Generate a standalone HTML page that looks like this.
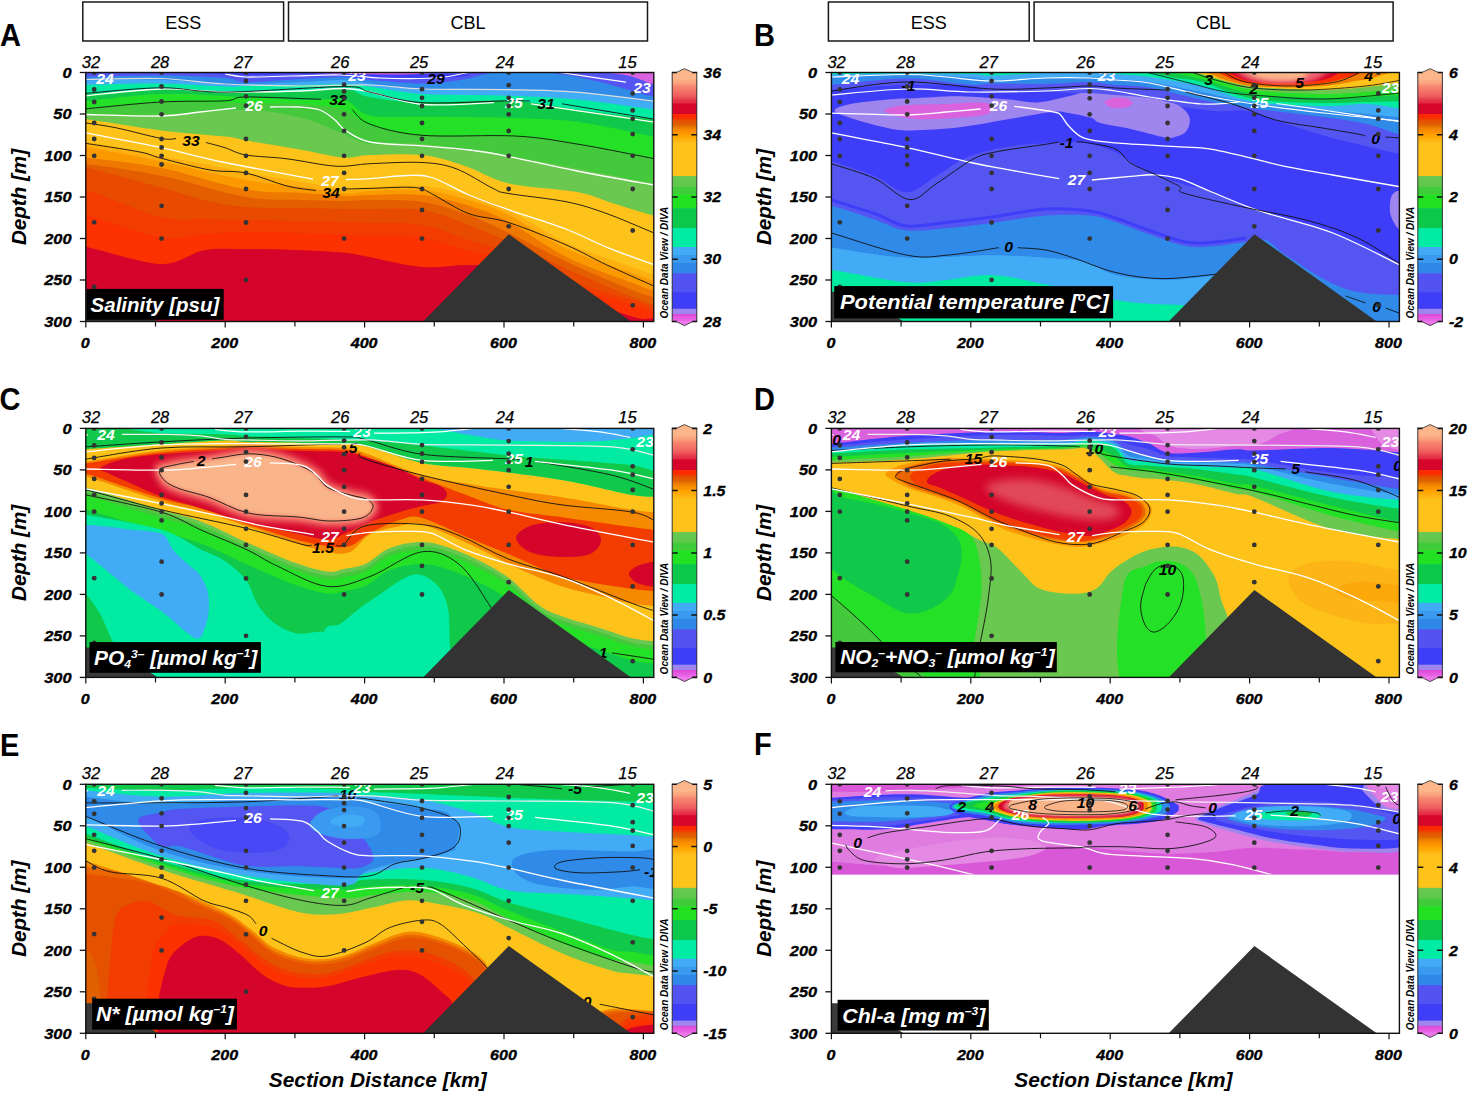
<!DOCTYPE html><html><head><meta charset="utf-8"><style>
html,body{margin:0;padding:0;background:#fff;}
svg{display:block;}
text{font-family:"Liberation Sans", sans-serif;}
.tk{font-size:15.3px;font-weight:bold;font-style:italic;fill:#000;stroke:#000;stroke-width:0.35px;}
.tl{font-size:14.5px;font-weight:bold;font-style:italic;fill:#000;stroke:#000;stroke-width:0.3px;}
.st{font-size:16.5px;font-style:italic;fill:#000;stroke:#000;stroke-width:0.25px;}
.pl{font-size:29px;font-weight:bold;fill:#000;}
.ax{font-size:20px;font-weight:bold;font-style:italic;fill:#000;}
.odv{font-size:10px;font-weight:bold;font-style:italic;fill:#000;}
.bx{font-size:18px;fill:#000;}
.ttl{font-size:20.5px;font-weight:bold;font-style:italic;fill:#fff;}
.cw{font-size:14.3px;font-weight:bold;font-style:italic;fill:#fff;}
.cb{font-size:14.3px;font-weight:bold;font-style:italic;fill:#000;}
</style></head><body>
<svg width="1468" height="1093" viewBox="0 0 1468 1093">
<defs><filter id="blur1_5" x="-20%" y="-50%" width="140%" height="200%"><feGaussianBlur stdDeviation="1.5"/></filter><filter id="blur2" x="-20%" y="-50%" width="140%" height="200%"><feGaussianBlur stdDeviation="2"/></filter><filter id="blur2_5" x="-20%" y="-50%" width="140%" height="200%"><feGaussianBlur stdDeviation="2.5"/></filter><filter id="blur3" x="-20%" y="-50%" width="140%" height="200%"><feGaussianBlur stdDeviation="3"/></filter><filter id="blur4" x="-20%" y="-50%" width="140%" height="200%"><feGaussianBlur stdDeviation="4"/></filter></defs>
<rect width="1468" height="1093" fill="#fff"/>
<rect x="82.8" y="2" width="200.8" height="39" fill="none" stroke="#181818" stroke-width="1.5"/>
<rect x="288.5" y="2" width="359" height="39" fill="none" stroke="#181818" stroke-width="1.5"/>
<text x="183.2" y="28.5" class="bx" text-anchor="middle">ESS</text>
<text x="468" y="28.5" class="bx" text-anchor="middle">CBL</text>
<rect x="828.4" y="2" width="200.8" height="39" fill="none" stroke="#181818" stroke-width="1.5"/>
<rect x="1034.1" y="2" width="359" height="39" fill="none" stroke="#181818" stroke-width="1.5"/>
<text x="928.8" y="28.5" class="bx" text-anchor="middle">ESS</text>
<text x="1213.6" y="28.5" class="bx" text-anchor="middle">CBL</text>
<clipPath id="clip0"><rect x="85.8" y="72.5" width="568" height="249"/></clipPath>
<g clip-path="url(#clip0)">
<rect x="85.8" y="72.5" width="568" height="249" fill="#D4042A"/>
<path d="M66 67.5 L66 247 C69.3 247 70.2 244.2 86 247 C101.8 249.8 141.3 263.5 161 264 C180.7 264.5 189.8 252.7 204 250.2 C218.2 247.7 229.7 249 246 249 C262.3 249 285.5 249.6 302 250.2 C318.5 250.8 334 251.6 345 252.7 C356 253.8 355.2 254.3 368 256.7 C380.8 259.1 405.2 265.6 422 267 C438.8 268.4 452.7 264.8 469 265 C485.3 265.2 504.8 263.8 520 268 C535.2 272.2 541.3 281.9 560 290 C578.7 298.1 616.2 311.7 632 316.4 C647.8 321.1 647.8 317.7 655 318 C662.2 318.3 671.7 318 675 318 L675 67.5 Z" fill="#FB3200"/>
<path d="M66 67.5 L66 215 C69.3 215 70.2 211.2 86 215 C101.8 218.8 141.3 234.3 161 237.5 C180.7 240.7 189.8 234.9 204 234 C218.2 233.1 229.7 232.2 246 232 C262.3 231.8 285.5 232.5 302 233 C318.5 233.5 333.7 234.5 345 235 C356.3 235.5 357.2 235.6 370 236 C382.8 236.4 405.5 234.9 422 237.4 C438.5 239.9 452.7 246.9 469 251 C485.3 255.1 503.7 256.3 520 262 C536.3 267.7 548.3 277.9 567 285 C585.7 292.1 617.3 300 632 304.6 C646.7 309.2 647.8 311.2 655 312.5 C662.2 313.8 671.7 312.5 675 312.5 L675 67.5 Z" fill="#F23C00"/>
<path d="M66 67.5 L66 190 C69.3 190 70.2 185.5 86 190 C101.8 194.5 141.3 212.2 161 217 C180.7 221.8 189.8 218.5 204 219 C218.2 219.5 229.7 219.7 246 220 C262.3 220.3 285.5 220.7 302 221 C318.5 221.3 333.7 221.7 345 222 C356.3 222.3 357.2 222.5 370 223 C382.8 223.5 405.5 222.2 422 225 C438.5 227.8 452.7 234.8 469 240 C485.3 245.2 503.7 249.3 520 256 C536.3 262.7 548.3 272.7 567 280 C585.7 287.3 617.3 295.3 632 300 C646.7 304.7 647.8 306.7 655 308 C662.2 309.3 671.7 308 675 308 L675 67.5 Z" fill="#E84A00"/>
<path d="M66 67.5 L66 167.3 C69.3 167.3 70.2 163.9 86 167.3 C101.8 170.7 141.3 182.2 161 187.6 C180.7 193 189.8 196.8 204 200 C218.2 203.2 229.7 205.7 246 207 C262.3 208.3 285.5 207.7 302 208 C318.5 208.3 333.7 208.8 345 209 C356.3 209.2 357.2 208.9 370 209 C382.8 209.1 405.5 207.1 422 209.8 C438.5 212.5 454.5 219.6 469 225 C483.5 230.4 492.7 234.7 509 242 C525.3 249.3 546.5 259.9 567 269 C587.5 278.1 617.3 290.8 632 296.7 C646.7 302.6 647.8 303.3 655 304.6 C662.2 305.9 671.7 304.6 675 304.6 L675 67.5 Z" fill="#E45E00"/>
<path d="M66 67.5 L66 164 C69.3 164 70.2 162.1 86 164 C101.8 165.9 134.3 170.2 161 175.7 C187.7 181.2 222.5 192.9 246 197 C269.5 201.1 285.5 199.3 302 200 C318.5 200.7 333.7 201 345 201 C356.3 201 357.2 199.8 370 200 C382.8 200.2 405.5 199.4 422 201.9 C438.5 204.4 454.5 209.8 469 215 C483.5 220.2 492.7 225.2 509 233 C525.3 240.8 546.5 252.5 567 262 C587.5 271.5 617.3 284.2 632 290 C646.7 295.8 647.8 295.8 655 297 C662.2 298.2 671.7 297 675 297 L675 67.5 Z" fill="#EE7800"/>
<path d="M66 67.5 L66 157.8 C69.3 157.8 70.2 156.1 86 157.8 C101.8 159.5 134.3 162.7 161 168 C187.7 173.3 222.5 185.3 246 189.5 C269.5 193.7 285.5 191.9 302 193 C318.5 194.1 333.7 195.7 345 196 C356.3 196.3 357.2 195.2 370 195 C382.8 194.8 405.5 193.2 422 195 C438.5 196.8 454.5 201.3 469 205.8 C483.5 210.3 492.7 213.4 509 222 C525.3 230.6 546.5 247.1 567 257.2 C587.5 267.3 617.3 277.2 632 282.8 C646.7 288.4 647.8 289.5 655 290.8 C662.2 292.1 671.7 290.8 675 290.8 L675 67.5 Z" fill="#FA9A00"/>
<path d="M66 67.5 L66 147 C69.3 147 70.2 144.6 86 147 C101.8 149.4 134.3 155.9 161 161.4 C187.7 166.9 222.5 175.7 246 180 C269.5 184.3 285.5 184.8 302 187 C318.5 189.2 333.7 192.8 345 193.5 C356.3 194.2 357.2 191.6 370 191 C382.8 190.4 405.5 188.5 422 190 C438.5 191.5 454.5 195.8 469 200 C483.5 204.2 492.7 206.8 509 215 C525.3 223.2 546.5 239.3 567 249 C587.5 258.7 617.3 267.7 632 273 C646.7 278.3 647.8 279.7 655 281 C662.2 282.3 671.7 281 675 281 L675 67.5 Z" fill="#FDB010"/>
<path d="M66 67.5 L66 142 C69.3 142 70.2 139.7 86 142 C101.8 144.3 137.8 151.7 161 156 C184.2 160.3 210.8 165.2 225 168 C239.2 170.8 233.2 170.7 246 173 C258.8 175.3 285.5 179.3 302 182 C318.5 184.7 333.7 188.2 345 189 C356.3 189.8 357.2 187.5 370 187 C382.8 186.5 405.5 184.7 422 186 C438.5 187.3 454.5 191 469 195 C483.5 199 492.7 202 509 210 C525.3 218 546.5 233.5 567 243 C587.5 252.5 617.3 261.7 632 267 C646.7 272.3 647.8 273.7 655 275 C662.2 276.3 671.7 275 675 275 L675 67.5 Z" fill="#FEC31A"/>
<path d="M66 67.5 L66 119.3 C69.3 119.3 70.2 117.4 86 119.3 C101.8 121.2 137.8 127.5 161 130.4 C184.2 133.3 210.8 134.9 225 136.6 C239.2 138.3 233.2 138.3 246 140.5 C258.8 142.7 285.7 147.2 302 150 C318.3 152.8 332.7 156.8 344 157.6 C355.3 158.4 357 155.5 370 155.1 C383 154.7 406.2 153.3 422 155.1 C437.8 156.9 450.5 161.3 465 166 C479.5 170.7 490.3 179.2 509 183.5 C527.7 187.8 559.8 188.8 577 192.1 C594.2 195.3 599 199.1 612 203 C625 206.9 644.5 213.6 655 215.7 C665.5 217.8 671.7 215.7 675 215.7 L675 67.5 Z" fill="#6AC850"/>
<path d="M66 67.5 L66 114 C69.3 114 70.2 114 86 114 C101.8 114 134.3 115 161 114.3 C187.7 113.6 222.5 109.4 246 110 C269.5 110.6 285.7 114 302 118 C318.3 122 332.7 129.7 344 134 C355.3 138.3 357 142.3 370 144 C383 145.7 398.8 141.9 422 144 C445.2 146.1 483.2 152.2 509 156.3 C534.8 160.4 552.7 164.2 577 168.7 C601.3 173.2 638.7 181 655 183.5 C671.3 186 671.7 183.5 675 183.5 L675 67.5 Z" fill="#44C83C"/>
<path d="M66 67.5 L66 108.8 C69.3 108.8 70.2 109.9 86 108.8 C101.8 107.7 134.3 102.9 161 102 C187.7 101.1 222.5 102.9 246 103.2 C269.5 103.5 285.7 102.9 302 104 C318.3 105.1 332.7 106.4 344 110 C355.3 113.6 357 121.3 370 125.5 C383 129.7 397.8 133.5 422 135.3 C446.2 137.2 489.2 135.2 515 136.6 C540.8 138 553.7 140.3 577 144 C600.3 147.7 638.7 156.3 655 158.8 C671.3 161.3 671.7 158.8 675 158.8 L675 67.5 Z" fill="#24E026"/>
<path d="M66 67.5 L66 101 C69.3 101 70.2 102.2 86 101 C101.8 99.8 134.3 94.7 161 94 C187.7 93.3 222.5 96 246 97 C269.5 98 285.7 99.5 302 100 C318.3 100.5 332.7 97.4 344 100 C355.3 102.6 357 112.8 370 115.6 C383 118.4 398.8 116.4 422 116.8 C445.2 117.2 483.2 117.2 509 118 C534.8 118.8 552.7 118.7 577 121.8 C601.3 124.9 638.7 134.1 655 136.6 C671.3 139.1 671.7 136.6 675 136.6 L675 67.5 Z" fill="#10C84A"/>
<path d="M66 67.5 L66 94 C69.3 94 70.2 94.8 86 94 C101.8 93.2 137.8 89.3 161 89 C184.2 88.7 210.8 91.8 225 92.1 C239.2 92.4 233.2 91.2 246 91 C258.8 90.8 285.7 91.4 302 91 C318.3 90.6 332.7 87.4 344 88.4 C355.3 89.4 357 94.7 370 97.1 C383 99.5 398.8 102 422 102.6 C445.2 103.2 483.2 99.7 509 100.8 C534.8 101.9 552.7 106.3 577 109.4 C601.3 112.5 638.7 117.7 655 119.3 C671.3 120.9 671.7 119.3 675 119.3 L675 67.5 Z" fill="#02EBA3"/>
<path d="M66 67.5 L66 84.7 C69.3 84.7 70.2 84.9 86 84.7 C101.8 84.5 137.8 83.2 161 83.5 C184.2 83.8 210.8 86.2 225 86.6 C239.2 87 233.2 86.3 246 86 C258.8 85.7 285.7 85.3 302 85 C318.3 84.7 332.7 83.7 344 84 C355.3 84.3 357 84.9 370 86.6 C383 88.3 398.8 92.5 422 94 C445.2 95.5 483.2 94.9 509 95.8 C534.8 96.7 552.7 97.2 577 99.5 C601.3 101.8 638.7 107.8 655 109.4 C671.3 111.1 671.7 109.4 675 109.4 L675 67.5 Z" fill="#42ABF6"/>
<path d="M66 67.5 L66 80.4 C69.3 80.4 70.2 80.5 86 80.4 C101.8 80.3 137.8 79.1 161 79.8 C184.2 80.5 210.8 83.9 225 84.7 C239.2 85.5 233.2 85 246 84.5 C258.8 84 285.7 82.8 302 82 C318.3 81.2 332.7 79.8 344 80 C355.3 80.2 357 81.9 370 83.5 C383 85.1 398.8 88.6 422 89.6 C445.2 90.6 483.2 89.2 509 89.6 C534.8 90 552.7 90 577 92.1 C601.3 94.2 638.7 100.3 655 102 C671.3 103.7 671.7 102 675 102 L675 67.5 Z" fill="#2F8AE8"/>
<path d="M66 67.5 L66 76.7 C69.3 76.7 70.2 76.9 86 76.7 C101.8 76.5 137.8 75.2 161 75.4 C184.2 75.6 210.8 76.8 225 77.9 C239.2 79 233.2 82 246 82.2 C258.8 82.4 285.7 79.9 302 79 C318.3 78.1 332.7 76.8 344 77 C355.3 77.2 357 78.9 370 80 C383 81.1 407 83.5 422 83.5 C437 83.5 448.7 81.8 460 80 C471.3 78.2 481.8 74.7 490 73 C498.2 71.3 502.3 70.3 509 70 C515.7 69.7 521.5 70.3 530 71 C538.5 71.7 548.3 72.2 560 74 C571.7 75.8 584.2 78.2 600 82 C615.8 85.8 642.5 94.5 655 97 C667.5 99.5 671.7 97 675 97 L675 67.5 Z" fill="#5555F2"/>
<path d="M200 73 C201 73.5 231 74.8 246 75 C261 75.2 276 74 290 74 C304 74 315 74.5 330 75 C345 75.5 361.7 76.5 380 77 C398.3 77.5 425 78.3 440 78 C455 77.7 470 75.7 470 75 C470 74.3 455 74.2 440 74 C425 73.8 403.3 74.3 380 74 C356.7 73.7 323.3 72.3 300 72 C276.7 71.7 256.7 71.8 240 72 C223.3 72.2 199 72.5 200 73 Z" fill="#3E3EF8"/>
<path d="M290 72 C290 72.4 311.7 73.1 330 73.5 C348.3 73.9 383.3 74.6 400 74.5 C416.7 74.4 430 73.5 430 73 C430 72.5 416.7 71.8 400 71.5 C383.3 71.2 348.3 70.9 330 71 C311.7 71.1 290 71.6 290 72 Z" fill="#DA62DC"/>
<path d="M600 71 C595 72 620.7 73.8 630 76 C639.3 78.2 651 85 656 84 C661 83 669.3 72.2 660 70 C650.7 67.8 605 70 600 71 Z" fill="#DA62DC"/>
<path d="M86 79.5 C98.5 79.3 137.8 77.8 161 78.5 C184.2 79.2 201.8 82.8 225 84 C248.2 85.2 275.8 85.8 300 86 C324.2 86.2 349.7 84.5 370 85 C390.3 85.5 399 88.2 422 89 C445 89.8 482.2 89.1 508 89.6 C533.8 90.1 552.3 90.1 577 92.1 C601.7 94.1 642.8 99.9 656 101.4" fill="none" stroke="#ddd" stroke-width="1.2"/>
<path d="M225 74 C228.5 74.5 235.2 76.7 246 77 C256.8 77.3 274.3 76.3 290 76 C305.7 75.7 325 74.7 340 75 C355 75.3 366.7 77.4 380 78 C393.3 78.6 409.2 78.7 420 78.5 C430.8 78.3 436.7 78.1 445 77 C453.3 75.9 465.8 72.8 470 72" fill="none" stroke="#fff" stroke-width="1.2"/>
<path d="M560 72.5 C571 74.1 615 80.6 626 82.2" fill="none" stroke="#fff" stroke-width="1.2"/>
<path d="M86 95.8 C98.5 94.7 137.8 89.6 161 89 C184.2 88.4 201.8 91.7 225 92 C248.2 92.3 280.2 91.6 300 91 C319.8 90.4 332.3 88.3 344 88.5 C355.7 88.7 357 89.3 370 92 C383 94.7 401.3 102.7 422 104.5 C442.7 106.3 482 102.9 494 102.6" fill="none" stroke="#fff" stroke-width="1.3"/>
<path d="M531 103.8 C538.7 104.9 556.2 107.5 577 110.6 C597.8 113.7 642.8 120.4 656 122.4" fill="none" stroke="#fff" stroke-width="1.3"/>
<path d="M86 114.5 C98.5 114.8 142 116.4 161 116 C180 115.6 187.5 113.3 200 112 C212.5 110.7 230 108.7 236 108" fill="none" stroke="#fff" stroke-width="1.3"/>
<path d="M270 107 C275 107 291.7 106.5 300 107 C308.3 107.5 314.2 107.8 320 110 C325.8 112.2 330.8 116.7 335 120 C339.2 123.3 339.2 126.3 345 130 C350.8 133.7 357.2 139.4 370 142 C382.8 144.6 405.3 144.5 422 145.8 C438.7 147.1 455.7 148.2 470 150 C484.3 151.8 490.2 152.8 508 156.3 C525.8 159.8 552.3 166.1 577 171 C601.7 175.9 642.8 183.1 656 185.5" fill="none" stroke="#fff" stroke-width="1.3"/>
<path d="M86 132.9 C98.5 135.4 137.8 142.8 161 147.7 C184.2 152.6 199.7 157.3 225 162.5 C250.3 167.7 298.3 176.2 313 179" fill="none" stroke="#fff" stroke-width="1.3"/>
<path d="M346 179.5 C350 179.3 359.8 179.3 370 178.6 C380.2 177.9 396.7 175.7 407 175.5 C417.3 175.3 421.7 174.2 432 177.5 C442.3 180.8 456.2 189.6 469 195 C481.8 200.4 492.7 204.1 509 209.8 C525.3 215.6 550.7 223.2 567 229.5 C583.3 235.8 592.2 241.3 607 247.3 C621.8 253.3 647.8 262.5 656 265.5" fill="none" stroke="#fff" stroke-width="1.3"/>
<path d="M86 143.4 C95 144.8 127.5 149.5 140 152 C152.5 154.5 149.3 155.2 161 158.2 C172.7 161.2 195.8 167.5 210 170 C224.2 172.5 233.2 170.3 246 173 C258.8 175.7 275.3 183.1 287 186 C298.7 188.9 311.2 189.8 316 190.5" fill="none" stroke="#111" stroke-width="0.9"/>
<path d="M344 189 C348.3 188.9 359.5 188.7 370 188.4 C380.5 188.1 398.3 187.1 407 187.2 C415.7 187.3 417.5 187.7 422 189 C426.5 190.3 426.2 190.9 434 195 C441.8 199.1 456.5 209.1 469 213.7 C481.5 218.3 492.7 217.3 509 222.6 C525.3 227.9 550.7 238.2 567 245.3 C583.3 252.4 592.2 258.1 607 265 C621.8 271.9 647.8 283.3 656 287" fill="none" stroke="#111" stroke-width="0.9"/>
<path d="M86 123 C91.2 123.8 104.5 125.4 117 128 C129.5 130.6 151.2 136.6 161 138.4 C170.8 140.2 173.5 138.6 176 138.6" fill="none" stroke="#111" stroke-width="0.9"/>
<path d="M206 142.5 C209.2 143.4 218.3 145.6 225 147.7 C231.7 149.8 235.7 153.2 246 155 C256.3 156.8 272 156.9 287 158.8 C302 160.7 322.2 165.4 336 166.2 C349.8 167 355.7 164.3 370 163.7 C384.3 163.1 407.7 161.7 422 162.5 C436.3 163.3 444.2 164.4 456 168.7 C467.8 173 484.3 184.3 493 188.4 C501.7 192.5 495.7 191.2 508 193.4 C520.3 195.7 550.5 198.5 567 201.9 C583.5 205.3 592.2 208.4 607 213.7 C621.8 219 647.8 230.5 656 233.8" fill="none" stroke="#111" stroke-width="0.9"/>
<path d="M86 108.8 C98.5 107.7 137.8 103.3 161 102 C184.2 100.7 210.8 101.6 225 100.8 C239.2 100 230 97.2 246 97 C262 96.8 308.5 98.9 321 99.3" fill="none" stroke="#111" stroke-width="0.9"/>
<path d="M352 109.4 C355 111.9 358.3 119.9 370 124.2 C381.7 128.5 397.8 133.3 422 135.3 C446.2 137.3 489.2 134.6 515 136 C540.8 137.4 553.5 140.2 577 144 C600.5 147.8 642.8 156.5 656 159" fill="none" stroke="#111" stroke-width="0.9"/>
<path d="M86 93.3 C98.5 92.4 137.8 88 161 87.8 C184.2 87.6 194.5 92.3 225 92.1 C255.5 91.9 319.8 86.6 344 86.6 C368.2 86.6 357 89.4 370 92.1 C383 94.8 399 101.1 422 102.6 C445 104 490 101.1 508 100.8 C526 100.5 526.3 101 530 101" fill="none" stroke="#111" stroke-width="0.9"/>
<path d="M562 103.8 C577.7 106.4 640.3 116.9 656 119.5" fill="none" stroke="#111" stroke-width="0.9"/>
<text transform="translate(105 84) scale(1.1 1)" class="cw" text-anchor="middle">24</text>
<text transform="translate(254 111) scale(1.1 1)" class="cw" text-anchor="middle">26</text>
<text transform="translate(338 105) scale(1.1 1)" class="cb" text-anchor="middle">32</text>
<text transform="translate(191 146) scale(1.1 1)" class="cb" text-anchor="middle">33</text>
<text transform="translate(330 186) scale(1.1 1)" class="cw" text-anchor="middle">27</text>
<text transform="translate(331 198) scale(1.1 1)" class="cb" text-anchor="middle">34</text>
<text transform="translate(514 108) scale(1.1 1)" class="cw" text-anchor="middle">25</text>
<text transform="translate(546 108.5) scale(1.1 1)" class="cb" text-anchor="middle">31</text>
<text transform="translate(436 84) scale(1.1 1)" class="cb" text-anchor="middle">29</text>
<text transform="translate(357 81) scale(1.1 1)" class="cw" text-anchor="middle">23</text>
<text transform="translate(642 93) scale(1.1 1)" class="cw" text-anchor="middle">23</text>
</g>
<path d="M422.6 322 L508.8 234.2 L631.8 322 Z" fill="#333"/>
<g clip-path="url(#clip0)">
<circle cx="94.2" cy="72.5" r="2.4" fill="#333"/>
<circle cx="94.2" cy="89.5" r="2.4" fill="#333"/>
<circle cx="94.2" cy="102" r="2.4" fill="#333"/>
<circle cx="94.2" cy="123" r="2.4" fill="#333"/>
<circle cx="94.2" cy="139" r="2.4" fill="#333"/>
<circle cx="94.2" cy="155.8" r="2.4" fill="#333"/>
<circle cx="94.2" cy="222.3" r="2.4" fill="#333"/>
<circle cx="94.2" cy="287" r="2.4" fill="#333"/>
<circle cx="161.6" cy="72.5" r="2.4" fill="#333"/>
<circle cx="161.6" cy="86.5" r="2.4" fill="#333"/>
<circle cx="161.6" cy="101.5" r="2.4" fill="#333"/>
<circle cx="161.6" cy="114.3" r="2.4" fill="#333"/>
<circle cx="161.6" cy="139" r="2.4" fill="#333"/>
<circle cx="161.6" cy="147.5" r="2.4" fill="#333"/>
<circle cx="161.6" cy="155.8" r="2.4" fill="#333"/>
<circle cx="161.6" cy="164.5" r="2.4" fill="#333"/>
<circle cx="161.6" cy="205.8" r="2.4" fill="#333"/>
<circle cx="161.6" cy="238.6" r="2.4" fill="#333"/>
<circle cx="246" cy="72.5" r="2.4" fill="#333"/>
<circle cx="246" cy="81" r="2.4" fill="#333"/>
<circle cx="246" cy="96.3" r="2.4" fill="#333"/>
<circle cx="246" cy="105.7" r="2.4" fill="#333"/>
<circle cx="246" cy="139" r="2.4" fill="#333"/>
<circle cx="246" cy="155.8" r="2.4" fill="#333"/>
<circle cx="246" cy="172.9" r="2.4" fill="#333"/>
<circle cx="246" cy="189" r="2.4" fill="#333"/>
<circle cx="246" cy="222.5" r="2.4" fill="#333"/>
<circle cx="246" cy="279.9" r="2.4" fill="#333"/>
<circle cx="344.1" cy="72.5" r="2.4" fill="#333"/>
<circle cx="344.1" cy="84.7" r="2.4" fill="#333"/>
<circle cx="344.1" cy="91.4" r="2.4" fill="#333"/>
<circle cx="344.1" cy="98.3" r="2.4" fill="#333"/>
<circle cx="344.1" cy="114.3" r="2.4" fill="#333"/>
<circle cx="344.1" cy="130.9" r="2.4" fill="#333"/>
<circle cx="344.1" cy="155.8" r="2.4" fill="#333"/>
<circle cx="344.1" cy="172.9" r="2.4" fill="#333"/>
<circle cx="344.1" cy="189" r="2.4" fill="#333"/>
<circle cx="344.1" cy="238.6" r="2.4" fill="#333"/>
<circle cx="422" cy="72.5" r="2.4" fill="#333"/>
<circle cx="422" cy="89.2" r="2.4" fill="#333"/>
<circle cx="422" cy="97.8" r="2.4" fill="#333"/>
<circle cx="422" cy="106" r="2.4" fill="#333"/>
<circle cx="422" cy="123" r="2.4" fill="#333"/>
<circle cx="422" cy="139" r="2.4" fill="#333"/>
<circle cx="422" cy="155.8" r="2.4" fill="#333"/>
<circle cx="422" cy="189" r="2.4" fill="#333"/>
<circle cx="422" cy="210" r="2.4" fill="#333"/>
<circle cx="422" cy="238.6" r="2.4" fill="#333"/>
<circle cx="508.7" cy="72.5" r="2.4" fill="#333"/>
<circle cx="508.7" cy="85.2" r="2.4" fill="#333"/>
<circle cx="508.7" cy="97.8" r="2.4" fill="#333"/>
<circle cx="508.7" cy="106" r="2.4" fill="#333"/>
<circle cx="508.7" cy="114.3" r="2.4" fill="#333"/>
<circle cx="508.7" cy="130.9" r="2.4" fill="#333"/>
<circle cx="508.7" cy="155.8" r="2.4" fill="#333"/>
<circle cx="508.7" cy="189" r="2.4" fill="#333"/>
<circle cx="508.7" cy="226.3" r="2.4" fill="#333"/>
<circle cx="632.7" cy="72.5" r="2.4" fill="#333"/>
<circle cx="632.7" cy="93.4" r="2.4" fill="#333"/>
<circle cx="632.7" cy="110.4" r="2.4" fill="#333"/>
<circle cx="632.7" cy="118.8" r="2.4" fill="#333"/>
<circle cx="632.7" cy="134.1" r="2.4" fill="#333"/>
<circle cx="632.7" cy="155.8" r="2.4" fill="#333"/>
<circle cx="632.7" cy="189" r="2.4" fill="#333"/>
<circle cx="632.7" cy="230.5" r="2.4" fill="#333"/>
<circle cx="632.7" cy="305.3" r="2.4" fill="#333"/>
</g>
<path d="M85.8 291.7 L110 291.7 L158 321.5 L85.8 321.5 Z" fill="#3a3a3a"/><rect x="86.5" y="288.9" width="137.2" height="30.9" fill="#000"/><text x="90.6" y="311.6" class="ttl" style="font-size:21px" textLength="128.7" lengthAdjust="spacingAndGlyphs">Salinity [psu]</text>
<rect x="85.8" y="72.5" width="568" height="249" fill="none" stroke="#111" stroke-width="1.4"/>
<path d="M85.8 72.5 h-6" stroke="#111" stroke-width="1.3"/>
<text transform="translate(71.5 77.8) scale(1.07 1)" class="tk" text-anchor="end">0</text>
<path d="M85.8 114 h-6" stroke="#111" stroke-width="1.3"/>
<text transform="translate(71.5 119.3) scale(1.07 1)" class="tk" text-anchor="end">50</text>
<path d="M85.8 155.5 h-6" stroke="#111" stroke-width="1.3"/>
<text transform="translate(71.5 160.8) scale(1.07 1)" class="tk" text-anchor="end">100</text>
<path d="M85.8 197 h-6" stroke="#111" stroke-width="1.3"/>
<text transform="translate(71.5 202.3) scale(1.07 1)" class="tk" text-anchor="end">150</text>
<path d="M85.8 238.5 h-6" stroke="#111" stroke-width="1.3"/>
<text transform="translate(71.5 243.8) scale(1.07 1)" class="tk" text-anchor="end">200</text>
<path d="M85.8 280 h-6" stroke="#111" stroke-width="1.3"/>
<text transform="translate(71.5 285.3) scale(1.07 1)" class="tk" text-anchor="end">250</text>
<path d="M85.8 321.5 h-6" stroke="#111" stroke-width="1.3"/>
<text transform="translate(71.5 326.8) scale(1.07 1)" class="tk" text-anchor="end">300</text>
<path d="M85.8 321.5 v6" stroke="#111" stroke-width="1.2"/>
<text transform="translate(85.3 348.3) scale(1.05 1)" class="tk" text-anchor="middle">0</text>
<path d="M155.5 321.5 v5" stroke="#111" stroke-width="1.2"/>
<path d="M225.2 321.5 v6" stroke="#111" stroke-width="1.2"/>
<text transform="translate(224.7 348.3) scale(1.05 1)" class="tk" text-anchor="middle">200</text>
<path d="M294.9 321.5 v5" stroke="#111" stroke-width="1.2"/>
<path d="M364.6 321.5 v6" stroke="#111" stroke-width="1.2"/>
<text transform="translate(364.1 348.3) scale(1.05 1)" class="tk" text-anchor="middle">400</text>
<path d="M434.3 321.5 v5" stroke="#111" stroke-width="1.2"/>
<path d="M504 321.5 v6" stroke="#111" stroke-width="1.2"/>
<text transform="translate(503.5 348.3) scale(1.05 1)" class="tk" text-anchor="middle">600</text>
<path d="M573.7 321.5 v5" stroke="#111" stroke-width="1.2"/>
<path d="M643.4 321.5 v6" stroke="#111" stroke-width="1.2"/>
<text transform="translate(642.9 348.3) scale(1.05 1)" class="tk" text-anchor="middle">800</text>
<text x="91" y="67.5" class="st" text-anchor="middle">32</text>
<text x="160.1" y="67.5" class="st" text-anchor="middle">28</text>
<text x="243.1" y="67.5" class="st" text-anchor="middle">27</text>
<text x="340.2" y="67.5" class="st" text-anchor="middle">26</text>
<text x="419.1" y="67.5" class="st" text-anchor="middle">25</text>
<text x="505" y="67.5" class="st" text-anchor="middle">24</text>
<text x="627.4" y="67.5" class="st" text-anchor="middle">15</text>
<text transform="translate(0 45.7) scale(1 1.08)" class="pl">A</text>
<text transform="translate(25.5 197) rotate(-90) scale(1.03 1)" class="ax" text-anchor="middle">Depth [m]</text>
<defs>
<linearGradient id="cbg1_672_72" x1="0" y1="0" x2="0" y2="1"><stop offset="0" stop-color="#FDB68A"/><stop offset="0.2" stop-color="#FA9E7C"/><stop offset="0.3" stop-color="#F8866F"/><stop offset="0.5" stop-color="#F47266"/><stop offset="0.7" stop-color="#EE5A5E"/><stop offset="0.8" stop-color="#E8404F"/><stop offset="1" stop-color="#E2203F"/></linearGradient>
<linearGradient id="cbg4_672_72" x1="0" y1="0" x2="0" y2="1"><stop offset="0" stop-color="#FB2A00"/><stop offset="0.1" stop-color="#E84A00"/><stop offset="0.3" stop-color="#DD6600"/><stop offset="0.4" stop-color="#F08000"/><stop offset="0.6" stop-color="#FF9500"/><stop offset="0.7" stop-color="#FFA500"/><stop offset="0.9" stop-color="#FDB515"/><stop offset="1" stop-color="#FEC31A"/></linearGradient>
<linearGradient id="cbg6_672_72" x1="0" y1="0" x2="0" y2="1"><stop offset="0" stop-color="#6BC853"/><stop offset="1" stop-color="#5CC84A"/></linearGradient>
<linearGradient id="cbg17_672_72" x1="0" y1="0" x2="0" y2="1"><stop offset="0" stop-color="#DE46D6"/><stop offset="1" stop-color="#EC70EC"/></linearGradient>
</defs>
<rect x="672.2" y="72.5" width="24.6" height="6.8" fill="#FDB68A"/>
<rect x="672.2" y="78.7" width="24.6" height="25.5" fill="url(#cbg1_672_72)"/>
<rect x="672.2" y="103.6" width="24.6" height="11.1" fill="#D6062A"/>
<rect x="672.2" y="114.1" width="24.6" height="4.1" fill="#FB2A00"/>
<rect x="672.2" y="117.6" width="24.6" height="26" fill="url(#cbg4_672_72)"/>
<rect x="672.2" y="143" width="24.6" height="33.6" fill="#FEC31A"/>
<rect x="672.2" y="176" width="24.6" height="11.6" fill="url(#cbg6_672_72)"/>
<rect x="672.2" y="187" width="24.6" height="7.8" fill="#40CC3A"/>
<rect x="672.2" y="194.3" width="24.6" height="14.5" fill="#22E022"/>
<rect x="672.2" y="208.2" width="24.6" height="20.5" fill="#0CC84A"/>
<rect x="672.2" y="228.1" width="24.6" height="19.5" fill="#00EBA3"/>
<rect x="672.2" y="247" width="24.6" height="8.6" fill="#42ABF6"/>
<rect x="672.2" y="255" width="24.6" height="8.6" fill="#3A9AF0"/>
<rect x="672.2" y="263" width="24.6" height="10.8" fill="#2F88E8"/>
<rect x="672.2" y="273.2" width="24.6" height="19.5" fill="#5353F2"/>
<rect x="672.2" y="292.1" width="24.6" height="17.3" fill="#3E3EF8"/>
<rect x="672.2" y="308.8" width="24.6" height="5.8" fill="#9E86EE"/>
<rect x="672.2" y="314" width="24.6" height="8.1" fill="url(#cbg17_672_72)"/>
<path d="M675.7 73.1 L684.5 68.7 L693.3 73.1 Z" fill="#FDB68A"/>
<path d="M675.7 72.7 L684.5 68.7 L693.3 72.7" fill="none" stroke="#222" stroke-width="0.8"/>
<path d="M675.7 320.9 L684.5 325.7 L693.3 320.9 Z" fill="#EC78EC"/>
<path d="M675.7 321.3 L684.5 325.7 L693.3 321.3" fill="none" stroke="#222" stroke-width="0.8"/>
<path d="M672.2 72.5 V321.5 M696.8 72.5 V321.5" fill="none" stroke="#222" stroke-width="0.9"/>
<path d="M671.8 72.5 h5 M697.2 72.5 h-5 M671.8 321.5 h5 M697.2 321.5 h-5" stroke="#111" stroke-width="1.6"/>
<text transform="translate(703.3 77.7) scale(1.1 1)" class="tl">36</text>
<path d="M672.2 134.8 h5.5 M696.8 134.8 h-5.5" stroke="#111" stroke-width="1.5"/>
<text transform="translate(703.3 139.9) scale(1.1 1)" class="tl">34</text>
<path d="M672.2 197 h5.5 M696.8 197 h-5.5" stroke="#111" stroke-width="1.5"/>
<text transform="translate(703.3 202.2) scale(1.1 1)" class="tl">32</text>
<path d="M672.2 259.2 h5.5 M696.8 259.2 h-5.5" stroke="#111" stroke-width="1.5"/>
<text transform="translate(703.3 264.4) scale(1.1 1)" class="tl">30</text>
<text transform="translate(703.3 326.7) scale(1.1 1)" class="tl">28</text>
<text transform="translate(668.3 318.5) rotate(-90)" class="odv">Ocean Data View / DIVA</text>
<clipPath id="clip1"><rect x="831.4" y="72.5" width="568" height="249"/></clipPath>
<g clip-path="url(#clip1)">
<rect x="831.4" y="72.5" width="568" height="249" fill="#5555F2"/>
<path d="M811.6 326.5 L811.6 205.7 C814.9 205.7 820.9 203.3 831.6 205.7 C842.3 208.1 863.1 215.9 875.6 220 C888.1 224.1 894.3 229.2 906.6 230.5 C918.9 231.8 935.4 229.2 949.6 228 C963.8 226.8 975.6 225.1 991.6 223 C1007.6 220.9 1029.3 216.8 1045.6 215.6 C1061.9 214.4 1077.9 214.5 1089.6 215.6 C1101.3 216.7 1106.3 219.1 1115.6 222 C1124.9 224.9 1133.9 229 1145.6 233 C1157.3 237 1173.9 243.8 1185.6 246 C1197.3 248.2 1205.6 246.7 1215.6 246 C1225.6 245.3 1237.3 243 1245.6 242 C1253.9 241 1258.9 237.8 1265.6 240 C1272.3 242.2 1275.6 248.3 1285.6 255 C1295.6 261.7 1313.6 273.8 1325.6 280 C1337.6 286.2 1345.1 289.5 1357.6 292 C1370.1 294.5 1390.1 294.5 1400.6 295 C1411.1 295.5 1417.3 295 1420.6 295 L1420.6 326.5 Z" fill="#2F8AE8"/>
<path d="M811.6 326.5 L811.6 247.7 C814.9 247.7 815.8 246 831.6 247.7 C847.4 249.3 879.9 256.4 906.6 257.6 C933.3 258.9 968.1 255.1 991.6 255.2 C1015.1 255.3 1031.9 256.9 1047.6 258 C1063.3 259.1 1074.3 259.2 1085.6 262 C1096.9 264.8 1102.3 272 1115.6 275 C1128.9 278 1148.9 279.8 1165.6 280 C1182.3 280.2 1198.9 276.8 1215.6 276 C1232.3 275.2 1250.6 266 1265.6 275 C1280.6 284 1283.1 320.8 1305.6 330 C1328.1 339.2 1381.4 330 1400.6 330 C1419.8 330 1417.3 330 1420.6 330 L1420.6 326.5 Z" fill="#42ABF6"/>
<path d="M811.6 326.5 L811.6 270 C814.9 270 815.8 267.9 831.6 270 C847.4 272.1 887.6 280.6 906.6 282.3 C925.6 284 931.4 281.2 945.6 280 C959.8 278.8 974.6 274.2 991.6 275 C1008.6 275.8 1026.9 280.6 1047.6 284.8 C1068.3 289 1095.9 296.7 1115.6 300 C1135.3 303.3 1147.3 303.6 1165.6 304.6 C1183.9 305.6 1208.9 305.1 1225.6 306 C1242.3 306.9 1252.3 304.3 1265.6 310 C1278.9 315.7 1283.1 335 1305.6 340 C1328.1 345 1381.4 340 1400.6 340 C1419.8 340 1417.3 340 1420.6 340 L1420.6 326.5 Z" fill="#02EBA3"/>

<path d="M825.6 89.6 C839.1 88.8 882.4 85.3 906.6 84.7 C930.8 84.1 956.4 84.8 970.6 86 C984.8 87.2 979.1 91 991.6 92 C1004.1 93 1029.3 91.8 1045.6 92 C1061.9 92.2 1077.9 92.8 1089.6 93.3 C1101.3 93.8 1102.6 93.1 1115.6 95 C1128.6 96.9 1150.9 101.8 1167.6 104.5 C1184.3 107.2 1202.6 110.1 1215.6 111 C1228.6 111.9 1239.1 109.8 1245.6 110 C1252.1 110.2 1249.6 110.3 1254.6 112 C1259.6 113.7 1264.3 116.2 1275.6 120 C1286.9 123.8 1308.9 131 1322.6 135 C1336.3 139 1343.8 140.8 1357.6 144 C1371.4 147.2 1397.6 152.3 1405.6 154 L1405.6 266 C1393.4 260.5 1357.1 242.2 1332.6 233 C1308.1 223.8 1279.1 217.7 1258.6 210.7 C1238.1 203.7 1221.8 195.3 1209.6 191 C1197.4 186.7 1194.9 187.8 1185.6 185 C1176.3 182.2 1161.9 177.3 1153.6 174 C1145.3 170.7 1141.9 168.6 1135.6 165 C1129.3 161.4 1123.9 155.9 1115.6 152.2 C1107.3 148.5 1096.1 144.6 1085.6 143 C1075.1 141.4 1063.4 142.6 1052.6 142.9 C1041.8 143.2 1030.9 143.8 1020.6 145 C1010.3 146.2 1000.1 147.7 990.6 150 C981.1 152.3 972.6 154.5 963.6 158.8 C954.6 163.1 946.1 170.4 936.6 176 C927.1 181.6 916.9 192.2 906.6 192.2 C896.3 192.2 887.1 181.2 874.6 176 C862.1 170.8 838.8 163.8 831.6 161.3 Z" fill="#3E3EF8"/>
<path d="M831.6 200 C838.9 202.3 863.1 209.7 875.6 214 C888.1 218.3 894.3 224.7 906.6 226 C918.9 227.3 935.4 223.5 949.6 222 C963.8 220.5 975.6 219.2 991.6 217 C1007.6 214.8 1029.3 210 1045.6 209 C1061.9 208 1077.9 209.5 1089.6 211 C1101.3 212.5 1106.3 215 1115.6 218 C1124.9 221 1133.9 225 1145.6 229 C1157.3 233 1173.9 239.8 1185.6 242 C1197.3 244.2 1205.6 242.7 1215.6 242 C1225.6 241.3 1240.6 238.7 1245.6 238" fill="none" stroke="#3E3EF8" stroke-width="3.0"/>
<path d="M834.6 110.6 C834.6 108.3 841.8 105.8 850.6 104 C859.4 102.2 877.4 100.5 887.6 99.5 C897.8 98.5 899.6 98.8 911.6 98.3 C923.6 97.8 943.8 96 959.6 96.2 C975.4 96.4 993.6 98.3 1006.6 99.3 C1019.6 100.3 1027.3 102.9 1037.6 102.4 C1047.9 101.9 1059.6 98 1068.6 96.2 C1077.6 94.4 1081.3 92.1 1091.6 91.6 C1101.9 91.1 1119.1 91.6 1130.6 93 C1142.1 94.4 1152.4 97.8 1160.6 100 C1168.8 102.2 1174.8 103 1179.6 106 C1184.4 109 1188.6 113.7 1189.6 118 C1190.6 122.3 1188.8 128.7 1185.6 132 C1182.4 135.3 1174.6 137.2 1170.6 138 C1166.6 138.8 1168.3 138.2 1161.6 136.7 C1154.9 135.2 1140.9 131.2 1130.6 128.9 C1120.3 126.6 1106.1 124.5 1099.6 122.7 C1093.1 120.9 1096.8 119.6 1091.6 118 C1086.4 116.4 1075.1 114 1068.6 113 C1062.1 112 1062.9 110.7 1052.6 111.8 C1042.3 112.9 1022.1 117 1006.6 119.6 C991.1 122.2 975.4 125.5 959.6 127.3 C943.8 129.1 923.6 130.3 911.6 130.4 C899.6 130.5 897.8 130.1 887.6 128 C877.4 125.9 859.4 120.9 850.6 118 C841.8 115.1 834.6 112.9 834.6 110.6 Z" fill="#9E86EE"/>
<path d="M1391.6 196 C1393.3 192.2 1398.3 189.3 1400.6 192 C1402.9 194.7 1405.6 205.7 1405.6 212 C1405.6 218.3 1403.1 229.5 1400.6 230 C1398.1 230.5 1392.1 220.7 1390.6 215 C1389.1 209.3 1389.9 199.8 1391.6 196 Z" fill="#9E86EE"/>
<path d="M884.6 110.6 C884.6 108.7 890.4 106.8 900.6 105.7 C910.8 104.6 932.3 104.5 945.6 104 C958.9 103.5 972.9 102.2 980.6 102.5 C988.3 102.8 990.4 104.1 991.6 106 C992.8 107.9 991.9 112.2 987.6 114 C983.3 115.8 975.9 116.1 965.6 117 C955.3 117.9 936.4 119.3 925.6 119.3 C914.8 119.3 907.4 118.5 900.6 117 C893.8 115.5 884.6 112.5 884.6 110.6 Z" fill="#DA62DC"/>
<path d="M1104.6 102 C1104.9 100.4 1110.1 98.6 1113.6 98 C1117.1 97.4 1122.4 97.7 1125.6 98.5 C1128.8 99.3 1132.6 101.5 1132.6 103 C1132.6 104.5 1129.1 106.8 1125.6 107.5 C1122.1 108.2 1115.1 108.4 1111.6 107.5 C1108.1 106.6 1104.3 103.6 1104.6 102 Z" fill="#DA62DC"/>
<path d="M811.6 67.5 L811.6 89.6 C814.9 89.6 815.8 90.4 831.6 89.6 C847.4 88.8 883.4 85.3 906.6 84.7 C929.8 84.1 956.4 84.8 970.6 86 C984.8 87.2 979.1 91 991.6 92 C1004.1 93 1029.3 91.8 1045.6 92 C1061.9 92.2 1077.9 92.8 1089.6 93.3 C1101.3 93.8 1105.6 94.2 1115.6 95 C1125.6 95.8 1135.3 96.2 1149.6 98 C1163.9 99.8 1184.3 103.7 1201.6 106 C1218.9 108.3 1241.3 109.7 1253.6 112 C1265.9 114.3 1264.1 116.2 1275.6 120 C1287.1 123.8 1308.9 131 1322.6 135 C1336.3 139 1344.6 140.8 1357.6 144 C1370.6 147.2 1390.1 152.3 1400.6 154 C1411.1 155.7 1417.3 154 1420.6 154 L1420.6 67.5 Z" fill="#5555F2"/>
<path d="M811.6 67.5 L811.6 84.7 C814.9 84.7 815.8 85.7 831.6 84.7 C847.4 83.7 883.4 78.5 906.6 78.5 C929.8 78.5 956.4 83.9 970.6 84.7 C984.8 85.5 979.1 83.6 991.6 83.5 C1004.1 83.4 1029.3 84.2 1045.6 84 C1061.9 83.8 1077.9 81.8 1089.6 82 C1101.3 82.2 1105.6 84.1 1115.6 85 C1125.6 85.9 1135.3 85.1 1149.6 87.6 C1163.9 90 1184.3 96.2 1201.6 99.7 C1218.9 103.2 1233.3 105.5 1253.6 108.4 C1273.9 111.3 1304.8 114.5 1323.6 117.1 C1342.4 119.7 1353.8 121.1 1366.6 124 C1379.4 126.9 1391.6 132.8 1400.6 134.5 C1409.6 136.2 1417.3 134.5 1420.6 134.5 L1420.6 67.5 Z" fill="#2F8AE8"/>
<path d="M811.6 67.5 L811.6 77 C814.9 77 815.8 77.3 831.6 77 C847.4 76.7 883.4 74.9 906.6 75 C929.8 75.1 956.4 76.7 970.6 77.5 C984.8 78.3 979.1 79.9 991.6 80 C1004.1 80.1 1029.3 78.5 1045.6 78 C1061.9 77.5 1077.9 76.8 1089.6 77 C1101.3 77.2 1105.6 78.2 1115.6 79 C1125.6 79.8 1135.3 79.8 1149.6 82 C1163.9 84.2 1184.3 88.5 1201.6 92 C1218.9 95.5 1233.3 100 1253.6 103 C1273.9 106 1304.8 108.2 1323.6 110 C1342.4 111.8 1353.8 112.8 1366.6 114 C1379.4 115.2 1391.6 116.6 1400.6 117.1 C1409.6 117.6 1417.3 117.1 1420.6 117.1 L1420.6 67.5 Z" fill="#42ABF6"/>
<path d="M811.6 67.5 L811.6 74.2 C814.9 74.2 815.8 74.3 831.6 74.2 C847.4 74.1 883.4 73.5 906.6 73.5 C929.8 73.5 956.4 73.7 970.6 74 C984.8 74.3 979.1 75.7 991.6 75.5 C1004.1 75.3 1029.3 73.4 1045.6 73 C1061.9 72.6 1077.9 72.8 1089.6 73 C1101.3 73.2 1105.6 73.3 1115.6 74 C1125.6 74.7 1135.3 75 1149.6 77 C1163.9 79 1184.3 81.9 1201.6 86 C1218.9 90.1 1233.3 98.2 1253.6 101.5 C1273.9 104.8 1304.8 105.6 1323.6 106 C1342.4 106.4 1353.8 103.6 1366.6 104 C1379.4 104.4 1391.6 107.7 1400.6 108.4 C1409.6 109.1 1417.3 108.4 1420.6 108.4 L1420.6 67.5 Z" fill="#02EBA3"/>
<path d="M1085.6 67.5 L1085.6 70 C1088.9 70 1094.9 69.5 1105.6 70 C1116.3 70.5 1137.9 71.7 1149.6 73 C1161.3 74.3 1166.9 76.5 1175.6 78 C1184.3 79.5 1188.6 78.5 1201.6 82 C1214.6 85.5 1233.3 95.4 1253.6 98.9 C1273.9 102.4 1304.8 102.5 1323.6 103 C1342.4 103.5 1353.8 102.2 1366.6 102 C1379.4 101.8 1391.6 101.6 1400.6 101.5 C1409.6 101.4 1417.3 101.5 1420.6 101.5 L1420.6 67.5 Z" fill="#10C84A"/>
<path d="M1105.6 67.5 L1105.6 70 C1108.9 70 1115.6 69.7 1125.6 70 C1135.6 70.3 1152.9 70.5 1165.6 72 C1178.3 73.5 1186.9 75.3 1201.6 79 C1216.3 82.7 1233.3 90.8 1253.6 94 C1273.9 97.2 1304.8 97.5 1323.6 98 C1342.4 98.5 1353.8 97.5 1366.6 97 C1379.4 96.5 1391.6 95.3 1400.6 95 C1409.6 94.7 1417.3 95 1420.6 95 L1420.6 67.5 Z" fill="#24E026"/>
<path d="M1145.6 67.5 L1145.6 70 C1148.9 70 1158.9 69.7 1165.6 70 C1172.3 70.3 1177.3 70.5 1185.6 72 C1193.9 73.5 1204.3 76 1215.6 79 C1226.9 82 1235.6 87.5 1253.6 90 C1271.6 92.5 1304.8 93.7 1323.6 94 C1342.4 94.3 1353.8 92.8 1366.6 92 C1379.4 91.2 1391.6 89.5 1400.6 89 C1409.6 88.5 1417.3 89 1420.6 89 L1420.6 67.5 Z" fill="#6AC850"/>
<path d="M1160.6 67.5 L1160.6 70 C1163.9 70 1173.8 69.3 1180.6 70 C1187.4 70.7 1194.1 72.2 1201.6 74 C1209.1 75.8 1216.9 78.9 1225.6 81 C1234.3 83.1 1243.1 85.4 1253.6 86.7 C1264.1 88 1276.9 88.5 1288.6 89 C1300.3 89.5 1310.6 90.3 1323.6 90 C1336.6 89.7 1353.8 88.2 1366.6 87 C1379.4 85.8 1391.6 83.7 1400.6 83 C1409.6 82.3 1417.3 83 1420.6 83 L1420.6 67.5 Z" fill="#FEC31A"/>
<path d="M1211.6 68 C1189.9 69.7 1211.6 73.5 1215.6 76 C1219.6 78.5 1229.3 81.3 1235.6 83 C1241.9 84.7 1244.8 85.2 1253.6 86 C1262.4 86.8 1276.9 87.5 1288.6 87.5 C1300.3 87.5 1313.3 86.9 1323.6 86 C1333.9 85.1 1341.9 83.5 1350.6 82 C1359.3 80.5 1368.9 79 1375.6 77 C1382.3 75 1395.6 71.8 1390.6 70 C1385.6 68.2 1375.4 66.3 1345.6 66 C1315.8 65.7 1233.3 66.3 1211.6 68 Z" fill="#F08000"/>
<path d="M1219.6 68 C1206.6 69.8 1223.3 74.6 1227.6 77 C1231.9 79.4 1238.4 81.2 1245.6 82.5 C1252.8 83.8 1262.3 84.5 1270.6 85 C1278.9 85.5 1286.8 85.8 1295.6 85.5 C1304.4 85.2 1315.3 84.2 1323.6 83 C1331.9 81.8 1339.9 79.8 1345.6 78 C1351.3 76.2 1364.3 74 1357.6 72 C1350.9 70 1328.6 66.7 1305.6 66 C1282.6 65.3 1232.6 66.2 1219.6 68 Z" fill="#FB3200"/>
<path d="M1229.6 68 C1221.6 69.8 1233.6 74.8 1237.6 77 C1241.6 79.2 1245.1 80.5 1253.6 81.5 C1262.1 82.5 1277.9 83.1 1288.6 83 C1299.3 82.9 1310.1 82.2 1317.6 81 C1325.1 79.8 1330.3 78.2 1333.6 76 C1336.9 73.8 1345.6 69.7 1337.6 68 C1329.6 66.3 1303.6 66 1285.6 66 C1267.6 66 1237.6 66.2 1229.6 68 Z" fill="#D4042A"/>
<g filter="url(#blur2)"><path d="M1237.6 68 C1230.6 69.8 1239.8 74.7 1243.6 77 C1247.4 79.3 1253.6 80.9 1260.6 82 C1267.6 83.1 1277.3 83.7 1285.6 83.5 C1293.9 83.3 1304.3 82.4 1310.6 81 C1316.9 79.6 1320.8 77.2 1323.6 75 C1326.4 72.8 1333.9 69.5 1327.6 68 C1321.3 66.5 1300.6 66 1285.6 66 C1270.6 66 1244.6 66.2 1237.6 68 Z" fill="#EE6470"/></g>
<g filter="url(#blur2)"><path d="M1245.6 68 C1240.6 69.5 1247.3 73.1 1250.6 75 C1253.9 76.9 1259.8 78.6 1265.6 79.5 C1271.4 80.4 1279.6 80.7 1285.6 80.5 C1291.6 80.3 1297.8 79.9 1301.6 78.5 C1305.4 77.1 1307.4 73.8 1308.6 72 C1309.8 70.2 1313.3 69 1308.6 68 C1303.9 67 1291.1 66 1280.6 66 C1270.1 66 1250.6 66.5 1245.6 68 Z" fill="#F9B48A"/></g>
<path d="M831.6 77 C844.1 76.6 887.6 74.5 906.6 74.5 C925.6 74.5 931.4 75.9 945.6 77 C959.8 78.1 974.9 80.8 991.6 81 C1008.3 81.2 1029.3 78.5 1045.6 78 C1061.9 77.5 1077.9 77.7 1089.6 78 C1101.3 78.3 1105.6 79.2 1115.6 80 C1125.6 80.8 1135.3 80.5 1149.6 83 C1163.9 85.5 1184.3 91.5 1201.6 95 C1218.9 98.5 1233.3 101 1253.6 104 C1273.9 107 1299.1 110.2 1323.6 113 C1348.1 115.8 1387.8 119.7 1400.6 121" fill="none" stroke="#fff" stroke-width="1.2"/>
<path d="M831.6 113.1 C844.1 113.4 887.6 115.2 906.6 115 C925.6 114.8 933.3 113 945.6 112 C957.9 111 974.8 109.5 980.6 109" fill="none" stroke="#fff" stroke-width="1.3"/>
<path d="M1014.1 106.3 C1020.6 107.2 1045.2 110.3 1053 111.8 C1060.8 113.2 1058 112.7 1060.6 115 C1063.2 117.3 1064.6 121.9 1068.5 125.8 C1072.4 129.7 1076.3 135.3 1084.1 138.2 C1091.9 141 1099.3 141.5 1115.2 142.9 C1131.1 144.3 1163.9 145.8 1179.6 146.8 C1195.3 147.8 1196.9 146.9 1209.4 148.9 C1221.9 150.9 1242 155.9 1254.4 158.8 C1266.8 161.7 1270.6 163.5 1283.6 166.2 C1296.6 168.9 1312.9 171.5 1332.6 175 C1352.3 178.5 1390.1 185 1401.6 187" fill="none" stroke="#fff" stroke-width="1.3"/>
<path d="M831.6 132.9 C844.1 135.4 883.4 142.8 906.6 147.7 C929.8 152.6 954 158.9 970.6 162.5 C987.2 166.1 991.5 166.7 1006.3 169.4 C1021.1 172.1 1050.4 177.1 1059.2 178.7" fill="none" stroke="#fff" stroke-width="1.3"/>
<path d="M1091.9 180 C1098.4 179.4 1120.2 177.3 1130.6 176.4 C1141 175.5 1145.9 174.4 1154.1 174.8 C1162.3 175.2 1170.4 176 1179.6 178.7 C1188.8 181.4 1196.2 185.7 1209.4 191 C1222.6 196.3 1238.2 203.7 1258.8 210.7 C1279.4 217.7 1309.1 223.8 1332.9 233 C1356.7 242.2 1390.1 260.5 1401.6 266" fill="none" stroke="#fff" stroke-width="1.3"/>
<path d="M831.6 95 C844.1 94 883.4 89.5 906.6 89 C929.8 88.5 947.4 91.7 970.6 92 C993.8 92.3 1025.8 91.6 1045.6 91 C1065.4 90.4 1077.9 88.5 1089.6 88.5 C1101.3 88.5 1105.6 89.6 1115.6 91 C1125.6 92.4 1135.3 94.8 1149.6 97 C1163.9 99.2 1186.6 103.2 1201.6 104 C1216.6 104.8 1233.3 102.3 1239.6 102" fill="none" stroke="#fff" stroke-width="1.2"/>
<path d="M1276.6 103.5 C1284.3 104.6 1301.8 106.9 1322.6 110 C1343.4 113.1 1388.4 120 1401.6 122" fill="none" stroke="#fff" stroke-width="1.2"/>
<path d="M831.6 163.8 C838.8 166.3 862 172.6 875 178.6 C888 184.6 899.3 198.8 909.6 199.6 C919.9 200.4 925.9 190.3 936.6 183.5 C947.3 176.7 963.3 164.2 973.6 158.8 C983.9 153.5 986.3 153.9 998.6 151.4 C1010.9 148.9 1037.6 145.6 1047.6 144 C1057.6 142.4 1056.8 142.3 1058.6 142" fill="none" stroke="#111" stroke-width="0.9"/>
<path d="M1076.6 142 C1078.4 142.1 1081 141.6 1087.5 142.8 C1094 144 1108.4 145.6 1115.6 149 C1122.8 152.4 1124.2 158.8 1130.6 163 C1137 167.2 1145.9 170.1 1154.1 174 C1162.3 177.9 1174.5 183.3 1179.6 186.5 C1184.7 189.7 1173.1 189.8 1184.6 193.4 C1196.1 197 1228 203.7 1248.6 208.2 C1269.2 212.7 1290 215.6 1308.2 220.6 C1326.4 225.6 1342 230.5 1357.6 237.9 C1373.2 245.3 1394.3 260.5 1401.6 265" fill="none" stroke="#111" stroke-width="0.9"/>
<path d="M831.6 233 C844.2 236.7 887.6 251.5 907.1 255.2 C926.6 258.9 933.4 256.2 948.6 255 C963.9 253.8 990.3 248.9 998.6 247.7" fill="none" stroke="#111" stroke-width="0.9"/>
<path d="M1017.6 247.7 C1022.3 248.1 1036.4 248.3 1045.6 250 C1054.8 251.7 1060.9 253.9 1072.6 257.6 C1084.3 261.4 1101 269 1115.6 272.5 C1130.2 276 1144.4 278.2 1160 278.6 C1175.6 279 1198.5 276 1209.4 274.9 C1220.3 273.8 1222.9 272.5 1225.6 272" fill="none" stroke="#111" stroke-width="0.9"/>
<path d="M1185.6 92 C1193.9 94.2 1220.6 100.3 1235.6 105 C1250.6 109.7 1261.1 116.2 1275.6 120 C1290.1 123.8 1308.9 125.7 1322.6 128 C1336.3 130.3 1350.4 132.7 1357.6 134 C1364.8 135.3 1364.3 135.7 1365.6 136" fill="none" stroke="#111" stroke-width="0.9"/>
<path d="M1385.6 137 C1388.3 137.2 1398.9 137.8 1401.6 138" fill="none" stroke="#111" stroke-width="0.9"/>
<path d="M1345.6 296 C1348.9 297.2 1362.3 301.8 1365.6 303" fill="none" stroke="#111" stroke-width="0.9"/>
<path d="M1385.6 308 C1388.3 309 1398.9 313 1401.6 314" fill="none" stroke="#111" stroke-width="0.9"/>
<path d="M831.6 91 C844.1 89.5 879.9 82.3 906.6 82 C933.3 81.7 968.4 88 991.6 89 C1014.8 90 1029.3 88.5 1045.6 88 C1061.9 87.5 1077.9 86 1089.6 86 C1101.3 86 1102.9 87.3 1115.6 88 C1128.3 88.7 1157.3 89.7 1165.6 90" fill="none" stroke="#111" stroke-width="0.9"/>
<path d="M1185.6 70 C1190.6 71.7 1204.3 77 1215.6 80 C1226.9 83 1238.6 86.3 1253.6 88 C1268.6 89.7 1286.9 90.3 1305.6 90 C1324.3 89.7 1349.6 87.7 1365.6 86 C1381.6 84.3 1395.6 81 1401.6 80" fill="none" stroke="#111" stroke-width="0.8"/>
<path d="M1223.6 72 C1227.3 73.7 1234.8 79.7 1245.6 82 C1256.4 84.3 1273.6 86 1288.6 86 C1303.6 86 1323.6 84.3 1335.6 82 C1347.6 79.7 1356.4 73.7 1360.6 72" fill="none" stroke="#111" stroke-width="0.8"/>
<path d="M1145.6 72 C1152.3 73.7 1172.3 78.7 1185.6 82 C1198.9 85.3 1212.3 89.7 1225.6 92 C1238.9 94.3 1248.9 94.8 1265.6 96 C1282.3 97.2 1302.9 99.5 1325.6 99 C1348.3 98.5 1388.9 94 1401.6 93" fill="none" stroke="#111" stroke-width="0.8"/>
<text transform="translate(850.6 84) scale(1.1 1)" class="cw" text-anchor="middle">24</text>
<text transform="translate(998.6 111) scale(1.1 1)" class="cw" text-anchor="middle">26</text>
<text transform="translate(1076.6 185) scale(1.1 1)" class="cw" text-anchor="middle">27</text>
<text transform="translate(1066.6 148) scale(1.1 1)" class="cb" text-anchor="middle">-1</text>
<text transform="translate(908.6 91) scale(1.1 1)" class="cb" text-anchor="middle">-1</text>
<text transform="translate(1008.6 252) scale(1.1 1)" class="cb" text-anchor="middle">0</text>
<text transform="translate(1375.6 144) scale(1.1 1)" class="cb" text-anchor="middle">0</text>
<text transform="translate(1376.6 312) scale(1.1 1)" class="cb" text-anchor="middle">0</text>
<text transform="translate(1259.6 108) scale(1.1 1)" class="cw" text-anchor="middle">25</text>
<text transform="translate(1106.6 81) scale(1.1 1)" class="cw" text-anchor="middle">23</text>
<text transform="translate(1390.6 93) scale(1.1 1)" class="cw" text-anchor="middle">23</text>
<text transform="translate(1208.6 85) scale(1.1 1)" class="cb" text-anchor="middle">3</text>
<text transform="translate(1299.6 88) scale(1.1 1)" class="cb" text-anchor="middle">5</text>
<text transform="translate(1368.6 81) scale(1.1 1)" class="cb" text-anchor="middle">4</text>
<text transform="translate(1253.6 94) scale(1.1 1)" class="cb" text-anchor="middle">2</text>
</g>
<path d="M1168.2 322 L1254.4 234.2 L1377.4 322 Z" fill="#333"/>
<g clip-path="url(#clip1)">
<circle cx="839.8" cy="72.5" r="2.4" fill="#333"/>
<circle cx="839.8" cy="89.5" r="2.4" fill="#333"/>
<circle cx="839.8" cy="102" r="2.4" fill="#333"/>
<circle cx="839.8" cy="123" r="2.4" fill="#333"/>
<circle cx="839.8" cy="139" r="2.4" fill="#333"/>
<circle cx="839.8" cy="155.8" r="2.4" fill="#333"/>
<circle cx="839.8" cy="222.3" r="2.4" fill="#333"/>
<circle cx="839.8" cy="287" r="2.4" fill="#333"/>
<circle cx="907.2" cy="72.5" r="2.4" fill="#333"/>
<circle cx="907.2" cy="86.5" r="2.4" fill="#333"/>
<circle cx="907.2" cy="101.5" r="2.4" fill="#333"/>
<circle cx="907.2" cy="114.3" r="2.4" fill="#333"/>
<circle cx="907.2" cy="139" r="2.4" fill="#333"/>
<circle cx="907.2" cy="147.5" r="2.4" fill="#333"/>
<circle cx="907.2" cy="155.8" r="2.4" fill="#333"/>
<circle cx="907.2" cy="164.5" r="2.4" fill="#333"/>
<circle cx="907.2" cy="205.8" r="2.4" fill="#333"/>
<circle cx="907.2" cy="238.6" r="2.4" fill="#333"/>
<circle cx="991.6" cy="72.5" r="2.4" fill="#333"/>
<circle cx="991.6" cy="81" r="2.4" fill="#333"/>
<circle cx="991.6" cy="96.3" r="2.4" fill="#333"/>
<circle cx="991.6" cy="105.7" r="2.4" fill="#333"/>
<circle cx="991.6" cy="139" r="2.4" fill="#333"/>
<circle cx="991.6" cy="155.8" r="2.4" fill="#333"/>
<circle cx="991.6" cy="172.9" r="2.4" fill="#333"/>
<circle cx="991.6" cy="189" r="2.4" fill="#333"/>
<circle cx="991.6" cy="222.5" r="2.4" fill="#333"/>
<circle cx="991.6" cy="279.9" r="2.4" fill="#333"/>
<circle cx="1089.7" cy="72.5" r="2.4" fill="#333"/>
<circle cx="1089.7" cy="84.7" r="2.4" fill="#333"/>
<circle cx="1089.7" cy="91.4" r="2.4" fill="#333"/>
<circle cx="1089.7" cy="98.3" r="2.4" fill="#333"/>
<circle cx="1089.7" cy="114.3" r="2.4" fill="#333"/>
<circle cx="1089.7" cy="130.9" r="2.4" fill="#333"/>
<circle cx="1089.7" cy="155.8" r="2.4" fill="#333"/>
<circle cx="1089.7" cy="172.9" r="2.4" fill="#333"/>
<circle cx="1089.7" cy="189" r="2.4" fill="#333"/>
<circle cx="1089.7" cy="238.6" r="2.4" fill="#333"/>
<circle cx="1167.6" cy="72.5" r="2.4" fill="#333"/>
<circle cx="1167.6" cy="89.2" r="2.4" fill="#333"/>
<circle cx="1167.6" cy="97.8" r="2.4" fill="#333"/>
<circle cx="1167.6" cy="106" r="2.4" fill="#333"/>
<circle cx="1167.6" cy="123" r="2.4" fill="#333"/>
<circle cx="1167.6" cy="139" r="2.4" fill="#333"/>
<circle cx="1167.6" cy="155.8" r="2.4" fill="#333"/>
<circle cx="1167.6" cy="189" r="2.4" fill="#333"/>
<circle cx="1167.6" cy="210" r="2.4" fill="#333"/>
<circle cx="1167.6" cy="238.6" r="2.4" fill="#333"/>
<circle cx="1254.3" cy="72.5" r="2.4" fill="#333"/>
<circle cx="1254.3" cy="85.2" r="2.4" fill="#333"/>
<circle cx="1254.3" cy="97.8" r="2.4" fill="#333"/>
<circle cx="1254.3" cy="106" r="2.4" fill="#333"/>
<circle cx="1254.3" cy="114.3" r="2.4" fill="#333"/>
<circle cx="1254.3" cy="130.9" r="2.4" fill="#333"/>
<circle cx="1254.3" cy="155.8" r="2.4" fill="#333"/>
<circle cx="1254.3" cy="189" r="2.4" fill="#333"/>
<circle cx="1254.3" cy="226.3" r="2.4" fill="#333"/>
<circle cx="1378.3" cy="72.5" r="2.4" fill="#333"/>
<circle cx="1378.3" cy="93.4" r="2.4" fill="#333"/>
<circle cx="1378.3" cy="110.4" r="2.4" fill="#333"/>
<circle cx="1378.3" cy="118.8" r="2.4" fill="#333"/>
<circle cx="1378.3" cy="134.1" r="2.4" fill="#333"/>
<circle cx="1378.3" cy="155.8" r="2.4" fill="#333"/>
<circle cx="1378.3" cy="189" r="2.4" fill="#333"/>
<circle cx="1378.3" cy="230.5" r="2.4" fill="#333"/>
<circle cx="1378.3" cy="305.3" r="2.4" fill="#333"/>
</g>
<path d="M831.4 291.7 L855.6 291.7 L903.6 321.5 L831.4 321.5 Z" fill="#3a3a3a"/><rect x="834.2" y="286.1" width="278.9" height="32.3" fill="#000"/><text x="840" y="308.6" class="ttl" style="font-size:20.2px" textLength="268.8" lengthAdjust="spacingAndGlyphs">Potential temperature [<tspan dy="-8" font-size="12">o</tspan><tspan dy="8">C]</tspan></text>
<rect x="831.4" y="72.5" width="568" height="249" fill="none" stroke="#111" stroke-width="1.4"/>
<path d="M831.4 72.5 h-6" stroke="#111" stroke-width="1.3"/>
<text transform="translate(817.1 77.8) scale(1.07 1)" class="tk" text-anchor="end">0</text>
<path d="M831.4 114 h-6" stroke="#111" stroke-width="1.3"/>
<text transform="translate(817.1 119.3) scale(1.07 1)" class="tk" text-anchor="end">50</text>
<path d="M831.4 155.5 h-6" stroke="#111" stroke-width="1.3"/>
<text transform="translate(817.1 160.8) scale(1.07 1)" class="tk" text-anchor="end">100</text>
<path d="M831.4 197 h-6" stroke="#111" stroke-width="1.3"/>
<text transform="translate(817.1 202.3) scale(1.07 1)" class="tk" text-anchor="end">150</text>
<path d="M831.4 238.5 h-6" stroke="#111" stroke-width="1.3"/>
<text transform="translate(817.1 243.8) scale(1.07 1)" class="tk" text-anchor="end">200</text>
<path d="M831.4 280 h-6" stroke="#111" stroke-width="1.3"/>
<text transform="translate(817.1 285.3) scale(1.07 1)" class="tk" text-anchor="end">250</text>
<path d="M831.4 321.5 h-6" stroke="#111" stroke-width="1.3"/>
<text transform="translate(817.1 326.8) scale(1.07 1)" class="tk" text-anchor="end">300</text>
<path d="M831.4 321.5 v6" stroke="#111" stroke-width="1.2"/>
<text transform="translate(830.9 348.3) scale(1.05 1)" class="tk" text-anchor="middle">0</text>
<path d="M901.1 321.5 v5" stroke="#111" stroke-width="1.2"/>
<path d="M970.8 321.5 v6" stroke="#111" stroke-width="1.2"/>
<text transform="translate(970.3 348.3) scale(1.05 1)" class="tk" text-anchor="middle">200</text>
<path d="M1040.5 321.5 v5" stroke="#111" stroke-width="1.2"/>
<path d="M1110.2 321.5 v6" stroke="#111" stroke-width="1.2"/>
<text transform="translate(1109.7 348.3) scale(1.05 1)" class="tk" text-anchor="middle">400</text>
<path d="M1179.9 321.5 v5" stroke="#111" stroke-width="1.2"/>
<path d="M1249.6 321.5 v6" stroke="#111" stroke-width="1.2"/>
<text transform="translate(1249.1 348.3) scale(1.05 1)" class="tk" text-anchor="middle">600</text>
<path d="M1319.3 321.5 v5" stroke="#111" stroke-width="1.2"/>
<path d="M1389 321.5 v6" stroke="#111" stroke-width="1.2"/>
<text transform="translate(1388.5 348.3) scale(1.05 1)" class="tk" text-anchor="middle">800</text>
<text x="836.6" y="67.5" class="st" text-anchor="middle">32</text>
<text x="905.7" y="67.5" class="st" text-anchor="middle">28</text>
<text x="988.7" y="67.5" class="st" text-anchor="middle">27</text>
<text x="1085.8" y="67.5" class="st" text-anchor="middle">26</text>
<text x="1164.7" y="67.5" class="st" text-anchor="middle">25</text>
<text x="1250.6" y="67.5" class="st" text-anchor="middle">24</text>
<text x="1373" y="67.5" class="st" text-anchor="middle">15</text>
<text transform="translate(754 45.7) scale(1 1.08)" class="pl">B</text>
<text transform="translate(771.1 197) rotate(-90) scale(1.03 1)" class="ax" text-anchor="middle">Depth [m]</text>
<defs>
<linearGradient id="cbg1_1417_72" x1="0" y1="0" x2="0" y2="1"><stop offset="0" stop-color="#FDB68A"/><stop offset="0.2" stop-color="#FA9E7C"/><stop offset="0.3" stop-color="#F8866F"/><stop offset="0.5" stop-color="#F47266"/><stop offset="0.7" stop-color="#EE5A5E"/><stop offset="0.8" stop-color="#E8404F"/><stop offset="1" stop-color="#E2203F"/></linearGradient>
<linearGradient id="cbg4_1417_72" x1="0" y1="0" x2="0" y2="1"><stop offset="0" stop-color="#FB2A00"/><stop offset="0.1" stop-color="#E84A00"/><stop offset="0.3" stop-color="#DD6600"/><stop offset="0.4" stop-color="#F08000"/><stop offset="0.6" stop-color="#FF9500"/><stop offset="0.7" stop-color="#FFA500"/><stop offset="0.9" stop-color="#FDB515"/><stop offset="1" stop-color="#FEC31A"/></linearGradient>
<linearGradient id="cbg6_1417_72" x1="0" y1="0" x2="0" y2="1"><stop offset="0" stop-color="#6BC853"/><stop offset="1" stop-color="#5CC84A"/></linearGradient>
<linearGradient id="cbg17_1417_72" x1="0" y1="0" x2="0" y2="1"><stop offset="0" stop-color="#DE46D6"/><stop offset="1" stop-color="#EC70EC"/></linearGradient>
</defs>
<rect x="1417.8" y="72.5" width="24.6" height="6.8" fill="#FDB68A"/>
<rect x="1417.8" y="78.7" width="24.6" height="25.5" fill="url(#cbg1_1417_72)"/>
<rect x="1417.8" y="103.6" width="24.6" height="11.1" fill="#D6062A"/>
<rect x="1417.8" y="114.1" width="24.6" height="4.1" fill="#FB2A00"/>
<rect x="1417.8" y="117.6" width="24.6" height="26" fill="url(#cbg4_1417_72)"/>
<rect x="1417.8" y="143" width="24.6" height="33.6" fill="#FEC31A"/>
<rect x="1417.8" y="176" width="24.6" height="11.6" fill="url(#cbg6_1417_72)"/>
<rect x="1417.8" y="187" width="24.6" height="7.8" fill="#40CC3A"/>
<rect x="1417.8" y="194.3" width="24.6" height="14.5" fill="#22E022"/>
<rect x="1417.8" y="208.2" width="24.6" height="20.5" fill="#0CC84A"/>
<rect x="1417.8" y="228.1" width="24.6" height="19.5" fill="#00EBA3"/>
<rect x="1417.8" y="247" width="24.6" height="8.6" fill="#42ABF6"/>
<rect x="1417.8" y="255" width="24.6" height="8.6" fill="#3A9AF0"/>
<rect x="1417.8" y="263" width="24.6" height="10.8" fill="#2F88E8"/>
<rect x="1417.8" y="273.2" width="24.6" height="19.5" fill="#5353F2"/>
<rect x="1417.8" y="292.1" width="24.6" height="17.3" fill="#3E3EF8"/>
<rect x="1417.8" y="308.8" width="24.6" height="5.8" fill="#9E86EE"/>
<rect x="1417.8" y="314" width="24.6" height="8.1" fill="url(#cbg17_1417_72)"/>
<path d="M1421.3 73.1 L1430.1 68.7 L1438.9 73.1 Z" fill="#FDB68A"/>
<path d="M1421.3 72.7 L1430.1 68.7 L1438.9 72.7" fill="none" stroke="#222" stroke-width="0.8"/>
<path d="M1421.3 320.9 L1430.1 325.7 L1438.9 320.9 Z" fill="#EC78EC"/>
<path d="M1421.3 321.3 L1430.1 325.7 L1438.9 321.3" fill="none" stroke="#222" stroke-width="0.8"/>
<path d="M1417.8 72.5 V321.5 M1442.4 72.5 V321.5" fill="none" stroke="#222" stroke-width="0.9"/>
<path d="M1417.4 72.5 h5 M1442.8 72.5 h-5 M1417.4 321.5 h5 M1442.8 321.5 h-5" stroke="#111" stroke-width="1.6"/>
<text transform="translate(1448.9 77.7) scale(1.1 1)" class="tl">6</text>
<path d="M1417.8 134.8 h5.5 M1442.4 134.8 h-5.5" stroke="#111" stroke-width="1.5"/>
<text transform="translate(1448.9 139.9) scale(1.1 1)" class="tl">4</text>
<path d="M1417.8 197 h5.5 M1442.4 197 h-5.5" stroke="#111" stroke-width="1.5"/>
<text transform="translate(1448.9 202.2) scale(1.1 1)" class="tl">2</text>
<path d="M1417.8 259.2 h5.5 M1442.4 259.2 h-5.5" stroke="#111" stroke-width="1.5"/>
<text transform="translate(1448.9 264.4) scale(1.1 1)" class="tl">0</text>
<text transform="translate(1448.9 326.7) scale(1.1 1)" class="tl">-2</text>
<text transform="translate(1413.9 318.5) rotate(-90)" class="odv">Ocean Data View / DIVA</text>
<clipPath id="clip2"><rect x="85.8" y="428.4" width="568" height="249"/></clipPath>
<g clip-path="url(#clip2)">
<rect x="85.8" y="428.4" width="568" height="249" fill="#02EBA3"/>
<path d="M60 682.4 L60 483.9 C63.3 483.9 75.7 483.8 80 483.9 C84.3 484 72.5 480.7 86 484.5 C99.5 488.3 142 501.3 161 506.9 C180 512.5 185.8 512.6 200 517.9 C214.2 523.2 231 532.2 246 538.9 C261 545.6 276.5 553 290 557.9 C303.5 562.8 318 567.2 327 568.5 C336 569.8 337.7 567.1 344 565.9 C350.3 564.7 357.3 564.6 365 561.1 C372.7 557.6 380.5 548.6 390 544.9 C399.5 541.2 412 538.9 422 538.9 C432 538.9 440.3 541.7 450 544.9 C459.7 548.1 470.2 552.9 480 557.9 C489.8 562.9 499 567.4 509 574.9 C519 582.4 530.3 596.2 540 602.9 C549.7 609.6 557 611.2 567 614.9 C577 618.6 589.2 621.5 600 624.9 C610.8 628.3 622 632.9 632 635.2 C642 637.5 652 638.3 660 638.9 C668 639.5 676.7 638.9 680 638.9 L680 682.4 Z" fill="#6AC850"/>
<path d="M60 682.4 L60 490.9 C63.3 490.9 75.7 490.8 80 490.9 C84.3 491 72.5 487.7 86 491.5 C99.5 495.3 142 508.3 161 513.9 C180 519.5 185.8 519.6 200 524.9 C214.2 530.2 231 539.2 246 545.9 C261 552.6 276.5 560 290 564.9 C303.5 569.8 318 574.2 327 575.5 C336 576.8 337.7 574.1 344 572.9 C350.3 571.7 357.3 571.6 365 568.1 C372.7 564.6 380.5 555.6 390 551.9 C399.5 548.2 412 545.9 422 545.9 C432 545.9 440.3 548.7 450 551.9 C459.7 555.1 470.2 559.9 480 564.9 C489.8 569.9 499 574.4 509 581.9 C519 589.4 530.3 603.2 540 609.9 C549.7 616.6 557 618.2 567 621.9 C577 625.6 589.2 628.5 600 631.9 C610.8 635.3 622 639.9 632 642.2 C642 644.5 652 645.3 660 645.9 C668 646.5 676.7 645.9 680 645.9 L680 682.4 Z" fill="#44C83C"/>
<path d="M60 682.4 L60 494.9 C63.3 494.9 75.7 494.8 80 494.9 C84.3 495 72.5 491.7 86 495.5 C99.5 499.3 142 512.3 161 517.9 C180 523.5 185.8 523.6 200 528.9 C214.2 534.2 231 543.2 246 549.9 C261 556.6 276.5 564 290 568.9 C303.5 573.8 318 578.2 327 579.5 C336 580.8 337.7 578.1 344 576.9 C350.3 575.7 357.3 575.6 365 572.1 C372.7 568.6 380.5 559.6 390 555.9 C399.5 552.2 412 549.9 422 549.9 C432 549.9 440.3 552.7 450 555.9 C459.7 559.1 470.2 563.9 480 568.9 C489.8 573.9 499 578.4 509 585.9 C519 593.4 530.3 607.2 540 613.9 C549.7 620.6 557 622.2 567 625.9 C577 629.6 589.2 632.5 600 635.9 C610.8 639.3 622 643.9 632 646.2 C642 648.5 652 649.3 660 649.9 C668 650.5 676.7 649.9 680 649.9 L680 682.4 Z" fill="#24E026"/>
<path d="M60 682.4 L60 508.9 C63.3 508.9 75.7 508.8 80 508.9 C84.3 509 72.5 505.7 86 509.5 C99.5 513.3 142 526.3 161 531.9 C180 537.5 185.8 537.6 200 542.9 C214.2 548.2 231 557.2 246 563.9 C261 570.6 276.5 578 290 582.9 C303.5 587.8 318 592.2 327 593.5 C336 594.8 337.7 592.1 344 590.9 C350.3 589.7 357.3 589.6 365 586.1 C372.7 582.6 380.5 573.6 390 569.9 C399.5 566.2 412 563.9 422 563.9 C432 563.9 440.3 566.7 450 569.9 C459.7 573.1 470.2 577.9 480 582.9 C489.8 587.9 499 592.4 509 599.9 C519 607.4 530.3 621.2 540 627.9 C549.7 634.6 557 636.2 567 639.9 C577 643.6 589.2 646.5 600 649.9 C610.8 653.3 622 657.9 632 660.2 C642 662.5 652 663.3 660 663.9 C668 664.5 676.7 663.9 680 663.9 L680 682.4 Z" fill="#10C84A"/>
<path d="M60 682.4 L60 513.9 C63.3 513.9 75.7 513.8 80 513.9 C84.3 514 72.5 512.1 86 514.7 C99.5 517.3 142 523.9 161 529.6 C180 535.3 189.3 543.7 200 548.9 C210.7 554.1 217.3 555.7 225 560.9 C232.7 566.1 240.5 572.6 246 579.9 C251.5 587.2 253.3 597.8 258 604.9 C262.7 612 267.5 618 274 622.7 C280.5 627.5 288.7 631.9 297 633.4 C305.3 634.9 316 630.6 324 631.9 C332 633.1 338.2 637.7 345 640.9 C351.8 644.1 355.8 643.4 365 650.9 C374.2 658.4 380.8 680.1 400 685.9 C419.2 691.7 436.7 685.9 480 685.9 C523.3 685.9 626.7 685.9 660 685.9 C693.3 685.9 676.7 685.9 680 685.9 L680 682.4 Z" fill="#02EBA3"/>
<path d="M324 631.9 C327.3 621.6 334 627.9 340 623.9 C346 619.9 353.8 612.5 360 607.9 C366.2 603.3 369.7 601.1 377 596.2 C384.3 591.3 396.3 582 403.7 578.4 C411.1 574.8 415.5 573.4 421.4 574.9 C427.3 576.4 434.6 581.7 439 587.3 C443.4 592.9 446.2 599.2 448 608.6 C449.8 618 449.4 631 449.7 643.9 C450 656.8 471.6 678.9 450 685.9 C428.4 692.9 341 694.9 320 685.9 C299 676.9 320.7 642.2 324 631.9 Z" fill="#02EBA3"/>
<path d="M80 526.9 C85 522.7 101.8 526.5 110 526.9 C118.2 527.3 121.7 528.7 129 529.5 C136.3 530.3 148 530.8 154 531.9 C160 533 161.7 532.7 165 535.9 C168.3 539.1 169.8 545.9 174 550.9 C178.2 555.9 185.8 562.1 190 565.9 C194.2 569.7 196.2 570.1 199 573.9 C201.8 577.7 205.3 583.6 207 588.9 C208.7 594.2 209 600.6 209 605.9 C209 611.2 208.7 615.5 207 620.9 C205.3 626.3 202.7 636.5 199 638.2 C195.3 639.9 189.8 634.3 185 630.9 C180.2 627.5 175.2 622.1 170 617.9 C164.8 613.7 160.8 610.7 154 605.9 C147.2 601.1 137.2 595.1 129 588.9 C120.8 582.7 112.2 574.7 105 568.9 C97.8 563.1 90.2 556.7 86 553.9 C81.8 551.1 81 556.4 80 551.9 C79 547.4 75 531.1 80 526.9 Z" fill="#42ABF6"/>
<path d="M78 591.9 C79.3 576.6 82.3 590.2 86 593.9 C89.7 597.6 96 606.9 100 613.9 C104 620.9 107 628.9 110 635.9 C113 642.9 117.7 647.6 118 655.9 C118.3 664.2 118.7 680.9 112 685.9 C105.3 690.9 83.7 701.6 78 685.9 C72.3 670.2 76.7 607.2 78 591.9 Z" fill="#10C84A"/>
<path d="M60 423.4 L60 450.9 C63.3 450.9 63.2 451.7 80 450.9 C96.8 450.1 136.8 447.4 161 445.9 C185.2 444.4 210.8 442.2 225 441.9 C239.2 441.6 233.2 443.2 246 443.9 C258.8 444.6 285.7 445.4 302 445.9 C318.3 446.4 333.5 446.6 344 446.9 C354.5 447.2 352 445.2 365 447.9 C378 450.6 404.7 459.6 422 462.9 C439.3 466.2 454.5 466.3 469 467.9 C483.5 469.5 492.7 470.5 509 472.7 C525.3 474.9 546.5 477.2 567 480.9 C587.5 484.6 616.5 492.2 632 494.9 C647.5 497.6 652 496.6 660 496.9 C668 497.2 676.7 496.9 680 496.9 L680 423.4 Z" fill="#10C84A"/>
<path d="M60 423.4 L60 425.9 C63.3 425.9 70 425.6 80 425.9 C90 426.2 106.5 426.7 120 427.9 C133.5 429.1 143.5 432.1 161 433.2 C178.5 434.3 210.8 433.9 225 434.4 C239.2 434.8 233.2 435.3 246 435.9 C258.8 436.5 282.2 437.1 302 437.9 C321.8 438.7 345 439.3 365 440.6 C385 441.9 398 443 422 445.5 C446 448 484.8 453 509 455.4 C533.2 457.8 546.5 458.2 567 459.9 C587.5 461.5 616.5 463.1 632 465.3 C647.5 467.5 652 471.6 660 472.9 C668 474.2 676.7 472.9 680 472.9 L680 423.4 Z" fill="#02EBA3"/>
<path d="M436 425.9 C400.7 427.1 443.5 429.2 450 430.9 C456.5 432.6 465.2 434.3 475 435.9 C484.8 437.5 494.8 439.6 509 440.6 C523.2 441.6 544.8 441.8 560 441.9 C575.2 441.9 588 441.6 600 440.9 C612 440.2 623.7 438.9 632 437.9 C640.3 436.9 645 435.7 650 434.9 C655 434.1 660 434.7 662 432.9 C664 431.1 699.7 425.1 662 423.9 C624.3 422.7 471.3 424.7 436 425.9 Z" fill="#42ABF6"/>
<path d="M80 448.9 C81 448.9 72.5 450 86 449.2 C99.5 448.4 137.8 445.7 161 444.3 C184.2 442.9 210.8 441 225 440.6 C239.2 440.2 233.2 441.5 246 441.9 C258.8 442.3 285.7 442.6 302 442.9 C318.3 443.2 333.5 443.4 344 443.9 C354.5 444.4 352 442.7 365 445.9 C378 449.1 404.7 459.2 422 462.9 C439.3 466.6 454.5 466.3 469 467.9 C483.5 469.5 492.7 470.5 509 472.7 C525.3 474.9 546.5 477.2 567 480.9 C587.5 484.6 616.2 492.2 632 494.9 C647.8 497.6 657 496.6 662 496.9 L660 641.9 C655.3 641.3 642 640.5 632 638.2 C622 635.9 610.8 631.3 600 627.9 C589.2 624.5 577 621.6 567 617.9 C557 614.2 549.7 612.6 540 605.9 C530.3 599.2 519 585.4 509 577.9 C499 570.4 489.8 565.9 480 560.9 C470.2 555.9 459.7 551.1 450 547.9 C440.3 544.7 432 541.9 422 541.9 C412 541.9 399.5 544.2 390 547.9 C380.5 551.6 372.7 560.6 365 564.1 C357.3 567.6 350.3 567.7 344 568.9 C337.7 570.1 336 572.8 327 571.5 C318 570.2 303.5 565.8 290 560.9 C276.5 556 261 548.6 246 541.9 C231 535.2 214.2 526.2 200 520.9 C185.8 515.6 180 515.5 161 509.9 C142 504.3 99.5 491.3 86 487.5 C72.5 483.7 81 487 80 486.9 Z" fill="#FEC31A"/>
<path d="M80 460.9 C81 461 72.5 463.3 86 461.6 C99.5 459.9 137.8 453 161 450.5 C184.2 448 210.8 447.6 225 446.8 C239.2 446 233.2 445.9 246 445.9 C258.8 445.9 285.7 446.6 302 446.9 C318.3 447.2 333.5 446.9 344 447.9 C354.5 448.9 352 448.3 365 452.9 C378 457.4 404.7 470 422 475.2 C439.3 480.4 454.5 481.4 469 483.9 C483.5 486.4 492.7 487.7 509 490 C525.3 492.3 546.5 494.6 567 497.9 C587.5 501.2 616.2 507.3 632 509.8 C647.8 512.3 657 512.4 662 512.9 L662 606.9 C657 606.3 642.3 605.4 632 603.6 C621.7 601.8 610.8 598.5 600 595.9 C589.2 593.3 577 590.9 567 587.9 C557 584.9 549.7 581.9 540 577.9 C530.3 573.9 520.8 569.6 509 563.9 C497.2 558.2 483.5 550.5 469 543.9 C454.5 537.3 433.5 527.6 422 524.6 C410.5 521.6 408.7 524.2 400 525.9 C391.3 527.5 378.3 530.2 370 534.5 C361.7 538.8 357.2 549 350 551.9 C342.8 554.8 337 553.7 327 551.9 C317 550.1 303.5 545.2 290 540.9 C276.5 536.6 261 530.9 246 525.9 C231 520.9 214.2 515 200 510.9 C185.8 506.8 180 506.9 161 501.2 C142 495.4 99.5 480.4 86 476.4 C72.5 472.3 81 476.8 80 476.9 Z" fill="#F58A00"/>
<path d="M80 463.9 C81 463.8 72.5 465.3 86 463.4 C99.5 461.5 137.8 454.9 161 452.4 C184.2 449.9 210.8 449.1 225 448.4 C239.2 447.6 233.2 447.8 246 447.9 C258.8 448 285.7 448.6 302 448.9 C318.3 449.2 333.5 448.7 344 449.9 C354.5 451.1 352 451.2 365 455.9 C378 460.6 404.7 471.2 422 477.9 C439.3 484.6 454.5 490.6 469 495.9 C483.5 501.2 492.7 506.1 509 509.8 C525.3 513.5 546.5 515 567 517.9 C587.5 520.8 616.2 524.9 632 527.1 C647.8 529.3 657 530.3 662 530.9 L662 591.9 C657 591.4 647.8 591.1 632 588.8 C616.2 586.5 582.3 581.4 567 577.9 C551.7 574.4 549.7 571.8 540 567.9 C530.3 564 520.8 559.2 509 554.2 C497.2 549.2 483.5 544 469 537.9 C454.5 531.8 433.5 520.9 422 517.9 C410.5 514.9 408.7 517.4 400 519.9 C391.3 522.4 378.3 528.6 370 532.9 C361.7 537.2 357.2 543.7 350 545.9 C342.8 548.1 337 547.2 327 545.9 C317 544.6 303.5 541.6 290 537.9 C276.5 534.2 261 528.9 246 523.9 C231 518.9 214.2 512.1 200 507.9 C185.8 503.6 180 504.1 161 498.4 C142 492.6 99.5 477.6 86 473.4 C72.5 469.1 81 473 80 472.9 Z" fill="#F23C00"/>
<path d="M100 468.4 C101.7 466.1 109.8 462.2 120 459.9 C130.2 457.5 143.5 455.9 161 454.3 C178.5 452.7 210.8 451.2 225 450.5 C239.2 449.8 233.2 449.8 246 449.9 C258.8 450 285.7 450.6 302 450.9 C318.3 451.2 333.5 450.9 344 451.9 C354.5 452.9 355.7 454.1 365 456.9 C374.3 459.7 390.5 465 400 468.9 C409.5 472.8 415.3 477.3 422 480.1 C428.7 482.9 435.8 483.6 440 485.9 C444.2 488.2 447 491.2 447 493.9 C447 496.6 444.2 499.9 440 501.9 C435.8 503.9 428.7 504.2 422 505.9 C415.3 507.6 408.7 509.2 400 511.9 C391.3 514.6 379.3 518.2 370 521.9 C360.7 525.6 351.2 531 344 533.9 C336.8 536.8 336 539.7 327 539.4 C318 539.1 303.5 534.8 290 531.9 C276.5 529 261 526.1 246 522.1 C231 518.1 214.2 512.2 200 507.9 C185.8 503.6 172.7 500.5 161 496.3 C149.3 492.1 138.5 486.6 130 482.9 C121.5 479.2 115 476.3 110 473.9 C105 471.5 98.3 470.7 100 468.4 Z" fill="#D4042A"/>
<g filter="url(#blur3)"><path d="M153.7 465.9 C155.9 461.2 167.6 459.8 173.4 458.1 C179.2 456.4 182.2 456.6 188.3 455.8 C194.4 454.9 200 454.4 210 452.9 C219.9 451.4 237.1 447.3 248.2 446.8 C259.3 446.3 267.8 448.2 276.5 450.1 C285.3 452 293.5 455.2 300.6 458.3 C307.8 461.3 314.2 464.5 319.3 468.3 C324.3 472.2 325.6 478.1 331.1 481.4 C336.6 484.7 345.5 486.2 352 488.2 C358.6 490.2 365.7 489.7 370.3 493.1 C374.9 496.6 380.8 503.8 379.8 509 C378.7 514.3 372.4 521.4 364.1 524.6 C355.8 527.7 341.1 528.1 329.9 528 C318.7 527.9 311 525.3 297.2 524 C283.4 522.6 262.1 523.3 247 519.9 C231.9 516.6 218.2 508 206.7 503.9 C195.1 499.8 185.3 498.4 177.6 495.5 C169.8 492.5 164.2 490.9 160.2 486 C156.2 481.1 151.5 470.5 153.7 465.9 Z" fill="#E8404F"/></g>
<g filter="url(#blur2_5)"><path d="M156.6 467.7 C158.6 464.1 168.8 462.9 174.2 461.5 C179.6 460.1 182.8 460.1 188.8 459.2 C194.9 458.4 200.6 457.8 210.5 456.3 C220.4 454.9 237.5 450.8 248.3 450.3 C259.2 449.8 267.3 451.6 275.8 453.5 C284.2 455.3 292.4 458.5 299.3 461.5 C306.2 464.4 312.1 467.3 317.1 471.1 C322.1 474.9 323.7 481 329.3 484.4 C334.9 487.8 344.5 489.6 351 491.5 C357.6 493.5 364.4 493.5 368.7 496.2 C372.9 499 377.3 503.9 376.4 508.1 C375.4 512.3 370.8 518.5 363.1 521.2 C355.3 524 340.9 524.6 330 524.5 C319 524.4 311.3 521.8 297.6 520.5 C283.9 519.2 262.7 519.8 247.7 516.5 C232.8 513.2 219.3 504.7 207.8 500.6 C196.3 496.5 186.3 495 178.8 492.2 C171.2 489.3 166.3 487.5 162.6 483.4 C158.9 479.4 154.7 471.4 156.6 467.7 Z" fill="#F47266"/></g>
<g filter="url(#blur2)"><path d="M159.6 469.6 C161.3 466.9 170.1 466 175 464.9 C179.9 463.8 183.3 463.6 189.3 462.7 C195.3 461.8 201.1 461.3 211 459.8 C220.9 458.3 237.8 454.3 248.5 453.8 C259.2 453.3 266.8 455.1 275 456.9 C283.2 458.7 291.2 461.9 297.9 464.7 C304.6 467.5 310.1 470.1 315 473.9 C319.9 477.7 321.7 483.9 327.5 487.4 C333.3 490.9 343.4 492.9 350 494.9 C356.6 496.9 363.2 497.2 367 499.3 C370.8 501.3 373.8 504.1 373 507.2 C372.2 510.3 369.2 515.6 362 517.9 C354.8 520.2 340.7 521.1 330 521 C319.3 520.9 311.5 518.3 297.9 517 C284.3 515.7 263.3 516.4 248.5 513.1 C233.7 509.8 220.4 501.3 209 497.3 C197.6 493.3 187.3 491.6 180 488.9 C172.7 486.2 168.4 484.1 165 480.9 C161.6 477.7 157.9 472.3 159.6 469.6 Z" fill="#F9B48A"/></g>
<path d="M516 537.9 C516 533.6 522.7 528.6 530 525.9 C537.3 523.2 550 521.7 560 521.9 C570 522.1 583.2 523.9 590 526.9 C596.8 529.9 601 535.4 601 539.9 C601 544.4 596.8 551.1 590 553.9 C583.2 556.7 570 557.2 560 556.9 C550 556.6 537.3 555.1 530 551.9 C522.7 548.7 516 542.2 516 537.9 Z" fill="#D4042A"/>
<path d="M629 573.9 C629 570.7 634.5 566.7 640 564.9 C645.5 563.1 658.3 559.6 662 562.9 C665.7 566.2 665.7 581.4 662 584.9 C658.3 588.4 645.5 585.7 640 583.9 C634.5 582.1 629 577.1 629 573.9 Z" fill="#D4042A"/>
<path d="M80 459.9 C81 459.8 72.4 461.1 86 459.1 C99.6 457.1 134.8 450.1 161.5 448 C188.2 445.9 218.4 447.4 246 446.8 C273.6 446.2 311.2 444.7 327 444.3 C342.8 443.9 338.7 444.4 341 444.4" fill="none" stroke="#111" stroke-width="0.9"/>
<path d="M360 452.9 C360.8 453.9 354.7 455.4 365 459.1 C375.3 462.8 397.8 469.2 421.8 475.2 C445.8 481.2 485.4 489.9 508.8 494.9 C532.2 499.8 541.3 502 562 504.9 C582.7 507.8 616.8 509.2 632.8 512.2 C648.8 515.2 653.8 521.1 658 522.9" fill="none" stroke="#111" stroke-width="0.9"/>
<path d="M80 490.9 C81 490.7 72.4 486.8 86 489.9 C99.6 493 134.8 503.4 161.5 509.8 C188.2 516.2 222.6 522.5 246 528.3 C269.4 534.1 291 541.6 302 544.4 C313 547.2 310.3 544.8 312 544.9" fill="none" stroke="#111" stroke-width="0.9"/>
<path d="M336 545.4 C337.3 545.2 339 547.6 343.8 544.4 C348.6 541.1 352 529.2 365 525.9 C378 522.6 406 522.9 421.8 524.6 C437.6 526.3 445.5 530.1 460 535.9 C474.5 541.7 491.7 552.4 508.8 559.2 C525.9 566 541.9 569.1 562.6 576.5 C583.3 583.9 616.9 597.7 632.8 603.6 C648.7 609.5 653.8 610.5 658 611.9" fill="none" stroke="#111" stroke-width="0.9"/>
<path d="M80 446.9 C81 446.9 72.4 447.6 86 446.8 C99.6 446 134.8 443.3 161.5 441.9 C188.2 440.4 215.6 438.9 246 438.1 C276.4 437.3 324 436.7 343.8 436.9 C363.6 437.1 352 436.5 365 439.4 C378 442.3 397.8 450.9 421.8 454.2 C445.8 457.4 492.1 457.9 508.8 458.9 C525.5 459.8 519.8 459.7 522 459.9" fill="none" stroke="#111" stroke-width="0.9"/>
<path d="M536 461.4 C548.7 463.7 591.7 470.3 612 475.2 C632.3 480.1 650.3 488.3 658 490.9" fill="none" stroke="#111" stroke-width="0.9"/>
<path d="M80 494.9 C81 494.9 72.4 492 86 494.9 C99.6 497.8 142 506.2 161.5 512.2 C181 518.2 188.9 524.7 203 530.9 C217.1 537.1 233.7 543.5 246 549.3 C258.3 555.1 263.5 559.7 277 565.9 C290.5 572.1 311.5 584.6 327 586.4 C342.5 588.2 354.2 582.3 370 576.5 C385.8 570.7 407 553.9 421.8 551.8 C436.6 549.7 447.8 555.5 458.9 564.1 C470 572.7 481.6 593.3 488.5 603.6 C495.4 613.9 498.1 622.2 500 625.9" fill="none" stroke="#111" stroke-width="0.9"/>
<path d="M612 652.9 C619.7 654.1 650.3 658.7 658 659.9" fill="none" stroke="#111" stroke-width="0.9"/>
<path d="M194 461.4 C190.8 462 180.7 463.5 175 464.9 C169.3 466.3 161.3 466.9 159.6 469.6 C157.9 472.3 161.6 477.7 165 480.9 C168.4 484.1 172.7 486.2 180 488.9 C187.3 491.6 197.6 493.3 209 497.3 C220.4 501.3 233.7 509.8 248.5 513.1 C263.3 516.4 284.3 515.7 297.9 517 C311.5 518.3 319.3 520.9 330 521 C340.7 521.1 354.8 520.2 362 517.9 C369.2 515.6 372.2 510.3 373 507.2 C373.8 504.1 370.8 501.3 367 499.3 C363.2 497.2 356.6 496.9 350 494.9 C343.4 492.9 333.3 490.9 327.5 487.4 C321.7 483.9 319.9 477.7 315 473.9 C310.1 470.1 304.6 467.5 297.9 464.7 C291.2 461.9 283.2 458.7 275 456.9 C266.8 455.1 257.3 453.7 248.5 453.8 C239.7 453.9 228.1 456.5 222 457.4 C215.9 458.2 213.7 458.6 212 458.9" fill="none" stroke="#111" stroke-width="0.9"/>
<text transform="translate(201 465.9) scale(1.1 1)" class="cb" text-anchor="middle">2</text>
<text transform="translate(323 552.9) scale(1.1 1)" class="cb" text-anchor="middle">1.5</text>
<text transform="translate(351 452.9) scale(1.1 1)" class="cb" text-anchor="middle">.5</text>
<text transform="translate(529 466.9) scale(1.1 1)" class="cb" text-anchor="middle">1</text>
<text transform="translate(603 657.9) scale(1.1 1)" class="cb" text-anchor="middle">1</text>
<path d="M215 429.5 C220.2 429.9 231.5 431.6 246 431.9 C260.5 432.2 284.7 431.3 302 431.2 C319.3 431.1 342 431.4 350 431.4" fill="none" stroke="#fff" stroke-width="1.2"/>
<path d="M374 433.2 C380 433.1 399.2 433.1 410 432.9 C420.8 432.7 428 432.7 439 431.9 C450 431.1 469.8 428.8 476 428.2" fill="none" stroke="#fff" stroke-width="1.2"/>
<path d="M560 428.4 C566.7 429 588.3 430.4 600 431.9 C611.7 433.4 625 436.5 630 437.4" fill="none" stroke="#fff" stroke-width="1.2"/>
<path d="M80 434.9 C81.3 434.9 86.7 434.9 88 434.9" fill="none" stroke="#fff" stroke-width="1.2"/>
<path d="M122 434.4 C129.3 434.4 153 434.1 166 434.4 C179 434.6 190.2 435.1 200 435.9 C209.8 436.7 217.3 438.7 225 439.4 C232.7 440.1 233.5 439.6 246 439.9 C258.5 440.1 279.3 440.9 300 440.9 C320.7 440.9 349.7 439.3 370 439.9 C390.3 440.5 398.8 443.4 422 444.3 C445.2 445.2 477.3 444.7 509 445.1 C540.7 445.5 587.2 444.9 612 446.8 C636.8 448.7 650.3 454.8 658 456.4" fill="none" stroke="#eee" stroke-width="1.2"/>
<path d="M80 452.4 C81 452.3 72.5 452.9 86 451.7 C99.5 450.4 137.8 446.2 161 444.9 C184.2 443.6 201.8 443.9 225 443.7 C248.2 443.5 280.2 443.9 300 443.9 C319.8 443.9 333.2 443.6 344 443.9 C354.8 444.2 352 442.8 365 445.5 C378 448.2 400.7 457.9 422 460.4 C443.3 462.9 481.2 460.4 493 460.4" fill="none" stroke="#fff" stroke-width="1.2"/>
<path d="M535 461.4 C547.8 462.9 591.5 467.1 612 470.2 C632.5 473.3 650.3 478.3 658 479.9" fill="none" stroke="#fff" stroke-width="1.2"/>
<path d="M80 469.1 C81 469.1 72.5 468.8 86 469 C99.5 469.2 142 470.4 161 470.2 C180 470 187.5 468.9 200 467.9 C212.5 466.9 230 465 236 464.4" fill="none" stroke="#fff" stroke-width="1.3"/>
<path d="M270 462.9 C275.3 463.3 294.2 463.2 302 465.3 C309.8 467.3 312.8 471.9 317 475.2 C321.2 478.5 321.2 481.4 327 485.1 C332.8 488.8 344.5 494.9 351.7 497.4 C358.9 499.9 358.3 499.5 370 499.9 C381.7 500.3 405.3 499.1 422 499.9 C438.7 500.7 455.5 502.8 470 504.9 C484.5 506.9 493.5 508.9 509 512.2 C524.5 515.5 538.2 519.5 563 524.6 C587.8 529.7 642.2 539.8 658 542.9" fill="none" stroke="#fff" stroke-width="1.3"/>
<path d="M80 487.7 C81 487.9 72.5 486.1 86 488.8 C99.5 491.4 137.8 498.9 161 503.6 C184.2 508.3 208.5 513.6 225 517.2 C241.5 520.8 245.2 522.4 260 525.3 C274.8 528.2 305 533.1 314 534.7" fill="none" stroke="#fff" stroke-width="1.3"/>
<path d="M346.5 535.7 C350.4 535.2 359.9 533.1 370 532.4 C380.1 531.7 396.7 531.2 407 531.4 C417.3 531.6 422.5 530.4 432 533.4 C441.5 536.4 451.2 544.2 464 549.3 C476.8 554.4 492.5 559.3 509 564.1 C525.5 568.9 545.8 572.1 563 577.9 C580.2 583.7 596.2 591.2 612 598.7 C627.8 606.2 650.3 618.9 658 622.9" fill="none" stroke="#fff" stroke-width="1.3"/>
<text transform="translate(106 439.9) scale(1.1 1)" class="cw" text-anchor="middle">24</text>
<text transform="translate(253 466.9) scale(1.1 1)" class="cw" text-anchor="middle">26</text>
<text transform="translate(330 541.9) scale(1.1 1)" class="cw" text-anchor="middle">27</text>
<text transform="translate(514 464.4) scale(1.1 1)" class="cw" text-anchor="middle">25</text>
<text transform="translate(362 436.9) scale(1.1 1)" class="cw" text-anchor="middle">23</text>
<text transform="translate(645 446.9) scale(1.1 1)" class="cw" text-anchor="middle">23</text>
</g>
<path d="M422.6 677.9 L508.8 590.1 L631.8 677.9 Z" fill="#333"/>
<g clip-path="url(#clip2)">
<circle cx="94.2" cy="428.4" r="2.4" fill="#333"/>
<circle cx="94.2" cy="445.4" r="2.4" fill="#333"/>
<circle cx="94.2" cy="457.9" r="2.4" fill="#333"/>
<circle cx="94.2" cy="478.9" r="2.4" fill="#333"/>
<circle cx="94.2" cy="494.9" r="2.4" fill="#333"/>
<circle cx="94.2" cy="511.7" r="2.4" fill="#333"/>
<circle cx="94.2" cy="578.2" r="2.4" fill="#333"/>
<circle cx="94.2" cy="642.9" r="2.4" fill="#333"/>
<circle cx="161.6" cy="428.4" r="2.4" fill="#333"/>
<circle cx="161.6" cy="442.4" r="2.4" fill="#333"/>
<circle cx="161.6" cy="457.4" r="2.4" fill="#333"/>
<circle cx="161.6" cy="470.2" r="2.4" fill="#333"/>
<circle cx="161.6" cy="494.9" r="2.4" fill="#333"/>
<circle cx="161.6" cy="503.4" r="2.4" fill="#333"/>
<circle cx="161.6" cy="511.7" r="2.4" fill="#333"/>
<circle cx="161.6" cy="520.4" r="2.4" fill="#333"/>
<circle cx="161.6" cy="561.7" r="2.4" fill="#333"/>
<circle cx="161.6" cy="594.5" r="2.4" fill="#333"/>
<circle cx="246" cy="428.4" r="2.4" fill="#333"/>
<circle cx="246" cy="436.9" r="2.4" fill="#333"/>
<circle cx="246" cy="452.2" r="2.4" fill="#333"/>
<circle cx="246" cy="461.6" r="2.4" fill="#333"/>
<circle cx="246" cy="494.9" r="2.4" fill="#333"/>
<circle cx="246" cy="511.7" r="2.4" fill="#333"/>
<circle cx="246" cy="528.8" r="2.4" fill="#333"/>
<circle cx="246" cy="544.9" r="2.4" fill="#333"/>
<circle cx="246" cy="578.4" r="2.4" fill="#333"/>
<circle cx="246" cy="635.8" r="2.4" fill="#333"/>
<circle cx="344.1" cy="428.4" r="2.4" fill="#333"/>
<circle cx="344.1" cy="440.6" r="2.4" fill="#333"/>
<circle cx="344.1" cy="447.3" r="2.4" fill="#333"/>
<circle cx="344.1" cy="454.2" r="2.4" fill="#333"/>
<circle cx="344.1" cy="470.2" r="2.4" fill="#333"/>
<circle cx="344.1" cy="486.8" r="2.4" fill="#333"/>
<circle cx="344.1" cy="511.7" r="2.4" fill="#333"/>
<circle cx="344.1" cy="528.8" r="2.4" fill="#333"/>
<circle cx="344.1" cy="544.9" r="2.4" fill="#333"/>
<circle cx="344.1" cy="594.5" r="2.4" fill="#333"/>
<circle cx="422" cy="428.4" r="2.4" fill="#333"/>
<circle cx="422" cy="445.1" r="2.4" fill="#333"/>
<circle cx="422" cy="453.7" r="2.4" fill="#333"/>
<circle cx="422" cy="461.9" r="2.4" fill="#333"/>
<circle cx="422" cy="478.9" r="2.4" fill="#333"/>
<circle cx="422" cy="494.9" r="2.4" fill="#333"/>
<circle cx="422" cy="511.7" r="2.4" fill="#333"/>
<circle cx="422" cy="544.9" r="2.4" fill="#333"/>
<circle cx="422" cy="565.9" r="2.4" fill="#333"/>
<circle cx="422" cy="594.5" r="2.4" fill="#333"/>
<circle cx="508.7" cy="428.4" r="2.4" fill="#333"/>
<circle cx="508.7" cy="441.1" r="2.4" fill="#333"/>
<circle cx="508.7" cy="453.7" r="2.4" fill="#333"/>
<circle cx="508.7" cy="461.9" r="2.4" fill="#333"/>
<circle cx="508.7" cy="470.2" r="2.4" fill="#333"/>
<circle cx="508.7" cy="486.8" r="2.4" fill="#333"/>
<circle cx="508.7" cy="511.7" r="2.4" fill="#333"/>
<circle cx="508.7" cy="544.9" r="2.4" fill="#333"/>
<circle cx="508.7" cy="582.2" r="2.4" fill="#333"/>
<circle cx="632.7" cy="428.4" r="2.4" fill="#333"/>
<circle cx="632.7" cy="449.3" r="2.4" fill="#333"/>
<circle cx="632.7" cy="466.3" r="2.4" fill="#333"/>
<circle cx="632.7" cy="474.7" r="2.4" fill="#333"/>
<circle cx="632.7" cy="490" r="2.4" fill="#333"/>
<circle cx="632.7" cy="511.7" r="2.4" fill="#333"/>
<circle cx="632.7" cy="544.9" r="2.4" fill="#333"/>
<circle cx="632.7" cy="586.4" r="2.4" fill="#333"/>
<circle cx="632.7" cy="661.2" r="2.4" fill="#333"/>
</g>
<path d="M85.8 647.6 L110 647.6 L158 677.4 L85.8 677.4 Z" fill="#3a3a3a"/><rect x="89.5" y="642.1" width="171.4" height="30.7" fill="#000"/><text x="94" y="664.6" class="ttl" style="font-size:19.8px" textLength="163.2" lengthAdjust="spacingAndGlyphs">PO<tspan font-size="11.5" dy="3">4</tspan><tspan font-size="11.5" dy="-10">3–</tspan><tspan dy="7"> [µmol kg</tspan><tspan font-size="11.5" dy="-8">–1</tspan><tspan dy="8">]</tspan></text>
<rect x="85.8" y="428.4" width="568" height="249" fill="none" stroke="#111" stroke-width="1.4"/>
<path d="M85.8 428.4 h-6" stroke="#111" stroke-width="1.3"/>
<text transform="translate(71.5 433.7) scale(1.07 1)" class="tk" text-anchor="end">0</text>
<path d="M85.8 469.9 h-6" stroke="#111" stroke-width="1.3"/>
<text transform="translate(71.5 475.2) scale(1.07 1)" class="tk" text-anchor="end">50</text>
<path d="M85.8 511.4 h-6" stroke="#111" stroke-width="1.3"/>
<text transform="translate(71.5 516.7) scale(1.07 1)" class="tk" text-anchor="end">100</text>
<path d="M85.8 552.9 h-6" stroke="#111" stroke-width="1.3"/>
<text transform="translate(71.5 558.2) scale(1.07 1)" class="tk" text-anchor="end">150</text>
<path d="M85.8 594.4 h-6" stroke="#111" stroke-width="1.3"/>
<text transform="translate(71.5 599.7) scale(1.07 1)" class="tk" text-anchor="end">200</text>
<path d="M85.8 635.9 h-6" stroke="#111" stroke-width="1.3"/>
<text transform="translate(71.5 641.2) scale(1.07 1)" class="tk" text-anchor="end">250</text>
<path d="M85.8 677.4 h-6" stroke="#111" stroke-width="1.3"/>
<text transform="translate(71.5 682.7) scale(1.07 1)" class="tk" text-anchor="end">300</text>
<path d="M85.8 677.4 v6" stroke="#111" stroke-width="1.2"/>
<text transform="translate(85.3 704.2) scale(1.05 1)" class="tk" text-anchor="middle">0</text>
<path d="M155.5 677.4 v5" stroke="#111" stroke-width="1.2"/>
<path d="M225.2 677.4 v6" stroke="#111" stroke-width="1.2"/>
<text transform="translate(224.7 704.2) scale(1.05 1)" class="tk" text-anchor="middle">200</text>
<path d="M294.9 677.4 v5" stroke="#111" stroke-width="1.2"/>
<path d="M364.6 677.4 v6" stroke="#111" stroke-width="1.2"/>
<text transform="translate(364.1 704.2) scale(1.05 1)" class="tk" text-anchor="middle">400</text>
<path d="M434.3 677.4 v5" stroke="#111" stroke-width="1.2"/>
<path d="M504 677.4 v6" stroke="#111" stroke-width="1.2"/>
<text transform="translate(503.5 704.2) scale(1.05 1)" class="tk" text-anchor="middle">600</text>
<path d="M573.7 677.4 v5" stroke="#111" stroke-width="1.2"/>
<path d="M643.4 677.4 v6" stroke="#111" stroke-width="1.2"/>
<text transform="translate(642.9 704.2) scale(1.05 1)" class="tk" text-anchor="middle">800</text>
<text x="91" y="423.4" class="st" text-anchor="middle">32</text>
<text x="160.1" y="423.4" class="st" text-anchor="middle">28</text>
<text x="243.1" y="423.4" class="st" text-anchor="middle">27</text>
<text x="340.2" y="423.4" class="st" text-anchor="middle">26</text>
<text x="419.1" y="423.4" class="st" text-anchor="middle">25</text>
<text x="505" y="423.4" class="st" text-anchor="middle">24</text>
<text x="627.4" y="423.4" class="st" text-anchor="middle">15</text>
<text transform="translate(-0.5 409.8) scale(1 1.08)" class="pl">C</text>
<text transform="translate(25.5 552.9) rotate(-90) scale(1.03 1)" class="ax" text-anchor="middle">Depth [m]</text>
<defs>
<linearGradient id="cbg1_672_428" x1="0" y1="0" x2="0" y2="1"><stop offset="0" stop-color="#FDB68A"/><stop offset="0.2" stop-color="#FA9E7C"/><stop offset="0.3" stop-color="#F8866F"/><stop offset="0.5" stop-color="#F47266"/><stop offset="0.7" stop-color="#EE5A5E"/><stop offset="0.8" stop-color="#E8404F"/><stop offset="1" stop-color="#E2203F"/></linearGradient>
<linearGradient id="cbg4_672_428" x1="0" y1="0" x2="0" y2="1"><stop offset="0" stop-color="#FB2A00"/><stop offset="0.1" stop-color="#E84A00"/><stop offset="0.3" stop-color="#DD6600"/><stop offset="0.4" stop-color="#F08000"/><stop offset="0.6" stop-color="#FF9500"/><stop offset="0.7" stop-color="#FFA500"/><stop offset="0.9" stop-color="#FDB515"/><stop offset="1" stop-color="#FEC31A"/></linearGradient>
<linearGradient id="cbg6_672_428" x1="0" y1="0" x2="0" y2="1"><stop offset="0" stop-color="#6BC853"/><stop offset="1" stop-color="#5CC84A"/></linearGradient>
<linearGradient id="cbg17_672_428" x1="0" y1="0" x2="0" y2="1"><stop offset="0" stop-color="#DE46D6"/><stop offset="1" stop-color="#EC70EC"/></linearGradient>
</defs>
<rect x="672.2" y="428.4" width="24.6" height="6.8" fill="#FDB68A"/>
<rect x="672.2" y="434.6" width="24.6" height="25.5" fill="url(#cbg1_672_428)"/>
<rect x="672.2" y="459.5" width="24.6" height="11.1" fill="#D6062A"/>
<rect x="672.2" y="470" width="24.6" height="4.1" fill="#FB2A00"/>
<rect x="672.2" y="473.5" width="24.6" height="26" fill="url(#cbg4_672_428)"/>
<rect x="672.2" y="498.9" width="24.6" height="33.6" fill="#FEC31A"/>
<rect x="672.2" y="531.9" width="24.6" height="11.6" fill="url(#cbg6_672_428)"/>
<rect x="672.2" y="542.9" width="24.6" height="7.8" fill="#40CC3A"/>
<rect x="672.2" y="550.2" width="24.6" height="14.5" fill="#22E022"/>
<rect x="672.2" y="564.1" width="24.6" height="20.5" fill="#0CC84A"/>
<rect x="672.2" y="584" width="24.6" height="19.5" fill="#00EBA3"/>
<rect x="672.2" y="602.9" width="24.6" height="8.6" fill="#42ABF6"/>
<rect x="672.2" y="610.9" width="24.6" height="8.6" fill="#3A9AF0"/>
<rect x="672.2" y="618.9" width="24.6" height="10.8" fill="#2F88E8"/>
<rect x="672.2" y="629.1" width="24.6" height="19.5" fill="#5353F2"/>
<rect x="672.2" y="648" width="24.6" height="17.3" fill="#3E3EF8"/>
<rect x="672.2" y="664.7" width="24.6" height="5.8" fill="#9E86EE"/>
<rect x="672.2" y="669.9" width="24.6" height="8.1" fill="url(#cbg17_672_428)"/>
<path d="M675.7 429 L684.5 424.6 L693.3 429 Z" fill="#FDB68A"/>
<path d="M675.7 428.6 L684.5 424.6 L693.3 428.6" fill="none" stroke="#222" stroke-width="0.8"/>
<path d="M675.7 676.8 L684.5 681.6 L693.3 676.8 Z" fill="#EC78EC"/>
<path d="M675.7 677.2 L684.5 681.6 L693.3 677.2" fill="none" stroke="#222" stroke-width="0.8"/>
<path d="M672.2 428.4 V677.4 M696.8 428.4 V677.4" fill="none" stroke="#222" stroke-width="0.9"/>
<path d="M671.8 428.4 h5 M697.2 428.4 h-5 M671.8 677.4 h5 M697.2 677.4 h-5" stroke="#111" stroke-width="1.6"/>
<text transform="translate(703.3 433.6) scale(1.1 1)" class="tl">2</text>
<path d="M672.2 490.6 h5.5 M696.8 490.6 h-5.5" stroke="#111" stroke-width="1.5"/>
<text transform="translate(703.3 495.8) scale(1.1 1)" class="tl">1.5</text>
<path d="M672.2 552.9 h5.5 M696.8 552.9 h-5.5" stroke="#111" stroke-width="1.5"/>
<text transform="translate(703.3 558.1) scale(1.1 1)" class="tl">1</text>
<path d="M672.2 615.1 h5.5 M696.8 615.1 h-5.5" stroke="#111" stroke-width="1.5"/>
<text transform="translate(703.3 620.4) scale(1.1 1)" class="tl">0.5</text>
<text transform="translate(703.3 682.6) scale(1.1 1)" class="tl">0</text>
<text transform="translate(668.3 674.4) rotate(-90)" class="odv">Ocean Data View / DIVA</text>
<clipPath id="clip3"><rect x="831.4" y="428.4" width="568" height="249"/></clipPath>
<g clip-path="url(#clip3)">
<rect x="831.4" y="428.4" width="568" height="249" fill="#6AC850"/>
<path d="M805.6 423.4 L805.6 486.9 C808.9 486.9 821.3 486.8 825.6 486.9 C829.9 487 818 483.7 831.6 487.5 C845.2 491.3 887.5 503.6 907.1 509.8 C926.7 516 937.2 519.7 949.1 524.6 C961 529.5 970.4 535.3 978.6 539.4 C986.9 543.5 991.2 543.1 998.6 548.9 C1006 554.6 1016.2 567.2 1023.2 573.9 C1030.2 580.6 1032.4 585.6 1040.6 588.9 C1048.8 592.2 1063.4 593.8 1072.6 593.8 C1081.8 593.8 1089.3 592.5 1095.6 588.9 C1101.9 585.2 1105.6 576.6 1110.6 571.9 C1115.6 567.2 1119.8 564.4 1125.6 560.9 C1131.4 557.4 1137.8 553.2 1145.6 550.9 C1153.4 548.5 1164.1 546.3 1172.6 546.8 C1181.1 547.3 1189.6 548.9 1196.6 553.9 C1203.6 558.9 1210.4 568.6 1214.6 576.5 C1218.8 584.4 1218.9 593 1221.6 601.2 C1224.3 609.4 1226.6 611.8 1230.6 625.9 C1234.6 640 1233.1 675.9 1245.6 685.9 C1258.1 695.9 1278.6 685.9 1305.6 685.9 C1332.6 685.9 1387.3 685.9 1407.6 685.9 C1427.9 685.9 1424.3 685.9 1427.6 685.9 L1427.6 423.4 Z" fill="#FEC31A"/>
<path d="M823.6 483.9 C824.9 450.8 817.7 483.2 831.6 487.5 C845.5 491.8 887.5 503.6 907.1 509.8 C926.7 516 938.5 520.2 949.1 524.6 C959.7 528.9 965.7 530.7 970.6 535.9 C975.5 541.1 976.8 547.6 978.6 555.9 C980.4 564.2 981.6 575.9 981.6 585.9 C981.6 595.9 979.9 605.9 978.6 615.9 C977.3 625.9 975.4 634.2 973.6 645.9 C971.8 657.6 992.6 679.2 967.6 685.9 C942.6 692.6 847.6 719.6 823.6 685.9 C799.6 652.2 822.3 517 823.6 483.9 Z" fill="#24E026"/>
<path d="M823.6 494.9 C827.3 483.4 836.3 496.2 845.6 497.9 C854.9 499.6 869.6 502.6 879.6 504.9 C889.6 507.2 895.6 508.9 905.6 511.9 C915.6 514.9 930.9 518.6 939.6 522.9 C948.3 527.2 953.9 532.4 957.6 537.9 C961.3 543.4 961.6 549.6 961.6 555.9 C961.6 562.2 959.4 569.6 957.6 575.9 C955.8 582.2 955.1 588.4 950.6 593.9 C946.1 599.4 938.1 605.7 930.6 608.9 C923.1 612.1 914.9 614.9 905.6 612.9 C896.3 610.9 884.6 602.4 874.6 596.9 C864.6 591.4 852.8 584.6 845.6 579.9 C838.4 575.2 835.3 571.1 831.6 568.9 C827.9 566.7 824.9 579.2 823.6 566.9 C822.3 554.6 819.9 506.4 823.6 494.9 Z" fill="#10C84A"/>
<path d="M823.6 593.9 C824.9 579.9 824.6 590.6 831.6 595.9 C838.6 601.2 854.9 615.9 865.6 625.9 C876.3 635.9 885.9 646.9 895.6 655.9 C905.3 664.9 935.6 675.9 923.6 679.9 C911.6 683.9 840.3 694.2 823.6 679.9 C806.9 665.6 822.3 607.9 823.6 593.9 Z" fill="#44C83C"/>
<path d="M1125.6 569.9 C1130.9 562.9 1137.8 557.8 1145.6 553.9 C1153.4 550 1164.1 546.4 1172.6 546.4 C1181.1 546.4 1190.1 549.3 1196.6 553.9 C1203.1 558.5 1207.8 566.1 1211.6 573.9 C1215.4 581.7 1217.4 593.1 1219.6 600.9 C1221.8 608.7 1222.9 606.7 1224.6 620.9 C1226.3 635.1 1247.8 675.1 1229.6 685.9 C1211.4 696.7 1135.4 694.2 1115.6 685.9 C1095.8 677.6 1110.9 650.9 1110.6 635.9 C1110.3 620.9 1111.1 606.9 1113.6 595.9 C1116.1 584.9 1120.3 576.9 1125.6 569.9 Z" fill="#6AC850"/>
<path d="M1123.6 585.9 C1127.3 565.9 1137.8 570.1 1145.6 565.9 C1153.4 561.7 1163.1 560.1 1170.6 560.9 C1178.1 561.7 1185.6 565.1 1190.6 570.9 C1195.6 576.7 1198.1 585.1 1200.6 595.9 C1203.1 606.7 1205.6 620.9 1205.6 635.9 C1205.6 650.9 1214.3 677.6 1200.6 685.9 C1186.9 694.2 1136.4 702.6 1123.6 685.9 C1110.8 669.2 1119.9 605.9 1123.6 585.9 Z" fill="#24E026"/>
<path d="M1288.6 577.9 C1289.4 571.7 1296.1 566.7 1305.6 563.9 C1315.1 561.1 1332.3 560.2 1345.6 560.9 C1358.9 561.6 1375.3 565.4 1385.6 567.9 C1395.9 570.4 1403.9 567.6 1407.6 575.9 C1411.3 584.2 1412.9 609.9 1407.6 617.9 C1402.3 625.9 1387.6 624.2 1375.6 623.9 C1363.6 623.6 1348.1 619.7 1335.6 615.9 C1323.1 612.1 1308.4 607.2 1300.6 600.9 C1292.8 594.6 1287.8 584.1 1288.6 577.9 Z" fill="#FDB416"/>
<path d="M1335.6 590.9 C1335.6 587.9 1347.3 583.1 1355.6 581.9 C1363.9 580.7 1376.9 582.9 1385.6 583.9 C1394.3 584.9 1403.9 584.6 1407.6 587.9 C1411.3 591.2 1411.3 601.7 1407.6 603.9 C1403.9 606.1 1394.3 601.6 1385.6 600.9 C1376.9 600.2 1363.9 601.6 1355.6 599.9 C1347.3 598.2 1335.6 593.9 1335.6 590.9 Z" fill="#FCA80A"/>
<path d="M805.6 423.4 L805.6 462.5 C808.9 462.5 821.3 462.5 825.6 462.5 C829.9 462.5 818.1 463 831.6 462.5 C845.1 462 879.9 461.3 906.6 459.5 C933.3 457.7 965.6 453.2 991.6 451.6 C1017.6 449.9 1046.3 449.9 1062.6 449.6 C1078.9 449.3 1081.1 446.2 1089.6 449.9 C1098.1 453.6 1107.2 467.5 1113.6 471.8 C1120 476.1 1122.3 474.8 1128.1 475.9 C1133.9 477 1142 477.9 1148.6 478.6 C1155.2 479.3 1159.8 479 1167.6 479.9 C1175.4 480.8 1184.1 481.6 1195.6 483.9 C1207.1 486.2 1226.8 491.6 1236.6 493.9 C1246.4 496.1 1238.6 491.5 1254.6 497.4 C1270.6 503.3 1307.1 522.4 1332.6 529.5 C1358.1 536.6 1391.8 538.2 1407.6 539.9 C1423.4 541.6 1424.3 539.9 1427.6 539.9 L1427.6 423.4 Z" fill="#6AC850"/>
<path d="M805.6 423.4 L805.6 459.9 C808.9 459.9 821.3 459.9 825.6 459.9 C829.9 459.9 818.1 460.5 831.6 459.9 C845.1 459.3 879.9 457.9 906.6 456.4 C933.3 454.8 965.6 451.9 991.6 450.6 C1017.6 449.3 1046.3 449 1062.6 448.6 C1078.9 448.1 1081.1 445.3 1089.6 447.9 C1098.1 450.4 1107.2 460.2 1113.6 463.9 C1120 467.6 1122.3 468.6 1128.1 469.9 C1133.9 471.2 1142 470.9 1148.6 471.9 C1155.2 472.9 1159.8 474.6 1167.6 475.9 C1175.4 477.2 1184.1 477.7 1195.6 479.9 C1207.1 482.1 1226.8 486.9 1236.6 488.9 C1246.4 490.9 1238.6 487.4 1254.6 491.9 C1270.6 496.4 1307.1 509.1 1332.6 515.9 C1358.1 522.7 1391.8 530.1 1407.6 532.9 C1423.4 535.7 1424.3 532.9 1427.6 532.9 L1427.6 423.4 Z" fill="#24E026"/>
<path d="M805.6 423.4 L805.6 456.9 C808.9 456.9 821.3 456.9 825.6 456.9 C829.9 456.9 818.1 457.6 831.6 456.9 C845.1 456.2 879.9 454.1 906.6 452.9 C933.3 451.6 965.6 450.3 991.6 449.4 C1017.6 448.5 1046.3 448 1062.6 447.4 C1078.9 446.8 1081.1 444.5 1089.6 445.9 C1098.1 447.3 1107.2 452.4 1113.6 455.9 C1120 459.4 1122.3 464.7 1128.1 466.9 C1133.9 469.1 1142 468.1 1148.6 468.9 C1155.2 469.7 1159.8 470.6 1167.6 471.8 C1175.4 473 1184.1 473.9 1195.6 475.9 C1207.1 477.9 1226.8 482.2 1236.6 483.9 C1246.4 485.6 1238.6 482.2 1254.6 485.9 C1270.6 489.6 1307.1 499.6 1332.6 505.9 C1358.1 512.2 1391.8 520.9 1407.6 523.9 C1423.4 526.9 1424.3 523.9 1427.6 523.9 L1427.6 423.4 Z" fill="#10C84A"/>
<path d="M805.6 423.4 L805.6 453.6 C808.9 453.6 821.3 453.6 825.6 453.6 C829.9 453.6 818.1 454.3 831.6 453.6 C845.1 452.9 879.9 450.6 906.6 449.6 C933.3 448.6 965.6 448.3 991.6 447.7 C1017.6 447.1 1046.3 446.6 1062.6 445.7 C1078.9 444.8 1081.1 442.1 1089.6 442.5 C1098.1 442.9 1107.2 444.4 1113.6 447.9 C1120 451.4 1122.3 460.7 1128.1 463.6 C1133.9 466.5 1142 464.8 1148.6 465.4 C1155.2 466 1159.8 466.4 1167.6 467 C1175.4 467.6 1184.1 467.6 1195.6 468.9 C1207.1 470.1 1226.8 473 1236.6 474.5 C1246.4 476 1238.6 473.9 1254.6 477.7 C1270.6 481.5 1307.1 492 1332.6 497.4 C1358.1 502.8 1391.8 507.8 1407.6 509.9 C1423.4 512 1424.3 509.9 1427.6 509.9 L1427.6 423.4 Z" fill="#02EBA3"/>
<path d="M805.6 423.4 L805.6 451.9 C808.9 451.9 821.3 451.9 825.6 451.9 C829.9 451.9 818.1 452.9 831.6 451.9 C845.1 450.9 879.9 447.1 906.6 445.7 C933.3 444.3 965.6 444 991.6 443.7 C1017.6 443.4 1046.3 444.2 1062.6 443.7 C1078.9 443.1 1081.1 440.2 1089.6 440.4 C1098.1 440.6 1107.2 441.7 1113.6 444.9 C1120 448.1 1122.3 456.7 1128.1 459.5 C1133.9 462.3 1142 461 1148.6 461.9 C1155.2 462.8 1159.8 464.2 1167.6 464.9 C1175.4 465.6 1184.1 465.4 1195.6 465.9 C1207.1 466.4 1226.8 467.2 1236.6 467.7 C1246.4 468.2 1238.6 464.9 1254.6 468.9 C1270.6 472.9 1307.1 486.6 1332.6 491.9 C1358.1 497.1 1391.8 499 1407.6 500.4 C1423.4 501.8 1424.3 500.4 1427.6 500.4 L1427.6 423.4 Z" fill="#42ABF6"/>
<path d="M805.6 423.4 L805.6 450.6 C808.9 450.6 821.3 450.6 825.6 450.6 C829.9 450.6 818.1 451.5 831.6 450.6 C845.1 449.6 879.9 446.3 906.6 444.9 C933.3 443.5 965.6 442.8 991.6 442.4 C1017.6 442 1046.3 443 1062.6 442.4 C1078.9 441.8 1081.1 438.8 1089.6 438.9 C1098.1 439 1107.2 440.1 1113.6 442.9 C1120 445.6 1122.3 452.7 1128.1 455.4 C1133.9 458.1 1142 457.8 1148.6 458.9 C1155.2 460 1159.8 461.5 1167.6 462.2 C1175.4 462.9 1184.1 462.6 1195.6 462.9 C1207.1 463.2 1226.8 463.4 1236.6 463.9 C1246.4 464.4 1238.6 462.6 1254.6 465.9 C1270.6 469.2 1307.1 478.9 1332.6 483.9 C1358.1 488.9 1391.8 493.9 1407.6 495.9 C1423.4 497.9 1424.3 495.9 1427.6 495.9 L1427.6 423.4 Z" fill="#2F8AE8"/>
<path d="M805.6 423.4 L805.6 447.7 C808.9 447.7 821.3 447.7 825.6 447.7 C829.9 447.7 818.1 448.5 831.6 447.7 C845.1 446.9 879.9 444 906.6 442.7 C933.3 441.4 965.6 440.3 991.6 439.8 C1017.6 439.3 1046.3 440.3 1062.6 439.8 C1078.9 439.3 1081.1 436.8 1089.6 437 C1098.1 437.2 1107.2 438.5 1113.6 440.9 C1120 443.3 1122.3 448.8 1128.1 451.3 C1133.9 453.8 1142 454.5 1148.6 455.9 C1155.2 457.3 1159.8 458.7 1167.6 459.5 C1175.4 460.3 1184.1 460.4 1195.6 460.9 C1207.1 461.3 1226.8 461.7 1236.6 462.2 C1246.4 462.7 1238.6 461.3 1254.6 463.9 C1270.6 466.5 1307.1 473.5 1332.6 477.9 C1358.1 482.3 1391.8 488.3 1407.6 490.4 C1423.4 492.5 1424.3 490.4 1427.6 490.4 L1427.6 423.4 Z" fill="#5555F2"/>
<path d="M805.6 423.4 L805.6 445.9 C808.9 445.9 821.3 445.9 825.6 445.9 C829.9 445.9 818.1 447 831.6 445.9 C845.1 444.8 879.9 441.2 906.6 439.4 C933.3 437.6 965.6 435.5 991.6 434.9 C1017.6 434.3 1046.3 435.8 1062.6 435.9 C1078.9 436 1081.1 435.1 1089.6 435.4 C1098.1 435.7 1107.2 436.5 1113.6 437.9 C1120 439.3 1122.3 442.1 1128.1 443.9 C1133.9 445.7 1142 446.9 1148.6 448.9 C1155.2 450.9 1159.8 454.5 1167.6 455.9 C1175.4 457.3 1184.1 456.9 1195.6 457.4 C1207.1 457.9 1226.8 458.5 1236.6 458.9 C1246.4 459.3 1238.6 457.6 1254.6 459.9 C1270.6 462.2 1307.1 469.7 1332.6 472.7 C1358.1 475.7 1391.8 477 1407.6 477.9 C1423.4 478.8 1424.3 477.9 1427.6 477.9 L1427.6 423.4 Z" fill="#3E3EF8"/>
<path d="M805.6 423.4 L805.6 443.7 C808.9 443.7 821.3 443.7 825.6 443.7 C829.9 443.7 818.1 445 831.6 443.7 C845.1 442.4 879.9 437.8 906.6 435.8 C933.3 433.8 965.6 432.4 991.6 431.9 C1017.6 431.4 1046.3 432.9 1062.6 432.9 C1078.9 432.8 1081.1 431.4 1089.6 431.6 C1098.1 431.8 1107.2 433.1 1113.6 433.9 C1120 434.7 1122.3 434.7 1128.1 436.3 C1133.9 437.8 1142 440.5 1148.6 443.2 C1155.2 445.9 1159.8 451.1 1167.6 452.7 C1175.4 454.3 1184.1 453.3 1195.6 452.7 C1207.1 452.1 1226.8 449.7 1236.6 449.3 C1246.4 448.9 1238.6 450.7 1254.6 450.5 C1270.6 450.3 1307.1 447.6 1332.6 448 C1358.1 448.4 1391.8 452.1 1407.6 452.9 C1423.4 453.7 1424.3 452.9 1427.6 452.9 L1427.6 423.4 Z" fill="#DA62DC"/>
<path d="M1140.6 429.9 C1142.3 431.6 1150.6 433.2 1155.6 435.9 C1160.6 438.6 1163.9 443.7 1170.6 445.9 C1177.3 448.1 1184.6 448.9 1195.6 448.9 C1206.6 448.9 1225.9 446.7 1236.6 445.9 C1247.3 445.1 1253.1 445.6 1259.6 443.9 C1266.1 442.2 1271.3 438.9 1275.6 435.9 C1279.9 432.9 1307.3 427.6 1285.6 425.9 C1263.9 424.2 1169.8 425.2 1145.6 425.9 C1121.4 426.6 1138.9 428.2 1140.6 429.9 Z" fill="#E48AE4"/>
<path d="M1373.6 425.9 C1368.3 427.6 1373.6 432.6 1375.6 435.9 C1377.6 439.2 1380.3 443.7 1385.6 445.9 C1390.9 448.1 1403.9 452.2 1407.6 448.9 C1411.3 445.6 1413.3 429.7 1407.6 425.9 C1401.9 422.1 1378.9 424.2 1373.6 425.9 Z" fill="#E48AE4"/>
<path d="M885.6 472.9 C887.6 470.1 895.6 466.4 905.6 463.9 C915.6 461.4 933.9 458.6 945.6 457.9 C957.3 457.1 967.9 459.2 975.6 459.4 C983.3 459.6 983.3 458.6 991.6 458.9 C999.9 459.1 1014.9 459.9 1025.6 460.9 C1036.3 461.9 1046.9 462.7 1055.6 464.9 C1064.3 467.1 1070.6 470.2 1077.6 473.9 C1084.6 477.6 1090.9 484.1 1097.6 486.9 C1104.3 489.7 1110.9 489.2 1117.6 490.9 C1124.3 492.6 1131.9 494.1 1137.6 496.9 C1143.3 499.7 1150.3 503.6 1151.6 507.9 C1152.9 512.2 1149.6 518.6 1145.6 522.9 C1141.6 527.2 1134.3 530.7 1127.6 533.9 C1120.9 537.1 1113.4 539.7 1105.6 541.9 C1097.8 544.1 1088.9 546.6 1080.6 546.9 C1072.3 547.2 1063.9 545.4 1055.6 543.9 C1047.3 542.4 1038.9 540.2 1030.6 537.9 C1022.3 535.6 1013.1 532.9 1005.6 529.9 C998.1 526.9 993.1 523.9 985.6 519.9 C978.1 515.9 969.3 509.9 960.6 505.9 C951.9 501.9 941.9 498.7 933.6 495.9 C925.3 493.1 917.3 491.4 910.6 488.9 C903.9 486.4 897.8 483.6 893.6 480.9 C889.4 478.2 883.6 475.7 885.6 472.9 Z" fill="#FA9A00"/>
<path d="M895.6 473.9 C896.6 470.6 905.3 467.1 913.6 464.9 C921.9 462.6 932.6 461.1 945.6 460.4 C958.6 459.7 977.9 460.5 991.6 460.9 C1005.3 461.3 1016.6 461.8 1027.6 462.9 C1038.6 464 1048.9 464.9 1057.6 467.4 C1066.3 469.9 1072.3 474.1 1079.6 477.9 C1086.9 481.6 1094.3 487.1 1101.6 489.9 C1108.9 492.7 1116.9 492.7 1123.6 494.9 C1130.3 497.1 1138.1 499.4 1141.6 502.9 C1145.1 506.4 1146.6 511.7 1144.6 515.9 C1142.6 520.1 1135.8 524.4 1129.6 527.9 C1123.4 531.4 1115.8 534.6 1107.6 536.9 C1099.4 539.2 1090.1 541.6 1080.6 541.9 C1071.1 542.2 1059.8 540.4 1050.6 538.9 C1041.4 537.4 1033.8 535.2 1025.6 532.9 C1017.4 530.6 1008.6 527.7 1001.6 524.9 C994.6 522.1 990.9 519.7 983.6 515.9 C976.3 512.1 966.4 505.7 957.6 501.9 C948.8 498.1 938.9 495.7 930.6 492.9 C922.3 490.1 913.4 488.1 907.6 484.9 C901.8 481.7 894.6 477.2 895.6 473.9 Z" fill="#EA6400"/>
<path d="M910.6 474.9 C912.3 472.1 919.8 468.9 925.6 466.9 C931.4 464.9 934.6 463.6 945.6 462.9 C956.6 462.1 977.9 462.1 991.6 462.4 C1005.3 462.6 1016.6 463.3 1027.6 464.4 C1038.6 465.5 1048.8 466.3 1057.6 468.9 C1066.4 471.5 1072.9 476.1 1080.6 479.9 C1088.3 483.7 1096.1 489.1 1103.6 491.9 C1111.1 494.7 1119.4 494.6 1125.6 496.9 C1131.8 499.2 1138.3 502.4 1140.6 505.9 C1142.9 509.4 1142.4 514.2 1139.6 517.9 C1136.8 521.6 1129.6 524.9 1123.6 527.9 C1117.6 530.9 1110.8 533.7 1103.6 535.9 C1096.4 538.1 1089.4 540.7 1080.6 540.9 C1071.8 541.1 1059.4 538.6 1050.6 536.9 C1041.8 535.2 1035.4 533.2 1027.6 530.9 C1019.8 528.6 1010.6 525.7 1003.6 522.9 C996.6 520.1 992.8 517.6 985.6 513.9 C978.4 510.2 969.3 504.7 960.6 500.9 C951.9 497.1 941.1 493.7 933.6 490.9 C926.1 488.1 919.4 486.6 915.6 483.9 C911.8 481.2 908.9 477.7 910.6 474.9 Z" fill="#F23C00"/>
<path d="M930.6 475.9 C933.6 473.6 939.8 470.7 945.6 468.9 C951.4 467.1 957.9 465.6 965.6 464.9 C973.3 464.2 980.8 464.6 991.6 464.9 C1002.4 465.2 1019.1 465.6 1030.6 466.9 C1042.1 468.2 1051.8 470.1 1060.6 472.9 C1069.4 475.7 1076.1 480.2 1083.6 483.9 C1091.1 487.6 1098.9 492.1 1105.6 494.9 C1112.3 497.7 1119.3 498.2 1123.6 500.9 C1127.9 503.6 1131.3 507.4 1131.6 510.9 C1131.9 514.4 1129.1 518.7 1125.6 521.9 C1122.1 525.1 1116.4 527.6 1110.6 529.9 C1104.8 532.2 1098.1 535.4 1090.6 535.9 C1083.1 536.4 1073.9 534.4 1065.6 532.9 C1057.3 531.4 1049.3 529.2 1040.6 526.9 C1031.9 524.6 1021.8 521.6 1013.6 518.9 C1005.4 516.2 999.6 514.2 991.6 510.9 C983.6 507.6 974.1 502.7 965.6 498.9 C957.1 495.1 946.9 490.6 940.6 487.9 C934.3 485.2 929.3 484.9 927.6 482.9 C925.9 480.9 927.6 478.2 930.6 475.9 Z" fill="#D4042A"/>
<g filter="url(#blur4)"><path d="M985.6 485.9 C987.3 483.2 997.3 480.9 1005.6 479.9 C1013.9 478.9 1025.6 478.6 1035.6 479.9 C1045.6 481.2 1056.4 484.9 1065.6 487.9 C1074.8 490.9 1082.3 494.9 1090.6 497.9 C1098.9 500.9 1111.1 502.9 1115.6 505.9 C1120.1 508.9 1120.1 513.6 1117.6 515.9 C1115.1 518.2 1107.6 519.6 1100.6 519.9 C1093.6 520.2 1084.8 519.2 1075.6 517.9 C1066.4 516.6 1055.6 514.2 1045.6 511.9 C1035.6 509.6 1023.9 506.6 1015.6 503.9 C1007.3 501.2 1000.6 498.9 995.6 495.9 C990.6 492.9 983.9 488.6 985.6 485.9 Z" fill="#E24A58"/></g>
<path d="M825.6 463.9 C826.6 463.8 818.1 463.9 831.6 463.4 C845.1 462.9 887.6 461.6 906.6 460.9 C925.6 460.2 938.3 459.6 945.6 459.4 C952.9 459.1 949.8 459.4 950.6 459.4" fill="none" stroke="#111" stroke-width="0.9"/>
<path d="M981.6 457.9 C983.9 457.6 986.6 455.7 995.6 455.9 C1004.6 456.1 1024.6 457.4 1035.6 458.9 C1046.6 460.4 1054.9 462.4 1061.6 464.9 C1068.3 467.4 1070.8 470.7 1075.6 473.9 C1080.4 477.1 1083.6 481.2 1090.6 483.9 C1097.6 486.6 1109.8 487.9 1117.6 489.9 C1125.4 491.9 1132.3 492.9 1137.6 495.9 C1142.9 498.9 1148.6 503.6 1149.6 507.9 C1150.6 512.2 1148.4 517.7 1143.6 521.9 C1138.8 526.1 1129.4 529.2 1120.6 532.9 C1111.8 536.6 1101.4 542.4 1090.6 543.9 C1079.8 545.4 1068.1 544.6 1055.6 541.9 C1043.1 539.2 1026.3 531.9 1015.6 527.9 C1004.9 523.9 1000.8 522.2 991.6 517.9 C982.4 513.6 970.6 506.4 960.6 501.9 C950.6 497.4 940.8 494.2 931.6 490.9 C922.4 487.6 911.6 484.2 905.6 481.9 C899.6 479.6 895.9 478.9 895.6 476.9 C895.3 474.9 898.6 472 903.6 469.9 C908.6 467.8 918.6 465.9 925.6 464.4 C932.6 462.9 937.3 461.8 945.6 460.9 C953.9 460 970.6 459.2 975.6 458.9" fill="none" stroke="#111" stroke-width="0.9"/>
<path d="M825.6 486.9 C826.6 487.1 818 484.7 831.6 487.9 C845.2 491.1 887.5 501.2 907.1 505.9 C926.7 510.6 937.2 511.2 949.1 515.9 C961 520.6 971.7 526.4 978.6 533.9 C985.5 541.4 988.9 550.6 990.6 560.9 C992.3 571.2 989.8 585.1 988.6 595.9 C987.4 606.7 985.4 615.9 983.6 625.9 C981.8 635.9 979.3 645.9 977.6 655.9 C975.9 665.9 974.3 680.9 973.6 685.9" fill="none" stroke="#111" stroke-width="0.9"/>
<path d="M825.6 593.9 C826.6 594.2 824.9 590.6 831.6 595.9 C838.3 601.2 854.9 615.9 865.6 625.9 C876.3 635.9 886.4 647.6 895.6 655.9 C904.8 664.2 916.4 672.6 920.6 675.9" fill="none" stroke="#111" stroke-width="0.9"/>
<path d="M825.6 450.9 C839.1 450.2 878.9 447.9 906.6 446.9 C934.3 445.9 965.6 445.1 991.6 444.9 C1017.6 444.7 1047.9 445.6 1062.6 445.9 C1077.3 446.2 1076.8 446.7 1079.6 446.9" fill="none" stroke="#111" stroke-width="0.9"/>
<path d="M1097.6 451.9 C1099.8 452.6 1099 453.9 1110.6 455.9 C1122.2 457.9 1149.9 462.2 1167.4 463.9 C1184.9 465.6 1201.1 465.2 1215.6 465.9 C1230.1 466.6 1242.7 467.4 1254.4 467.9 C1266.1 468.4 1280.4 468.7 1285.6 468.9" fill="none" stroke="#111" stroke-width="0.9"/>
<path d="M1305.6 471.9 C1314.3 473.4 1340.6 476.1 1357.6 480.9 C1374.6 485.7 1399.3 497.6 1407.6 500.9" fill="none" stroke="#111" stroke-width="0.9"/>
<path d="M1110.6 466.9 C1120.1 468.1 1143.4 469.9 1167.4 473.9 C1191.4 477.9 1231 485.9 1254.4 490.9 C1277.8 495.9 1290.4 499.7 1307.6 503.9 C1324.8 508.1 1340.9 512.6 1357.6 515.9 C1374.3 519.2 1399.3 522.6 1407.6 523.9" fill="none" stroke="#111" stroke-width="0.9"/>
<path d="M1145.6 583.9 C1147.3 581.4 1151.4 572.1 1155.6 568.9 C1159.8 565.7 1166.1 563.7 1170.6 564.9 C1175.1 566.1 1180.8 569.9 1182.6 575.9 C1184.4 581.9 1183.6 593.4 1181.6 600.9 C1179.6 608.4 1174.9 615.7 1170.6 620.9 C1166.3 626.1 1159.8 631.1 1155.6 631.9 C1151.4 632.7 1148.1 630.2 1145.6 625.9 C1143.1 621.6 1140.6 612.9 1140.6 605.9 C1140.6 598.9 1144.8 587.6 1145.6 583.9" fill="none" stroke="#111" stroke-width="0.9"/>
<text transform="translate(973.6 464.4) scale(1.1 1)" class="cb" text-anchor="middle">15</text>
<text transform="translate(1094.6 453.9) scale(1.1 1)" class="cb" text-anchor="middle">10</text>
<text transform="translate(1167.6 574.9) scale(1.1 1)" class="cb" text-anchor="middle">10</text>
<text transform="translate(1295.6 473.9) scale(1.1 1)" class="cb" text-anchor="middle">5</text>
<text transform="translate(836.6 444.9) scale(1.1 1)" class="cb" text-anchor="middle">0</text>
<text transform="translate(1397.6 470.9) scale(1.1 1)" class="cb" text-anchor="middle">0</text>
<path d="M960.6 429.5 C965.8 429.9 977.1 431.6 991.6 431.9 C1006.1 432.2 1030.3 431.3 1047.6 431.2 C1064.9 431.1 1087.6 431.4 1095.6 431.4" fill="none" stroke="#fff" stroke-width="1.2"/>
<path d="M1119.6 433.2 C1125.6 433.1 1144.8 433.1 1155.6 432.9 C1166.4 432.7 1173.6 432.7 1184.6 431.9 C1195.6 431.1 1215.4 428.8 1221.6 428.2" fill="none" stroke="#fff" stroke-width="1.2"/>
<path d="M1305.6 428.4 C1312.3 429 1333.9 430.4 1345.6 431.9 C1357.3 433.4 1370.6 436.5 1375.6 437.4" fill="none" stroke="#fff" stroke-width="1.2"/>
<path d="M825.6 434.9 C826.9 434.9 832.3 434.9 833.6 434.9" fill="none" stroke="#fff" stroke-width="1.2"/>
<path d="M867.6 434.4 C874.9 434.4 898.6 434.1 911.6 434.4 C924.6 434.6 935.8 435.1 945.6 435.9 C955.4 436.7 962.9 438.7 970.6 439.4 C978.3 440.1 979.1 439.6 991.6 439.9 C1004.1 440.1 1024.9 440.9 1045.6 440.9 C1066.3 440.9 1095.3 439.3 1115.6 439.9 C1135.9 440.5 1144.4 443.4 1167.6 444.3 C1190.8 445.2 1222.9 444.7 1254.6 445.1 C1286.3 445.5 1332.8 444.9 1357.6 446.8 C1382.4 448.7 1395.9 454.8 1403.6 456.4" fill="none" stroke="#eee" stroke-width="1.2"/>
<path d="M825.6 452.4 C826.6 452.3 818.1 452.9 831.6 451.7 C845.1 450.4 883.4 446.2 906.6 444.9 C929.8 443.6 947.4 443.9 970.6 443.7 C993.8 443.5 1025.8 443.9 1045.6 443.9 C1065.4 443.9 1078.8 443.6 1089.6 443.9 C1100.4 444.2 1097.6 442.8 1110.6 445.5 C1123.6 448.2 1146.3 457.9 1167.6 460.4 C1188.9 462.9 1226.8 460.4 1238.6 460.4" fill="none" stroke="#fff" stroke-width="1.2"/>
<path d="M1280.6 461.4 C1293.4 462.9 1337.1 467.1 1357.6 470.2 C1378.1 473.3 1395.9 478.3 1403.6 479.9" fill="none" stroke="#fff" stroke-width="1.2"/>
<path d="M825.6 469.1 C826.6 469.1 818.1 468.8 831.6 469 C845.1 469.2 887.6 470.4 906.6 470.2 C925.6 470 933.1 468.9 945.6 467.9 C958.1 466.9 975.6 465 981.6 464.4" fill="none" stroke="#fff" stroke-width="1.3"/>
<path d="M1015.6 462.9 C1020.9 463.3 1039.8 463.2 1047.6 465.3 C1055.4 467.3 1058.4 471.9 1062.6 475.2 C1066.8 478.5 1066.8 481.4 1072.6 485.1 C1078.4 488.8 1090.1 494.9 1097.3 497.4 C1104.5 499.9 1103.9 499.5 1115.6 499.9 C1127.3 500.3 1150.9 499.1 1167.6 499.9 C1184.3 500.7 1201.1 502.8 1215.6 504.9 C1230.1 506.9 1239.1 508.9 1254.6 512.2 C1270.1 515.5 1283.8 519.5 1308.6 524.6 C1333.4 529.7 1387.8 539.8 1403.6 542.9" fill="none" stroke="#fff" stroke-width="1.3"/>
<path d="M825.6 487.7 C826.6 487.9 818.1 486.1 831.6 488.8 C845.1 491.4 883.4 498.9 906.6 503.6 C929.8 508.3 954.1 513.6 970.6 517.2 C987.1 520.8 990.8 522.4 1005.6 525.3 C1020.4 528.2 1050.6 533.1 1059.6 534.7" fill="none" stroke="#fff" stroke-width="1.3"/>
<path d="M1092.1 535.7 C1096 535.2 1105.5 533.1 1115.6 532.4 C1125.7 531.7 1142.3 531.2 1152.6 531.4 C1162.9 531.6 1168.1 530.4 1177.6 533.4 C1187.1 536.4 1196.8 544.2 1209.6 549.3 C1222.4 554.4 1238.1 559.3 1254.6 564.1 C1271.1 568.9 1291.4 572.1 1308.6 577.9 C1325.8 583.7 1341.8 591.2 1357.6 598.7 C1373.4 606.2 1395.9 618.9 1403.6 622.9" fill="none" stroke="#fff" stroke-width="1.3"/>
<text transform="translate(851.6 439.9) scale(1.1 1)" class="cw" text-anchor="middle">24</text>
<text transform="translate(998.6 466.9) scale(1.1 1)" class="cw" text-anchor="middle">26</text>
<text transform="translate(1075.6 541.9) scale(1.1 1)" class="cw" text-anchor="middle">27</text>
<text transform="translate(1259.6 464.4) scale(1.1 1)" class="cw" text-anchor="middle">25</text>
<text transform="translate(1107.6 436.9) scale(1.1 1)" class="cw" text-anchor="middle">23</text>
<text transform="translate(1390.6 446.9) scale(1.1 1)" class="cw" text-anchor="middle">23</text>
</g>
<path d="M1168.2 677.9 L1254.4 590.1 L1377.4 677.9 Z" fill="#333"/>
<g clip-path="url(#clip3)">
<circle cx="839.8" cy="428.4" r="2.4" fill="#333"/>
<circle cx="839.8" cy="445.4" r="2.4" fill="#333"/>
<circle cx="839.8" cy="457.9" r="2.4" fill="#333"/>
<circle cx="839.8" cy="478.9" r="2.4" fill="#333"/>
<circle cx="839.8" cy="494.9" r="2.4" fill="#333"/>
<circle cx="839.8" cy="511.7" r="2.4" fill="#333"/>
<circle cx="839.8" cy="578.2" r="2.4" fill="#333"/>
<circle cx="839.8" cy="642.9" r="2.4" fill="#333"/>
<circle cx="907.2" cy="428.4" r="2.4" fill="#333"/>
<circle cx="907.2" cy="442.4" r="2.4" fill="#333"/>
<circle cx="907.2" cy="457.4" r="2.4" fill="#333"/>
<circle cx="907.2" cy="470.2" r="2.4" fill="#333"/>
<circle cx="907.2" cy="494.9" r="2.4" fill="#333"/>
<circle cx="907.2" cy="503.4" r="2.4" fill="#333"/>
<circle cx="907.2" cy="511.7" r="2.4" fill="#333"/>
<circle cx="907.2" cy="520.4" r="2.4" fill="#333"/>
<circle cx="907.2" cy="561.7" r="2.4" fill="#333"/>
<circle cx="907.2" cy="594.5" r="2.4" fill="#333"/>
<circle cx="991.6" cy="428.4" r="2.4" fill="#333"/>
<circle cx="991.6" cy="436.9" r="2.4" fill="#333"/>
<circle cx="991.6" cy="452.2" r="2.4" fill="#333"/>
<circle cx="991.6" cy="461.6" r="2.4" fill="#333"/>
<circle cx="991.6" cy="494.9" r="2.4" fill="#333"/>
<circle cx="991.6" cy="511.7" r="2.4" fill="#333"/>
<circle cx="991.6" cy="528.8" r="2.4" fill="#333"/>
<circle cx="991.6" cy="544.9" r="2.4" fill="#333"/>
<circle cx="991.6" cy="578.4" r="2.4" fill="#333"/>
<circle cx="991.6" cy="635.8" r="2.4" fill="#333"/>
<circle cx="1089.7" cy="428.4" r="2.4" fill="#333"/>
<circle cx="1089.7" cy="440.6" r="2.4" fill="#333"/>
<circle cx="1089.7" cy="447.3" r="2.4" fill="#333"/>
<circle cx="1089.7" cy="454.2" r="2.4" fill="#333"/>
<circle cx="1089.7" cy="470.2" r="2.4" fill="#333"/>
<circle cx="1089.7" cy="486.8" r="2.4" fill="#333"/>
<circle cx="1089.7" cy="511.7" r="2.4" fill="#333"/>
<circle cx="1089.7" cy="528.8" r="2.4" fill="#333"/>
<circle cx="1089.7" cy="544.9" r="2.4" fill="#333"/>
<circle cx="1089.7" cy="594.5" r="2.4" fill="#333"/>
<circle cx="1167.6" cy="428.4" r="2.4" fill="#333"/>
<circle cx="1167.6" cy="445.1" r="2.4" fill="#333"/>
<circle cx="1167.6" cy="453.7" r="2.4" fill="#333"/>
<circle cx="1167.6" cy="461.9" r="2.4" fill="#333"/>
<circle cx="1167.6" cy="478.9" r="2.4" fill="#333"/>
<circle cx="1167.6" cy="494.9" r="2.4" fill="#333"/>
<circle cx="1167.6" cy="511.7" r="2.4" fill="#333"/>
<circle cx="1167.6" cy="544.9" r="2.4" fill="#333"/>
<circle cx="1167.6" cy="565.9" r="2.4" fill="#333"/>
<circle cx="1167.6" cy="594.5" r="2.4" fill="#333"/>
<circle cx="1254.3" cy="428.4" r="2.4" fill="#333"/>
<circle cx="1254.3" cy="441.1" r="2.4" fill="#333"/>
<circle cx="1254.3" cy="453.7" r="2.4" fill="#333"/>
<circle cx="1254.3" cy="461.9" r="2.4" fill="#333"/>
<circle cx="1254.3" cy="470.2" r="2.4" fill="#333"/>
<circle cx="1254.3" cy="486.8" r="2.4" fill="#333"/>
<circle cx="1254.3" cy="511.7" r="2.4" fill="#333"/>
<circle cx="1254.3" cy="544.9" r="2.4" fill="#333"/>
<circle cx="1254.3" cy="582.2" r="2.4" fill="#333"/>
<circle cx="1378.3" cy="428.4" r="2.4" fill="#333"/>
<circle cx="1378.3" cy="449.3" r="2.4" fill="#333"/>
<circle cx="1378.3" cy="466.3" r="2.4" fill="#333"/>
<circle cx="1378.3" cy="474.7" r="2.4" fill="#333"/>
<circle cx="1378.3" cy="490" r="2.4" fill="#333"/>
<circle cx="1378.3" cy="511.7" r="2.4" fill="#333"/>
<circle cx="1378.3" cy="544.9" r="2.4" fill="#333"/>
<circle cx="1378.3" cy="586.4" r="2.4" fill="#333"/>
<circle cx="1378.3" cy="661.2" r="2.4" fill="#333"/>
</g>
<path d="M831.4 647.6 L855.6 647.6 L903.6 677.4 L831.4 677.4 Z" fill="#3a3a3a"/><rect x="835.4" y="642" width="221.4" height="30.3" fill="#000"/><text x="840.2" y="664.1" class="ttl" style="font-size:19.8px" textLength="214.4" lengthAdjust="spacingAndGlyphs">NO<tspan font-size="11.5" dy="3">2</tspan><tspan font-size="11.5" dy="-10">–</tspan><tspan dy="7">+NO</tspan><tspan font-size="11.5" dy="3">3</tspan><tspan font-size="11.5" dy="-10">–</tspan><tspan dy="7"> [µmol kg</tspan><tspan font-size="11.5" dy="-8">–1</tspan><tspan dy="8">]</tspan></text>
<rect x="831.4" y="428.4" width="568" height="249" fill="none" stroke="#111" stroke-width="1.4"/>
<path d="M831.4 428.4 h-6" stroke="#111" stroke-width="1.3"/>
<text transform="translate(817.1 433.7) scale(1.07 1)" class="tk" text-anchor="end">0</text>
<path d="M831.4 469.9 h-6" stroke="#111" stroke-width="1.3"/>
<text transform="translate(817.1 475.2) scale(1.07 1)" class="tk" text-anchor="end">50</text>
<path d="M831.4 511.4 h-6" stroke="#111" stroke-width="1.3"/>
<text transform="translate(817.1 516.7) scale(1.07 1)" class="tk" text-anchor="end">100</text>
<path d="M831.4 552.9 h-6" stroke="#111" stroke-width="1.3"/>
<text transform="translate(817.1 558.2) scale(1.07 1)" class="tk" text-anchor="end">150</text>
<path d="M831.4 594.4 h-6" stroke="#111" stroke-width="1.3"/>
<text transform="translate(817.1 599.7) scale(1.07 1)" class="tk" text-anchor="end">200</text>
<path d="M831.4 635.9 h-6" stroke="#111" stroke-width="1.3"/>
<text transform="translate(817.1 641.2) scale(1.07 1)" class="tk" text-anchor="end">250</text>
<path d="M831.4 677.4 h-6" stroke="#111" stroke-width="1.3"/>
<text transform="translate(817.1 682.7) scale(1.07 1)" class="tk" text-anchor="end">300</text>
<path d="M831.4 677.4 v6" stroke="#111" stroke-width="1.2"/>
<text transform="translate(830.9 704.2) scale(1.05 1)" class="tk" text-anchor="middle">0</text>
<path d="M901.1 677.4 v5" stroke="#111" stroke-width="1.2"/>
<path d="M970.8 677.4 v6" stroke="#111" stroke-width="1.2"/>
<text transform="translate(970.3 704.2) scale(1.05 1)" class="tk" text-anchor="middle">200</text>
<path d="M1040.5 677.4 v5" stroke="#111" stroke-width="1.2"/>
<path d="M1110.2 677.4 v6" stroke="#111" stroke-width="1.2"/>
<text transform="translate(1109.7 704.2) scale(1.05 1)" class="tk" text-anchor="middle">400</text>
<path d="M1179.9 677.4 v5" stroke="#111" stroke-width="1.2"/>
<path d="M1249.6 677.4 v6" stroke="#111" stroke-width="1.2"/>
<text transform="translate(1249.1 704.2) scale(1.05 1)" class="tk" text-anchor="middle">600</text>
<path d="M1319.3 677.4 v5" stroke="#111" stroke-width="1.2"/>
<path d="M1389 677.4 v6" stroke="#111" stroke-width="1.2"/>
<text transform="translate(1388.5 704.2) scale(1.05 1)" class="tk" text-anchor="middle">800</text>
<text x="836.6" y="423.4" class="st" text-anchor="middle">32</text>
<text x="905.7" y="423.4" class="st" text-anchor="middle">28</text>
<text x="988.7" y="423.4" class="st" text-anchor="middle">27</text>
<text x="1085.8" y="423.4" class="st" text-anchor="middle">26</text>
<text x="1164.7" y="423.4" class="st" text-anchor="middle">25</text>
<text x="1250.6" y="423.4" class="st" text-anchor="middle">24</text>
<text x="1373" y="423.4" class="st" text-anchor="middle">15</text>
<text transform="translate(754 409.9) scale(1 1.08)" class="pl">D</text>
<text transform="translate(771.1 552.9) rotate(-90) scale(1.03 1)" class="ax" text-anchor="middle">Depth [m]</text>
<defs>
<linearGradient id="cbg1_1417_428" x1="0" y1="0" x2="0" y2="1"><stop offset="0" stop-color="#FDB68A"/><stop offset="0.2" stop-color="#FA9E7C"/><stop offset="0.3" stop-color="#F8866F"/><stop offset="0.5" stop-color="#F47266"/><stop offset="0.7" stop-color="#EE5A5E"/><stop offset="0.8" stop-color="#E8404F"/><stop offset="1" stop-color="#E2203F"/></linearGradient>
<linearGradient id="cbg4_1417_428" x1="0" y1="0" x2="0" y2="1"><stop offset="0" stop-color="#FB2A00"/><stop offset="0.1" stop-color="#E84A00"/><stop offset="0.3" stop-color="#DD6600"/><stop offset="0.4" stop-color="#F08000"/><stop offset="0.6" stop-color="#FF9500"/><stop offset="0.7" stop-color="#FFA500"/><stop offset="0.9" stop-color="#FDB515"/><stop offset="1" stop-color="#FEC31A"/></linearGradient>
<linearGradient id="cbg6_1417_428" x1="0" y1="0" x2="0" y2="1"><stop offset="0" stop-color="#6BC853"/><stop offset="1" stop-color="#5CC84A"/></linearGradient>
<linearGradient id="cbg17_1417_428" x1="0" y1="0" x2="0" y2="1"><stop offset="0" stop-color="#DE46D6"/><stop offset="1" stop-color="#EC70EC"/></linearGradient>
</defs>
<rect x="1417.8" y="428.4" width="24.6" height="6.8" fill="#FDB68A"/>
<rect x="1417.8" y="434.6" width="24.6" height="25.5" fill="url(#cbg1_1417_428)"/>
<rect x="1417.8" y="459.5" width="24.6" height="11.1" fill="#D6062A"/>
<rect x="1417.8" y="470" width="24.6" height="4.1" fill="#FB2A00"/>
<rect x="1417.8" y="473.5" width="24.6" height="26" fill="url(#cbg4_1417_428)"/>
<rect x="1417.8" y="498.9" width="24.6" height="33.6" fill="#FEC31A"/>
<rect x="1417.8" y="531.9" width="24.6" height="11.6" fill="url(#cbg6_1417_428)"/>
<rect x="1417.8" y="542.9" width="24.6" height="7.8" fill="#40CC3A"/>
<rect x="1417.8" y="550.2" width="24.6" height="14.5" fill="#22E022"/>
<rect x="1417.8" y="564.1" width="24.6" height="20.5" fill="#0CC84A"/>
<rect x="1417.8" y="584" width="24.6" height="19.5" fill="#00EBA3"/>
<rect x="1417.8" y="602.9" width="24.6" height="8.6" fill="#42ABF6"/>
<rect x="1417.8" y="610.9" width="24.6" height="8.6" fill="#3A9AF0"/>
<rect x="1417.8" y="618.9" width="24.6" height="10.8" fill="#2F88E8"/>
<rect x="1417.8" y="629.1" width="24.6" height="19.5" fill="#5353F2"/>
<rect x="1417.8" y="648" width="24.6" height="17.3" fill="#3E3EF8"/>
<rect x="1417.8" y="664.7" width="24.6" height="5.8" fill="#9E86EE"/>
<rect x="1417.8" y="669.9" width="24.6" height="8.1" fill="url(#cbg17_1417_428)"/>
<path d="M1421.3 429 L1430.1 424.6 L1438.9 429 Z" fill="#FDB68A"/>
<path d="M1421.3 428.6 L1430.1 424.6 L1438.9 428.6" fill="none" stroke="#222" stroke-width="0.8"/>
<path d="M1421.3 676.8 L1430.1 681.6 L1438.9 676.8 Z" fill="#EC78EC"/>
<path d="M1421.3 677.2 L1430.1 681.6 L1438.9 677.2" fill="none" stroke="#222" stroke-width="0.8"/>
<path d="M1417.8 428.4 V677.4 M1442.4 428.4 V677.4" fill="none" stroke="#222" stroke-width="0.9"/>
<path d="M1417.4 428.4 h5 M1442.8 428.4 h-5 M1417.4 677.4 h5 M1442.8 677.4 h-5" stroke="#111" stroke-width="1.6"/>
<text transform="translate(1448.9 433.6) scale(1.1 1)" class="tl">20</text>
<path d="M1417.8 490.6 h5.5 M1442.4 490.6 h-5.5" stroke="#111" stroke-width="1.5"/>
<text transform="translate(1448.9 495.8) scale(1.1 1)" class="tl">15</text>
<path d="M1417.8 552.9 h5.5 M1442.4 552.9 h-5.5" stroke="#111" stroke-width="1.5"/>
<text transform="translate(1448.9 558.1) scale(1.1 1)" class="tl">10</text>
<path d="M1417.8 615.1 h5.5 M1442.4 615.1 h-5.5" stroke="#111" stroke-width="1.5"/>
<text transform="translate(1448.9 620.4) scale(1.1 1)" class="tl">5</text>
<text transform="translate(1448.9 682.6) scale(1.1 1)" class="tl">0</text>
<text transform="translate(1413.9 674.4) rotate(-90)" class="odv">Ocean Data View / DIVA</text>
<clipPath id="clip4"><rect x="85.8" y="784.3" width="568" height="249"/></clipPath>
<g clip-path="url(#clip4)">
<rect x="85.8" y="784.3" width="568" height="249" fill="#D4042A"/>
<path d="M60 779.3 L60 1041.8 C63.3 1041.8 65 1041.8 80 1041.8 C95 1041.8 137.2 1046.8 150 1041.8 C162.8 1036.8 155.3 1020.1 157 1011.8 C158.7 1003.5 158.7 998.5 160 991.8 C161.3 985.1 162.9 978.1 165 971.8 C167.1 965.5 167.5 959.9 172.5 954.2 C177.5 948.4 187.5 939.9 195 937.3 C202.5 934.7 209.9 935.7 217.4 938.5 C224.9 941.3 232.5 948.2 240 954.2 C247.5 960.2 254.9 969.1 262.4 974.4 C269.9 979.6 277.4 983.5 284.9 985.7 C292.4 987.9 299.9 987.8 307.4 987.8 C314.9 987.8 320.6 987.5 330 985.7 C339.4 983.8 352.4 979.3 363.6 976.7 C374.8 974.1 387.9 970.3 397.3 969.9 C406.7 969.5 412.3 970.6 419.8 974.4 C427.3 978.1 436.7 987.2 442.3 992.4 C447.9 997.6 450.6 997.6 453.5 1005.8 C456.4 1014 442.2 1034.1 460 1041.8 C477.8 1049.5 536.7 1051.8 560 1051.8 C583.3 1051.8 588 1045.8 600 1041.8 C612 1037.8 621.7 1030.8 632 1027.8 C642.3 1024.8 653.7 1024.5 662 1023.8 C670.3 1023.1 678.7 1023.8 682 1023.8 L682 779.3 Z" fill="#FB3200"/>
<path d="M60 779.3 L60 1041.8 C63.3 1041.8 66.7 1041.8 80 1041.8 C93.3 1041.8 129.2 1046.8 140 1041.8 C150.8 1036.8 143.3 1023.5 145 1011.8 C146.7 1000.1 148.3 982.6 150 971.8 C151.7 961 152.5 953.1 155 946.8 C157.5 940.5 162.1 937.4 165 933.8 C167.9 930.2 167.5 926.5 172.5 925 C177.5 923.5 187.5 924 195 924.8 C202.5 925.5 209.9 926.1 217.4 929.5 C224.9 932.9 232.5 939.6 240 945.2 C247.5 950.8 254.9 958.3 262.4 963.2 C269.9 968.1 277.4 971.8 284.9 974.4 C292.4 977 299.9 978.5 307.4 978.9 C314.9 979.3 320.6 979 330 976.8 C339.4 974.5 352.4 968.8 363.6 965.4 C374.8 962 386.1 957.1 397.3 956.4 C408.5 955.6 419.8 957.5 431 960.9 C442.2 964.3 456.5 969.9 464.7 976.7 C472.9 983.5 474.1 990.9 480 1001.8 C485.9 1012.6 480 1035.8 500 1041.8 C520 1047.8 578 1041.1 600 1037.8 C622 1034.5 621.7 1025 632 1021.8 C642.3 1018.6 653.7 1019.3 662 1018.8 C670.3 1018.3 678.7 1018.8 682 1018.8 L682 779.3 Z" fill="#F23C00"/>
<path d="M60 779.3 L60 1041.8 C63.3 1041.8 73.3 1041.8 80 1041.8 C86.7 1041.8 95.7 1046.8 100 1041.8 C104.3 1036.8 104.3 1025.1 106 1011.8 C107.7 998.5 108.3 977.6 110 961.8 C111.7 946 112.7 926.5 116 916.8 C119.3 907.1 124.3 906.3 130 903.8 C135.7 901.3 142.9 900.1 150 901.8 C157.1 903.5 165 911.1 172.5 913.8 C180 916.5 187.6 916.5 195 917.8 C202.4 919.1 209.5 918.1 217 921.8 C224.5 925.5 232.5 933.8 240 939.8 C247.5 945.8 254.5 952.8 262 957.8 C269.5 962.8 277.5 967.1 285 969.8 C292.5 972.5 299.5 973.3 307 973.8 C314.5 974.3 320.5 975 330 972.8 C339.5 970.6 352.8 964.5 364 960.8 C375.2 957.1 385.8 952 397 950.8 C408.2 949.6 419.7 950.5 431 953.8 C442.3 957.1 456.8 964.5 465 970.8 C473.2 977.1 474.2 980 480 991.8 C485.8 1003.6 480 1035.1 500 1041.8 C520 1048.5 578 1036 600 1031.8 C622 1027.6 621.7 1019.6 632 1016.8 C642.3 1014 653.7 1015.1 662 1014.8 C670.3 1014.5 678.7 1014.8 682 1014.8 L682 779.3 Z" fill="#E45200"/>
<path d="M60 779.3 L60 885.6 C63.3 885.6 75.7 885.6 80 885.6 C84.3 885.6 74.3 884.7 86 885.6 C97.7 886.5 131.8 887.3 150 891.2 C168.2 895.1 183.8 904.9 195 909.2 C206.2 913.5 209.5 912.7 217 916.8 C224.5 920.9 232.4 928.1 240 934 C247.6 939.9 254.9 946.7 262.4 951.9 C269.9 957.1 277.4 962.4 284.9 965.4 C292.4 968.4 299.9 969.5 307.4 969.9 C314.9 970.3 320.6 970 330 967.8 C339.4 965.5 352.4 960.2 363.6 956.4 C374.8 952.6 386.1 946.8 397.3 945.2 C408.5 943.6 419.8 943.4 431 946.8 C442.2 950.2 456.5 959.6 464.7 965.4 C472.9 971.2 474.1 969.1 480 981.8 C485.9 994.5 480 1033.8 500 1041.8 C520 1049.8 578 1034.3 600 1029.8 C622 1025.3 621.7 1017.6 632 1014.8 C642.3 1012 653.7 1013.1 662 1012.8 C670.3 1012.5 678.7 1012.8 682 1012.8 L682 779.3 Z" fill="#E65200"/>
<path d="M60 779.3 L60 873.8 C63.3 873.8 75.7 873.8 80 873.8 C84.3 873.8 74.3 872.1 86 873.8 C97.7 875.5 131.8 878.8 150 883.8 C168.2 888.8 181.9 898 195 903.8 C208.1 909.6 219.3 913.5 228.7 918.8 C238.1 924.1 243.7 930 251.2 935.8 C258.7 941.6 264.2 949.1 273.6 953.8 C283 958.5 296.1 962.5 307.4 963.8 C318.6 965.1 329.9 964.3 341.1 961.8 C352.3 959.3 363.6 952.8 374.8 948.8 C386 944.8 397.2 938.6 408.5 937.8 C419.8 937 431.1 940.1 442.3 943.8 C453.6 947.5 468.1 954.3 476 959.8 C483.9 965.3 486 968.1 490 976.8 C494 985.5 488.3 1001 500 1011.8 C511.7 1022.6 543.3 1041 560 1041.8 C576.7 1042.6 588 1021.7 600 1016.8 C612 1011.9 621.7 1013 632 1012.3 C642.3 1011.5 653.7 1012.3 662 1012.3 C670.3 1012.3 678.7 1012.3 682 1012.3 L682 779.3 Z" fill="#EA6600"/>
<path d="M60 779.3 L60 866.8 C63.3 866.8 75.7 866.8 80 866.8 C84.3 866.8 74.3 865 86 866.8 C97.7 868.6 131.8 872.1 150 877.8 C168.2 883.5 181.9 894.4 195 900.8 C208.1 907.2 219.3 911 228.7 916.3 C238.1 921.6 243.7 927 251.2 932.8 C258.7 938.5 264.2 946 273.6 950.8 C283 955.5 296.1 960 307.4 961.3 C318.6 962.6 329.9 961.4 341.1 958.8 C352.3 956.2 363.6 949.8 374.8 945.8 C386 941.8 397.2 935.5 408.5 934.8 C419.8 934 431.1 937.6 442.3 941.3 C453.6 945 468.1 951.4 476 956.8 C483.9 962.2 486 964.6 490 973.8 C494 983 488.3 1000.5 500 1011.8 C511.7 1023.1 543.3 1041.5 560 1041.8 C576.7 1042.1 588 1019 600 1013.8 C612 1008.6 621.7 1011.1 632 1010.8 C642.3 1010.5 653.7 1011.6 662 1011.8 C670.3 1012 678.7 1011.8 682 1011.8 L682 779.3 Z" fill="#F58A00"/>
<path d="M78 947.8 C79.7 932.5 85 946.6 88 949.8 C91 953 94 959.8 96 966.8 C98 973.8 99.2 984.3 100 991.8 C100.8 999.3 101 1003.5 101 1011.8 C101 1020.1 103.8 1036.8 100 1041.8 C96.2 1046.8 81.7 1057.5 78 1041.8 C74.3 1026.1 76.3 963.1 78 947.8 Z" fill="#E06000"/>
<path d="M60 779.3 L60 860.8 C63.3 860.8 75.7 860.8 80 860.8 C84.3 860.8 72.5 856.8 86 860.9 C99.5 865 142.8 879.4 161 885.6 C179.2 891.8 183.7 893.3 195 898 C206.3 902.7 219.3 908.4 228.7 913.7 C238.1 918.9 243.7 923.9 251.2 929.5 C258.7 935.1 264.2 942.5 273.6 947.4 C283 952.3 296.1 957.2 307.4 958.7 C318.6 960.2 329.9 959 341.1 956.4 C352.3 953.8 363.6 947 374.8 942.9 C386 938.8 397.2 932.4 408.5 931.7 C419.8 931 431.1 934.8 442.3 938.5 C453.6 942.2 468.1 948.6 476 954.2 C483.9 959.7 486 962.2 490 971.8 C494 981.4 488.3 1000.1 500 1011.8 C511.7 1023.5 543.3 1041.8 560 1041.8 C576.7 1041.8 588 1017.2 600 1011.8 C612 1006.4 621.7 1009.2 632 1009.2 C642.3 1009.2 653.7 1011.4 662 1011.8 C670.3 1012.2 678.7 1011.8 682 1011.8 L682 779.3 Z" fill="#FEC31A"/>
<path d="M60 779.3 L60 842.8 C63.3 842.8 75.7 842.8 80 842.8 C84.3 842.8 72.5 838.3 86 842.8 C99.5 847.3 135.3 861.3 161 869.8 C186.7 878.2 221.2 887.7 240 893.5 C258.8 899.3 262.4 901.3 273.6 904.7 C284.8 908.1 296.2 912.2 307.4 913.7 C318.6 915.2 329.8 914.8 341 913.7 C352.2 912.6 363.6 909.2 374.8 907 C386.1 904.8 397.2 900.6 408.5 900.2 C419.8 899.8 430.4 902.4 442.3 904.7 C454.2 906.9 468.9 909.8 480 913.7 C491.1 917.5 495.2 921.1 509 927.8 C522.8 934.5 545.8 946.6 563 953.8 C580.2 961 600.5 967.5 612 970.8 C623.5 974.1 623.7 972.8 632 973.8 C640.3 974.8 653.7 976.3 662 976.8 C670.3 977.3 678.7 976.8 682 976.8 L682 779.3 Z" fill="#6AC850"/>
<path d="M60 779.3 L60 839.8 C63.3 839.8 75.7 839.8 80 839.8 C84.3 839.8 72.5 835.5 86 839.8 C99.5 844.1 134.3 857.8 161 865.8 C187.7 873.8 216 882.8 246 888.1 C276 893.4 319.5 896.7 341 897.8 C362.5 898.9 361.3 895.8 374.8 894.8 C388.3 893.8 406.1 891 422 891.8 C437.9 892.6 455.5 895.3 470 899.8 C484.5 904.3 493.5 911.5 509 918.8 C524.5 926.1 545.8 937 563 943.8 C580.2 950.6 600.5 956.8 612 959.8 C623.5 962.8 623.7 960.6 632 961.8 C640.3 963 653.7 966 662 966.8 C670.3 967.6 678.7 966.8 682 966.8 L682 779.3 Z" fill="#24E026"/>
<path d="M60 779.3 L60 836.8 C63.3 836.8 75.7 836.8 80 836.8 C84.3 836.8 72.5 832.4 86 836.8 C99.5 841.2 134.3 855.4 161 863.3 C187.7 871.2 216 879.9 246 884.3 C276 888.7 321.2 889.4 341 889.8 C360.8 890.2 351.5 887.5 365 886.8 C378.5 886.1 404.5 884.6 422 885.8 C439.5 887 455.5 889.6 470 893.8 C484.5 898 493.5 904.5 509 910.8 C524.5 917.1 545.8 925.3 563 931.8 C580.2 938.3 600.5 946.5 612 949.8 C623.5 953.1 623.7 950.6 632 951.8 C640.3 953 653.7 956 662 956.8 C670.3 957.6 678.7 956.8 682 956.8 L682 779.3 Z" fill="#10C84A"/>
<path d="M60 779.3 L60 833.8 C63.3 833.8 75.7 833.8 80 833.8 C84.3 833.8 72.4 829.3 86 833.8 C99.6 838.3 134.8 853.1 161.5 860.9 C188.2 868.7 216.1 877 246 880.8 C275.9 884.6 321.2 884 341 883.8 C360.8 883.6 351.7 880.5 365 879.8 C378.3 879.1 403.5 878.5 421 879.8 C438.5 881.1 455.3 884 470 887.8 C484.7 891.6 493.5 897.8 509 902.6 C524.5 907.4 542.4 911.3 563 916.8 C583.6 922.2 616.3 931.5 632.8 935.3 C649.3 939.1 653.8 939 662 939.8 C670.2 940.5 678.7 939.8 682 939.8 L682 779.3 Z" fill="#02EBA3"/>
<path d="M78 790.3 C79.3 790.3 72.1 789.4 86 790.5 C99.9 791.6 134.8 796.3 161.5 796.7 C188.2 797.1 215.6 793.6 246 793 C276.4 792.4 324 792.5 343.8 793 C363.6 793.5 352.1 794.7 365 795.8 C377.9 796.9 403.5 797.1 421 799.8 C438.5 802.5 455.3 807.3 470 811.8 C484.7 816.3 493.5 823.7 509 827 C524.5 830.3 542.4 830.4 563 831.8 C583.6 833.2 616.3 834.2 632.8 835.2 C649.3 836.2 657.1 837.4 662 837.8 L662 901.8 C657.1 901.2 649.3 899.8 632.8 898.5 C616.3 897.2 583.6 895.1 563 893.8 C542.4 892.4 524.5 893.2 509 890.4 C493.5 887.6 484.7 880.6 470 876.8 C455.3 873 438.5 868.3 421 867.8 C403.5 867.3 377.9 870.8 365 873.8 C352.1 876.8 363.6 885.3 343.8 885.6 C324 885.9 276.4 880.7 246 875.8 C215.6 870.9 188.2 864.2 161.5 856 C134.8 847.8 99.9 831.2 86 826.3 C72.1 821.3 79.3 826.3 78 826.3 Z" fill="#42ABF6"/>
<path d="M78 796.3 C79.3 796.4 72.1 795.4 86 796.7 C99.9 798 134.8 803.7 161.5 804.1 C188.2 804.5 215.6 800.4 246 799.2 C276.4 798 324 796.3 343.8 796.7 C363.6 797.1 355.6 800.4 365 801.8 C374.4 803.1 390.7 803.7 400 804.8 C409.3 805.9 413.5 807.4 421 808.6 C428.5 809.8 438.8 809.3 445 811.8 C451.2 814.3 455.7 820.1 458 823.8 C460.3 827.5 458.8 832.1 459 833.8 L455 849.8 C450.8 851.1 439.2 855.8 430 857.8 C420.8 859.8 410 859.8 400 861.8 C390 863.8 379.4 867.1 370 869.8 C360.6 872.5 364.5 878 343.8 878.2 C323.1 878.4 276.4 875.3 246 870.8 C215.6 866.3 188.2 860 161.5 851 C134.8 842 99.9 822.3 86 816.5 C72.1 810.7 79.3 816.3 78 816.3 Z" fill="#2F8AE8"/>
<path d="M513 859.8 C515.5 856.6 522.2 854.5 530 852.8 C537.8 851.1 548.3 850.1 560 849.8 C571.7 849.5 587.9 850.5 600 850.8 C612.1 851.1 622.5 851.3 632.8 851.5 C643.1 851.7 657.1 845.9 662 851.8 C666.9 857.7 666.9 881 662 886.8 C657.1 892.5 643.1 885.8 632.8 886.3 C622.5 886.8 612.1 889.5 600 889.8 C587.9 890 571.7 889.1 560 887.8 C548.3 886.5 537.5 884.5 530 881.8 C522.5 879.1 517.8 875.5 515 871.8 C512.2 868.1 510.5 863 513 859.8 Z" fill="#2F8AE8"/>
<path d="M139.3 817.7 C142.5 815.4 153.4 814.2 160 812.8 C166.6 811.4 164.5 810.1 178.8 809.1 C193.1 808.1 225.4 807.2 246 806.6 C266.6 806 288.8 805.2 302.3 805.4 C315.8 805.6 319.9 805.4 327 807.8 C334.1 810.2 339.5 815.5 345 819.8 C350.5 824.1 355.5 828.5 360 833.8 C364.5 839.1 370 847.1 372 851.8 C374 856.5 374 859.1 372 861.8 C370 864.5 364.7 866.7 360 867.8 C355.3 868.9 353.8 868.5 343.8 868.3 C333.8 868 316.3 866.7 300 866.3 C283.7 865.9 262.1 867.9 246 865.8 C229.9 863.7 214.7 856.8 203.5 853.5 C192.3 850.2 185.8 847.3 178.8 846.1 C171.8 844.9 166.3 847.6 161.5 846.1 C156.7 844.5 153.4 840 150 836.8 C146.6 833.6 142.8 830 141 826.8 C139.2 823.6 136.1 820 139.3 817.7 Z" fill="#5555F2"/>
<path d="M310 823.8 C310.7 820.3 316.2 814.6 322 811.8 C327.8 809 337 807.3 345 806.8 C353 806.3 364.2 806.6 370 808.8 C375.8 811 379 815.3 380 819.8 C381 824.3 381.8 832.6 376 835.8 C370.2 839 354.7 839.3 345 838.8 C335.3 838.3 323.8 835.3 318 832.8 C312.2 830.3 309.3 827.3 310 823.8 Z" fill="#3A9AF0"/>
<path d="M330 821.8 C329.7 820 335.8 817 340 815.8 C344.2 814.6 350.8 814.3 355 814.8 C359.2 815.3 364.2 817 365 818.8 C365.8 820.6 363.8 824.5 360 825.8 C356.2 827.1 347 827.5 342 826.8 C337 826.1 330.3 823.6 330 821.8 Z" fill="#42ABF6"/>

<path d="M191 823.8 C195.2 820.6 208.5 818.5 220 817.8 C231.5 817.1 248.8 817.5 260 819.8 C271.2 822.1 282.8 827.3 287 831.8 C291.2 836.3 289.5 843.3 285 846.8 C280.5 850.3 270.8 852.3 260 852.8 C249.2 853.3 230.8 852.5 220 849.8 C209.2 847.1 199.8 841.1 195 836.8 C190.2 832.5 186.8 827 191 823.8 Z" fill="#4848F6"/>
<path d="M58 779.3 L58 789.8 C61.3 789.8 73.3 789.7 78 789.8 C82.7 789.9 72.1 790.2 86 790.5 C99.9 790.8 134.8 791.9 161.5 791.8 C188.2 791.7 215.6 790 246 789.8 C276.4 789.6 324 789.8 343.8 790.5 C363.6 791.2 352.1 792.9 365 793.8 C377.9 794.7 403.5 795.1 421 795.8 C438.5 796.5 455.3 797 470 797.8 C484.7 798.6 493.5 798.9 509 800.4 C524.5 801.9 542.4 804.4 563 806.8 C583.6 809.2 616.3 813 632.8 814.8 C649.3 816.6 653.8 817.3 662 817.8 C670.2 818.3 678.7 817.8 682 817.8 L682 779.3 Z" fill="#02EBA3"/>
<path d="M58 779.3 L58 787.8 C61.3 787.8 73.3 787.8 78 787.8 C82.7 787.8 72.1 787.6 86 788.1 C99.9 788.5 134.8 790.5 161.5 790.5 C188.2 790.5 215.6 788.3 246 788.1 C276.4 787.9 324 788.7 343.8 789.3 C363.6 789.9 352.1 791 365 791.8 C377.9 792.5 397 792.8 421 793.8 C445 794.8 485.3 796.8 509 797.8 C532.7 798.8 542.4 799.1 563 799.8 C583.6 800.5 616.3 801.1 632.8 801.8 C649.3 802.5 653.8 803.5 662 803.8 C670.2 804.1 678.7 803.8 682 803.8 L682 779.3 Z" fill="#10C84A"/>
<path d="M85.8 1003.5 L110 1003.5 L158 1033.8 L85.8 1033.8 Z" fill="#3a3a3a"/>
<path d="M80 858.8 C81 859.1 81 858.7 86 860.9 C91 863.1 97.4 868.9 110 871.8 C122.6 874.7 145.9 873.4 161.5 878.2 C177.1 883 192.4 895.5 203.5 900.5 C214.6 905.5 220.6 905.4 228 907.9 C235.4 910.4 243.3 912.6 248 915.3 C252.7 917.9 254.7 922.4 256 923.8" fill="none" stroke="#111" stroke-width="0.9"/>
<path d="M272 937.8 C272.5 938.2 270 937.6 275 940 C280 942.4 293.3 949.6 302 952.3 C310.7 955 316.5 957.6 327 956 C337.5 954.4 354.6 947.5 365 942.8 C375.4 938.1 380.2 931.4 389.7 927.6 C399.2 923.8 413.4 920.8 421.8 920.2 C430.2 919.6 433 919.7 440 923.8 C447 927.9 455.7 937.3 463.8 944.9 C471.9 952.5 482.5 962.6 488.5 969.6 C494.5 976.6 498.1 983.9 500 986.8" fill="none" stroke="#111" stroke-width="0.9"/>
<path d="M599.7 1004.2 C609.4 1006.1 648.3 1013.9 658 1015.8" fill="none" stroke="#111" stroke-width="0.9"/>
<path d="M80 836.8 C81 837.1 72.4 835.1 86 838.7 C99.6 842.3 134.8 850.7 161.5 858.5 C188.2 866.3 222.5 878.6 246 885.6 C269.5 892.6 286 897.2 302.3 900.5 C318.6 903.8 332.5 905.8 343.8 905.4 C355.1 905 360.3 900.9 370 898 C379.7 895.1 395.5 890 402 888.1 C408.5 886.2 407.8 887 409 886.8" fill="none" stroke="#111" stroke-width="0.9"/>
<path d="M427 887.3 C428.2 887.4 427.9 885.9 434 888.1 C440.1 890.3 451.3 895.1 463.8 900.5 C476.3 905.9 492.3 913.2 508.8 920.2 C525.3 927.2 541.9 934.7 562.6 942.5 C583.3 950.3 616.9 962.1 632.8 967.2 C648.7 972.2 653.8 971.9 658 972.8" fill="none" stroke="#111" stroke-width="0.9"/>
<path d="M80 814.8 C81 815.1 72.4 811.3 86 816.5 C99.6 821.7 134.8 837.5 161.5 846.1 C188.2 854.7 218.4 863.3 246 868.3 C273.6 873.2 306.3 874.5 327 875.8 C347.7 877 358.7 877.8 370 875.8 C381.3 873.8 386.5 866.6 395 863.8 C403.5 861 411.8 861.1 421 858.8 C430.2 856.5 443.5 853.5 450 849.8 C456.5 846.1 459.2 841.8 460 836.8 C460.8 831.8 461.5 824.6 455 819.8 C448.5 815 433.5 811 421 807.8 C408.5 804.6 390.7 802.5 380 800.8 C369.3 799.1 360.8 798.3 357 797.8" fill="none" stroke="#111" stroke-width="0.9"/>
<path d="M80 802.8 C81 802.8 72.4 802.9 86 802.9 C99.6 802.9 134.8 803 161.5 802.8 C188.2 802.6 218.4 802.8 246 801.8 C273.6 800.8 312.8 797.6 327 796.7 C341.2 795.8 330.3 796.4 331 796.3" fill="none" stroke="#111" stroke-width="0.9"/>
<path d="M640 869.8 C636.7 870.1 630 871.3 620 871.8 C610 872.3 590.7 873.3 580 872.8 C569.3 872.3 559 870.6 556 868.8 C553 867 554.7 863.6 562 861.8 C569.3 860 587 858.5 600 857.8 C613 857.1 630.7 857.5 640 857.8 C649.3 858.1 653.3 859.5 656 859.8" fill="none" stroke="#111" stroke-width="0.9"/>
<path d="M520 784.8 C524.2 785.1 538 786.1 545 786.8 C552 787.5 559.2 788.5 562 788.8" fill="none" stroke="#111" stroke-width="0.9"/>
<path d="M588 786.8 C595 786.4 623 784.7 630 784.3" fill="none" stroke="#111" stroke-width="0.9"/>
<text transform="translate(263 935.8) scale(1.1 1)" class="cb" text-anchor="middle">0</text>
<text transform="translate(587 1006.8) scale(1.1 1)" class="cb" text-anchor="middle">0</text>
<text transform="translate(417 892.8) scale(1.1 1)" class="cb" text-anchor="middle">-5</text>
<text transform="translate(575 794.3) scale(1.1 1)" class="cb" text-anchor="middle">-5</text>
<text transform="translate(345 800.3) scale(1.1 1)" class="cb" text-anchor="middle">-10</text>
<text transform="translate(651 876.8) scale(1.1 1)" class="cb" text-anchor="middle">-1</text>
<path d="M215 785.4 C220.2 785.8 231.5 787.5 246 787.8 C260.5 788.1 284.7 787.2 302 787.1 C319.3 787 342 787.3 350 787.3" fill="none" stroke="#fff" stroke-width="1.2"/>
<path d="M374 789.1 C380 789 399.2 789 410 788.8 C420.8 788.6 428 788.6 439 787.8 C450 787 469.8 784.7 476 784.1" fill="none" stroke="#fff" stroke-width="1.2"/>
<path d="M560 784.3 C566.7 784.9 588.3 786.3 600 787.8 C611.7 789.3 625 792.4 630 793.3" fill="none" stroke="#fff" stroke-width="1.2"/>
<path d="M80 790.8 C81.3 790.8 86.7 790.8 88 790.8" fill="none" stroke="#fff" stroke-width="1.2"/>
<path d="M122 790.3 C129.3 790.3 153 790 166 790.3 C179 790.5 190.2 791 200 791.8 C209.8 792.6 217.3 794.6 225 795.3 C232.7 796 233.5 795.5 246 795.8 C258.5 796 279.3 796.8 300 796.8 C320.7 796.8 349.7 795.2 370 795.8 C390.3 796.4 398.8 799.3 422 800.2 C445.2 801.1 477.3 800.6 509 801 C540.7 801.4 587.2 800.8 612 802.7 C636.8 804.6 650.3 810.7 658 812.3" fill="none" stroke="#eee" stroke-width="1.2"/>
<path d="M80 808.3 C81 808.2 72.5 808.8 86 807.6 C99.5 806.3 137.8 802.1 161 800.8 C184.2 799.5 201.8 799.8 225 799.6 C248.2 799.4 280.2 799.8 300 799.8 C319.8 799.8 333.2 799.5 344 799.8 C354.8 800.1 352 798.6 365 801.4 C378 804.1 400.7 813.8 422 816.3 C443.3 818.8 481.2 816.3 493 816.3" fill="none" stroke="#fff" stroke-width="1.2"/>
<path d="M535 817.3 C547.8 818.8 591.5 823 612 826.1 C632.5 829.2 650.3 834.2 658 835.8" fill="none" stroke="#fff" stroke-width="1.2"/>
<path d="M80 825 C81 825 72.5 824.7 86 824.9 C99.5 825.1 142 826.3 161 826.1 C180 825.9 187.5 824.8 200 823.8 C212.5 822.8 230 820.9 236 820.3" fill="none" stroke="#fff" stroke-width="1.3"/>
<path d="M270 818.8 C275.3 819.2 294.2 819.1 302 821.2 C309.8 823.2 312.8 827.8 317 831.1 C321.2 834.4 321.2 837.3 327 841 C332.8 844.7 344.5 850.8 351.7 853.3 C358.9 855.8 358.3 855.4 370 855.8 C381.7 856.2 405.3 855 422 855.8 C438.7 856.6 455.5 858.8 470 860.8 C484.5 862.8 493.5 864.8 509 868.1 C524.5 871.4 538.2 875.4 563 880.5 C587.8 885.6 642.2 895.8 658 898.8" fill="none" stroke="#fff" stroke-width="1.3"/>
<path d="M80 843.6 C81 843.8 72.5 842 86 844.7 C99.5 847.3 137.8 854.8 161 859.5 C184.2 864.2 208.5 869.5 225 873.1 C241.5 876.7 245.2 878.3 260 881.2 C274.8 884.1 305 889 314 890.6" fill="none" stroke="#fff" stroke-width="1.3"/>
<path d="M346.5 891.6 C350.4 891 359.9 889 370 888.3 C380.1 887.6 396.7 887.1 407 887.3 C417.3 887.5 422.5 886.3 432 889.3 C441.5 892.3 451.2 900.1 464 905.2 C476.8 910.3 492.5 915.2 509 920 C525.5 924.8 545.8 928 563 933.8 C580.2 939.6 596.2 947.1 612 954.6 C627.8 962.1 650.3 974.8 658 978.8" fill="none" stroke="#fff" stroke-width="1.3"/>
<text transform="translate(106 795.8) scale(1.1 1)" class="cw" text-anchor="middle">24</text>
<text transform="translate(253 822.8) scale(1.1 1)" class="cw" text-anchor="middle">26</text>
<text transform="translate(330 897.8) scale(1.1 1)" class="cw" text-anchor="middle">27</text>
<text transform="translate(514 820.3) scale(1.1 1)" class="cw" text-anchor="middle">25</text>
<text transform="translate(362 792.8) scale(1.1 1)" class="cw" text-anchor="middle">23</text>
<text transform="translate(645 802.8) scale(1.1 1)" class="cw" text-anchor="middle">23</text>
</g>
<path d="M422.6 1033.8 L508.8 946 L631.8 1033.8 Z" fill="#333"/>
<g clip-path="url(#clip4)">
<circle cx="94.2" cy="784.3" r="2.4" fill="#333"/>
<circle cx="94.2" cy="801.3" r="2.4" fill="#333"/>
<circle cx="94.2" cy="813.8" r="2.4" fill="#333"/>
<circle cx="94.2" cy="834.8" r="2.4" fill="#333"/>
<circle cx="94.2" cy="850.8" r="2.4" fill="#333"/>
<circle cx="94.2" cy="867.6" r="2.4" fill="#333"/>
<circle cx="94.2" cy="934.1" r="2.4" fill="#333"/>
<circle cx="94.2" cy="998.8" r="2.4" fill="#333"/>
<circle cx="161.6" cy="784.3" r="2.4" fill="#333"/>
<circle cx="161.6" cy="798.3" r="2.4" fill="#333"/>
<circle cx="161.6" cy="813.3" r="2.4" fill="#333"/>
<circle cx="161.6" cy="826.1" r="2.4" fill="#333"/>
<circle cx="161.6" cy="850.8" r="2.4" fill="#333"/>
<circle cx="161.6" cy="859.3" r="2.4" fill="#333"/>
<circle cx="161.6" cy="867.6" r="2.4" fill="#333"/>
<circle cx="161.6" cy="876.3" r="2.4" fill="#333"/>
<circle cx="161.6" cy="917.6" r="2.4" fill="#333"/>
<circle cx="161.6" cy="950.4" r="2.4" fill="#333"/>
<circle cx="246" cy="784.3" r="2.4" fill="#333"/>
<circle cx="246" cy="792.8" r="2.4" fill="#333"/>
<circle cx="246" cy="808.1" r="2.4" fill="#333"/>
<circle cx="246" cy="817.5" r="2.4" fill="#333"/>
<circle cx="246" cy="850.8" r="2.4" fill="#333"/>
<circle cx="246" cy="867.6" r="2.4" fill="#333"/>
<circle cx="246" cy="884.7" r="2.4" fill="#333"/>
<circle cx="246" cy="900.8" r="2.4" fill="#333"/>
<circle cx="246" cy="934.3" r="2.4" fill="#333"/>
<circle cx="246" cy="991.7" r="2.4" fill="#333"/>
<circle cx="344.1" cy="784.3" r="2.4" fill="#333"/>
<circle cx="344.1" cy="796.5" r="2.4" fill="#333"/>
<circle cx="344.1" cy="803.2" r="2.4" fill="#333"/>
<circle cx="344.1" cy="810.1" r="2.4" fill="#333"/>
<circle cx="344.1" cy="826.1" r="2.4" fill="#333"/>
<circle cx="344.1" cy="842.7" r="2.4" fill="#333"/>
<circle cx="344.1" cy="867.6" r="2.4" fill="#333"/>
<circle cx="344.1" cy="884.7" r="2.4" fill="#333"/>
<circle cx="344.1" cy="900.8" r="2.4" fill="#333"/>
<circle cx="344.1" cy="950.4" r="2.4" fill="#333"/>
<circle cx="422" cy="784.3" r="2.4" fill="#333"/>
<circle cx="422" cy="801" r="2.4" fill="#333"/>
<circle cx="422" cy="809.6" r="2.4" fill="#333"/>
<circle cx="422" cy="817.8" r="2.4" fill="#333"/>
<circle cx="422" cy="834.8" r="2.4" fill="#333"/>
<circle cx="422" cy="850.8" r="2.4" fill="#333"/>
<circle cx="422" cy="867.6" r="2.4" fill="#333"/>
<circle cx="422" cy="900.8" r="2.4" fill="#333"/>
<circle cx="422" cy="921.8" r="2.4" fill="#333"/>
<circle cx="422" cy="950.4" r="2.4" fill="#333"/>
<circle cx="508.7" cy="784.3" r="2.4" fill="#333"/>
<circle cx="508.7" cy="797" r="2.4" fill="#333"/>
<circle cx="508.7" cy="809.6" r="2.4" fill="#333"/>
<circle cx="508.7" cy="817.8" r="2.4" fill="#333"/>
<circle cx="508.7" cy="826.1" r="2.4" fill="#333"/>
<circle cx="508.7" cy="842.7" r="2.4" fill="#333"/>
<circle cx="508.7" cy="867.6" r="2.4" fill="#333"/>
<circle cx="508.7" cy="900.8" r="2.4" fill="#333"/>
<circle cx="508.7" cy="938.1" r="2.4" fill="#333"/>
<circle cx="632.7" cy="784.3" r="2.4" fill="#333"/>
<circle cx="632.7" cy="805.2" r="2.4" fill="#333"/>
<circle cx="632.7" cy="822.2" r="2.4" fill="#333"/>
<circle cx="632.7" cy="830.6" r="2.4" fill="#333"/>
<circle cx="632.7" cy="845.9" r="2.4" fill="#333"/>
<circle cx="632.7" cy="867.6" r="2.4" fill="#333"/>
<circle cx="632.7" cy="900.8" r="2.4" fill="#333"/>
<circle cx="632.7" cy="942.3" r="2.4" fill="#333"/>
<circle cx="632.7" cy="1017.1" r="2.4" fill="#333"/>
</g>
<path d="M85.8 1003.5 L110 1003.5 L158 1033.3 L85.8 1033.3 Z" fill="#3a3a3a"/><rect x="92.2" y="998.7" width="144.7" height="30.9" fill="#000"/><text x="95.9" y="1021.3" class="ttl" style="font-size:20.5px" textLength="138" lengthAdjust="spacingAndGlyphs">N* [µmol kg<tspan font-size="11.5" dy="-8">–1</tspan><tspan dy="8">]</tspan></text>
<rect x="85.8" y="784.3" width="568" height="249" fill="none" stroke="#111" stroke-width="1.4"/>
<path d="M85.8 784.3 h-6" stroke="#111" stroke-width="1.3"/>
<text transform="translate(71.5 789.6) scale(1.07 1)" class="tk" text-anchor="end">0</text>
<path d="M85.8 825.8 h-6" stroke="#111" stroke-width="1.3"/>
<text transform="translate(71.5 831.1) scale(1.07 1)" class="tk" text-anchor="end">50</text>
<path d="M85.8 867.3 h-6" stroke="#111" stroke-width="1.3"/>
<text transform="translate(71.5 872.6) scale(1.07 1)" class="tk" text-anchor="end">100</text>
<path d="M85.8 908.8 h-6" stroke="#111" stroke-width="1.3"/>
<text transform="translate(71.5 914.1) scale(1.07 1)" class="tk" text-anchor="end">150</text>
<path d="M85.8 950.3 h-6" stroke="#111" stroke-width="1.3"/>
<text transform="translate(71.5 955.6) scale(1.07 1)" class="tk" text-anchor="end">200</text>
<path d="M85.8 991.8 h-6" stroke="#111" stroke-width="1.3"/>
<text transform="translate(71.5 997.1) scale(1.07 1)" class="tk" text-anchor="end">250</text>
<path d="M85.8 1033.3 h-6" stroke="#111" stroke-width="1.3"/>
<text transform="translate(71.5 1038.6) scale(1.07 1)" class="tk" text-anchor="end">300</text>
<path d="M85.8 1033.3 v6" stroke="#111" stroke-width="1.2"/>
<text transform="translate(85.3 1060.1) scale(1.05 1)" class="tk" text-anchor="middle">0</text>
<path d="M155.5 1033.3 v5" stroke="#111" stroke-width="1.2"/>
<path d="M225.2 1033.3 v6" stroke="#111" stroke-width="1.2"/>
<text transform="translate(224.7 1060.1) scale(1.05 1)" class="tk" text-anchor="middle">200</text>
<path d="M294.9 1033.3 v5" stroke="#111" stroke-width="1.2"/>
<path d="M364.6 1033.3 v6" stroke="#111" stroke-width="1.2"/>
<text transform="translate(364.1 1060.1) scale(1.05 1)" class="tk" text-anchor="middle">400</text>
<path d="M434.3 1033.3 v5" stroke="#111" stroke-width="1.2"/>
<path d="M504 1033.3 v6" stroke="#111" stroke-width="1.2"/>
<text transform="translate(503.5 1060.1) scale(1.05 1)" class="tk" text-anchor="middle">600</text>
<path d="M573.7 1033.3 v5" stroke="#111" stroke-width="1.2"/>
<path d="M643.4 1033.3 v6" stroke="#111" stroke-width="1.2"/>
<text transform="translate(642.9 1060.1) scale(1.05 1)" class="tk" text-anchor="middle">800</text>
<text x="91" y="779.3" class="st" text-anchor="middle">32</text>
<text x="160.1" y="779.3" class="st" text-anchor="middle">28</text>
<text x="243.1" y="779.3" class="st" text-anchor="middle">27</text>
<text x="340.2" y="779.3" class="st" text-anchor="middle">26</text>
<text x="419.1" y="779.3" class="st" text-anchor="middle">25</text>
<text x="505" y="779.3" class="st" text-anchor="middle">24</text>
<text x="627.4" y="779.3" class="st" text-anchor="middle">15</text>
<text transform="translate(0 755.6) scale(1 1.08)" class="pl">E</text>
<text transform="translate(25.5 908.8) rotate(-90) scale(1.03 1)" class="ax" text-anchor="middle">Depth [m]</text>
<defs>
<linearGradient id="cbg1_672_784" x1="0" y1="0" x2="0" y2="1"><stop offset="0" stop-color="#FDB68A"/><stop offset="0.2" stop-color="#FA9E7C"/><stop offset="0.3" stop-color="#F8866F"/><stop offset="0.5" stop-color="#F47266"/><stop offset="0.7" stop-color="#EE5A5E"/><stop offset="0.8" stop-color="#E8404F"/><stop offset="1" stop-color="#E2203F"/></linearGradient>
<linearGradient id="cbg4_672_784" x1="0" y1="0" x2="0" y2="1"><stop offset="0" stop-color="#FB2A00"/><stop offset="0.1" stop-color="#E84A00"/><stop offset="0.3" stop-color="#DD6600"/><stop offset="0.4" stop-color="#F08000"/><stop offset="0.6" stop-color="#FF9500"/><stop offset="0.7" stop-color="#FFA500"/><stop offset="0.9" stop-color="#FDB515"/><stop offset="1" stop-color="#FEC31A"/></linearGradient>
<linearGradient id="cbg6_672_784" x1="0" y1="0" x2="0" y2="1"><stop offset="0" stop-color="#6BC853"/><stop offset="1" stop-color="#5CC84A"/></linearGradient>
<linearGradient id="cbg17_672_784" x1="0" y1="0" x2="0" y2="1"><stop offset="0" stop-color="#DE46D6"/><stop offset="1" stop-color="#EC70EC"/></linearGradient>
</defs>
<rect x="672.2" y="784.3" width="24.6" height="6.8" fill="#FDB68A"/>
<rect x="672.2" y="790.5" width="24.6" height="25.5" fill="url(#cbg1_672_784)"/>
<rect x="672.2" y="815.4" width="24.6" height="11.1" fill="#D6062A"/>
<rect x="672.2" y="825.9" width="24.6" height="4.1" fill="#FB2A00"/>
<rect x="672.2" y="829.4" width="24.6" height="26" fill="url(#cbg4_672_784)"/>
<rect x="672.2" y="854.8" width="24.6" height="33.6" fill="#FEC31A"/>
<rect x="672.2" y="887.8" width="24.6" height="11.6" fill="url(#cbg6_672_784)"/>
<rect x="672.2" y="898.8" width="24.6" height="7.8" fill="#40CC3A"/>
<rect x="672.2" y="906.1" width="24.6" height="14.5" fill="#22E022"/>
<rect x="672.2" y="920" width="24.6" height="20.5" fill="#0CC84A"/>
<rect x="672.2" y="939.9" width="24.6" height="19.5" fill="#00EBA3"/>
<rect x="672.2" y="958.8" width="24.6" height="8.6" fill="#42ABF6"/>
<rect x="672.2" y="966.8" width="24.6" height="8.6" fill="#3A9AF0"/>
<rect x="672.2" y="974.8" width="24.6" height="10.8" fill="#2F88E8"/>
<rect x="672.2" y="985" width="24.6" height="19.5" fill="#5353F2"/>
<rect x="672.2" y="1003.9" width="24.6" height="17.3" fill="#3E3EF8"/>
<rect x="672.2" y="1020.6" width="24.6" height="5.8" fill="#9E86EE"/>
<rect x="672.2" y="1025.8" width="24.6" height="8.1" fill="url(#cbg17_672_784)"/>
<path d="M675.7 784.9 L684.5 780.5 L693.3 784.9 Z" fill="#FDB68A"/>
<path d="M675.7 784.5 L684.5 780.5 L693.3 784.5" fill="none" stroke="#222" stroke-width="0.8"/>
<path d="M675.7 1032.7 L684.5 1037.5 L693.3 1032.7 Z" fill="#EC78EC"/>
<path d="M675.7 1033.1 L684.5 1037.5 L693.3 1033.1" fill="none" stroke="#222" stroke-width="0.8"/>
<path d="M672.2 784.3 V1033.3 M696.8 784.3 V1033.3" fill="none" stroke="#222" stroke-width="0.9"/>
<path d="M671.8 784.3 h5 M697.2 784.3 h-5 M671.8 1033.3 h5 M697.2 1033.3 h-5" stroke="#111" stroke-width="1.6"/>
<text transform="translate(703.3 789.5) scale(1.1 1)" class="tl">5</text>
<path d="M672.2 846.5 h5.5 M696.8 846.5 h-5.5" stroke="#111" stroke-width="1.5"/>
<text transform="translate(703.3 851.8) scale(1.1 1)" class="tl">0</text>
<path d="M672.2 908.8 h5.5 M696.8 908.8 h-5.5" stroke="#111" stroke-width="1.5"/>
<text transform="translate(703.3 914) scale(1.1 1)" class="tl">-5</text>
<path d="M672.2 971 h5.5 M696.8 971 h-5.5" stroke="#111" stroke-width="1.5"/>
<text transform="translate(703.3 976.2) scale(1.1 1)" class="tl">-10</text>
<text transform="translate(703.3 1038.5) scale(1.1 1)" class="tl">-15</text>
<text transform="translate(668.3 1030.3) rotate(-90)" class="odv">Ocean Data View / DIVA</text>
<clipPath id="clip5"><rect x="831.4" y="784.3" width="568" height="249"/></clipPath>
<g clip-path="url(#clip5)">
<rect x="831.4" y="784.3" width="568" height="249" fill="#fff"/>
<clipPath id="clipF"><rect x="831.4" y="784.3" width="568" height="90.3"/></clipPath>
<g clip-path="url(#clipF)">
<rect x="831.4" y="784.3" width="568" height="90.3" fill="#E07CE0"/>
<path d="M803.6 916.8 L803.6 861.8 C806.9 861.8 818.9 861.8 823.6 861.8 C828.3 861.8 817.8 861.1 831.6 861.8 C845.4 862.5 884.3 867.1 906.6 865.8 C928.9 864.5 951.4 856.6 965.6 853.8 C979.8 851 978.3 850 991.6 848.8 C1004.9 847.6 1029.3 847 1045.6 846.8 C1061.9 846.6 1078.8 847.3 1089.6 847.8 C1100.4 848.3 1097.6 848.8 1110.6 849.8 C1123.6 850.8 1150.1 853.5 1167.6 853.8 C1185.1 854.1 1201.1 852.8 1215.6 851.8 C1230.1 850.8 1239.1 848.1 1254.6 847.8 C1270.1 847.5 1291.4 849.1 1308.6 849.8 C1325.8 850.5 1341.1 852.5 1357.6 851.8 C1374.1 851.1 1395.9 846.8 1407.6 845.8 C1419.3 844.8 1424.3 845.8 1427.6 845.8 L1427.6 916.8 Z" fill="#D858D8"/>
<path d="M803.6 779.3 L803.6 791.8 C806.9 791.8 813.3 791.8 823.6 791.8 C833.9 791.8 851.8 792 865.6 791.8 C879.4 791.6 893.3 791.3 906.6 790.8 C919.9 790.3 932.4 789.5 945.6 788.8 C958.8 788.1 972.3 787.3 985.6 786.8 C998.9 786.3 1015.6 786.3 1025.6 785.8 C1035.6 785.3 1038.9 784.1 1045.6 783.8 C1052.3 783.5 1062.3 783.8 1065.6 783.8 L1065.6 779.3 Z" fill="#D858D8"/>
<path d="M875.6 857.8 C878.9 854.5 900.6 850.8 915.6 847.8 C930.6 844.8 950.6 841.5 965.6 839.8 C980.6 838.1 993.9 837.5 1005.6 837.8 C1017.3 838.1 1028.9 840 1035.6 841.8 C1042.3 843.6 1047.3 846.3 1045.6 848.8 C1043.9 851.3 1035.6 854.6 1025.6 856.8 C1015.6 859 1000.6 860.3 985.6 861.8 C970.6 863.3 950.6 864.8 935.6 865.8 C920.6 866.8 905.6 869.1 895.6 867.8 C885.6 866.5 872.3 861.1 875.6 857.8 Z" fill="#E48AE4"/>
<path d="M1195.6 817.8 C1197.3 815.1 1208.9 810.8 1215.6 807.8 C1222.3 804.8 1229.1 802.5 1235.6 799.8 C1242.1 797.1 1249.6 794.1 1254.6 791.8 C1259.6 789.5 1260.4 787.5 1265.6 785.8 C1270.8 784.1 1270.6 782.5 1285.6 781.8 C1300.6 781.1 1341.4 780.1 1355.6 781.8 C1369.8 783.5 1365.6 787.6 1370.6 791.8 C1375.6 796 1379.4 803.1 1385.6 806.8 C1391.8 810.5 1403.9 806.8 1407.6 813.8 C1411.3 820.8 1416.9 842.5 1407.6 848.8 C1398.3 855.1 1367.6 852 1351.6 851.8 C1335.6 851.6 1325 849.5 1311.6 847.8 C1298.2 846.1 1284.8 844.5 1271.4 841.8 C1258 839.1 1242.2 834.8 1231.2 831.8 C1220.2 828.8 1211.5 826.1 1205.6 823.8 C1199.7 821.5 1193.9 820.5 1195.6 817.8 Z" fill="#9E86EE"/>
<path d="M1199 817.8 C1201.5 815.5 1213.7 810.6 1220.6 807.8 C1227.5 805 1234.4 803.1 1240.6 800.8 C1246.8 798.5 1252.6 796.6 1257.6 793.8 C1262.6 791 1254.3 785.8 1270.6 783.8 C1286.9 781.8 1340.1 780.4 1355.6 781.8 C1371.1 783.2 1359.2 787.7 1363.6 792.1 C1368 796.5 1374.6 804.2 1381.9 808.2 C1389.2 812.1 1403.3 809.7 1407.6 815.8 C1411.9 821.9 1416.9 839.4 1407.6 844.8 C1398.3 850.2 1367.6 848.5 1351.6 848.4 C1335.6 848.3 1325 846 1311.6 844.3 C1298.2 842.6 1284.8 841 1271.4 838.3 C1258 835.6 1242.2 831 1231.2 828.3 C1220.2 825.5 1211 823.5 1205.6 821.8 C1200.2 820 1196.5 820.1 1199 817.8 Z" fill="#3E3EF8"/>
<path d="M1215.6 817.8 C1217.3 815.8 1228.9 812.8 1235.6 810.8 C1242.3 808.8 1247.3 807.3 1255.6 805.8 C1263.9 804.3 1273.9 802.5 1285.6 801.8 C1297.3 801.1 1312.3 800.8 1325.6 801.8 C1338.9 802.8 1351.9 804.8 1365.6 807.8 C1379.3 810.8 1400.6 814.8 1407.6 819.8 C1414.6 824.8 1414.6 834.5 1407.6 837.8 C1400.6 841.1 1379.3 839.8 1365.6 839.8 C1351.9 839.8 1338.9 838.8 1325.6 837.8 C1312.3 836.8 1298.1 835.5 1285.6 833.8 C1273.1 832.1 1260.6 829.6 1250.6 827.8 C1240.6 826 1231.4 824.5 1225.6 822.8 C1219.8 821.1 1213.9 819.8 1215.6 817.8 Z" fill="#5555F2"/>
<path d="M1227.6 817.8 C1228.4 815.8 1239.3 812.6 1245.6 810.8 C1251.9 809 1255.6 807.6 1265.6 806.8 C1275.6 806 1292.3 805.5 1305.6 805.8 C1318.9 806.1 1333.9 807.3 1345.6 808.8 C1357.3 810.3 1368.9 813.1 1375.6 814.8 C1382.3 816.5 1386.4 817 1385.6 818.8 C1384.8 820.6 1378.9 824 1370.6 825.8 C1362.3 827.6 1348.1 829.1 1335.6 829.8 C1323.1 830.5 1308.1 830.3 1295.6 829.8 C1283.1 829.3 1269.8 828 1260.6 826.8 C1251.4 825.6 1246.1 824.3 1240.6 822.8 C1235.1 821.3 1226.8 819.8 1227.6 817.8 Z" fill="#2F8AE8"/>
<path d="M1231.2 815.8 C1231.2 813.5 1243.2 810.4 1250.6 808.8 C1258 807.2 1264.8 806.6 1275.6 806.3 C1286.4 806 1303.9 806 1315.6 806.8 C1327.3 807.5 1339.6 809.3 1345.6 810.8 C1351.6 812.3 1351.6 814 1351.6 815.8 C1351.6 817.6 1351.6 820.1 1345.6 821.8 C1339.6 823.5 1327.3 825.1 1315.6 825.8 C1303.9 826.5 1286.4 826.3 1275.6 825.8 C1264.8 825.3 1258 824.5 1250.6 822.8 C1243.2 821.1 1231.2 818.1 1231.2 815.8 Z" fill="#42ABF6"/>
<path d="M1255.3 815.2 C1256.1 813.8 1263.9 811.6 1270.6 810.8 C1277.3 810 1287.8 809.9 1295.6 810.2 C1303.4 810.5 1313.4 811.9 1317.6 812.8 C1321.8 813.7 1321.8 814.6 1320.6 815.8 C1319.4 817 1316.4 819.1 1310.6 819.8 C1304.8 820.5 1293.1 820.3 1285.6 820.2 C1278.1 820.1 1270.6 820.1 1265.6 819.3 C1260.5 818.5 1254.5 816.6 1255.3 815.2 Z" fill="#02EBA3"/>
<path d="M1285.6 812.8 C1286.3 811.9 1293.3 811.3 1297.6 811.3 C1301.9 811.3 1309.9 812 1311.6 812.8 C1313.3 813.6 1310.6 815.6 1307.6 816.3 C1304.6 817 1297.3 817.4 1293.6 816.8 C1289.9 816.2 1284.9 813.7 1285.6 812.8 Z" fill="#10C84A"/>
<path d="M1365.6 781.8 C1361.9 783.1 1380.3 786.8 1385.6 789.8 C1390.9 792.8 1393.9 797 1397.6 799.8 C1401.3 802.6 1405.9 809.8 1407.6 806.8 C1409.3 803.8 1414.6 786 1407.6 781.8 C1400.6 777.6 1369.3 780.5 1365.6 781.8 Z" fill="#E48AE4"/>
<path d="M823.6 797.8 C824.9 792.4 821.4 798.2 831.6 797.7 C841.8 797.2 869.4 795.2 884.9 794.7 C900.4 794.2 911.2 794.3 924.4 794.8 C937.6 795.3 950.7 797.5 963.9 797.7 C977.1 797.8 990.2 796.4 1003.4 795.7 C1016.6 795 1029.7 794 1042.9 793.7 C1056.1 793.4 1070.3 793.4 1082.4 793.7 C1094.5 794 1107.6 795.3 1115.6 795.7 C1123.6 796.1 1123.1 795.7 1130.6 796.1 C1138.1 796.5 1152.9 796.7 1160.6 798.1 C1168.3 799.4 1173.9 802.6 1176.9 804.2 C1179.9 805.8 1178.6 806.5 1178.6 807.8 C1178.6 809.1 1179.9 810.1 1176.9 812.2 C1173.9 814.3 1168.3 818.2 1160.6 820.2 C1152.9 822.2 1138.1 823.8 1130.6 824.3 C1123.1 824.8 1123.6 822.6 1115.6 823.4 C1107.6 824.2 1094.5 828.6 1082.4 829.3 C1070.3 829.9 1056.1 828.3 1042.9 827.3 C1029.7 826.3 1013.3 825 1003.4 823.4 C993.5 821.8 990.2 818.4 983.6 817.4 C977 816.4 973.8 816.4 963.9 817.4 C954 818.4 937.6 821.4 924.4 823.4 C911.2 825.4 900.4 828.3 884.9 829.3 C869.4 830.3 841.8 829.2 831.6 829.3 C821.4 829.4 824.9 835 823.6 829.8 C822.3 824.5 822.3 803.1 823.6 797.8 Z" fill="#3E3EF8"/>
<path d="M823.6 799.8 C824.9 795.5 821.4 800.2 831.6 799.8 C841.8 799.4 869.4 797.6 884.9 797.3 C900.4 797 911.2 797.4 924.4 797.8 C937.6 798.2 950.7 799.7 963.9 799.8 C977.1 799.9 990.2 798.9 1003.4 798.3 C1016.6 797.7 1029.7 796.6 1042.9 796.3 C1056.1 796 1070.3 796 1082.4 796.3 C1094.5 796.6 1105.9 797.9 1115.6 798.3 C1125.3 798.7 1132.6 798.2 1140.6 798.8 C1148.6 799.4 1158.6 800.3 1163.6 801.8 C1168.6 803.3 1170.6 805.6 1170.6 807.8 C1170.6 810 1168.6 812.8 1163.6 814.8 C1158.6 816.8 1148.6 818.8 1140.6 819.8 C1132.6 820.8 1125.3 819.8 1115.6 820.8 C1105.9 821.8 1094.5 825.2 1082.4 825.8 C1070.3 826.4 1056.1 825.2 1042.9 824.3 C1029.7 823.4 1013.3 821.9 1003.4 820.3 C993.5 818.7 990.2 815.7 983.6 814.8 C977 813.9 973.8 813.8 963.9 814.8 C954 815.8 937.6 819 924.4 820.8 C911.2 822.6 900.4 825 884.9 825.8 C869.4 826.6 841.8 825.8 831.6 825.8 C821.4 825.8 824.9 830.1 823.6 825.8 C822.3 821.5 822.3 804.1 823.6 799.8 Z" fill="#5555F2"/>
<path d="M823.6 803.8 C827.2 800.8 835.2 802.2 845.4 801.6 C855.6 801 871.7 800.3 884.9 800.3 C898.1 800.2 912.9 800.7 924.4 801.3 C935.9 801.9 947.1 802.9 954 803.8 C960.9 804.7 965.6 805.3 965.6 806.8 C965.6 808.3 960.9 811 954 812.8 C947.1 814.6 935.9 816.4 924.4 817.8 C912.9 819.2 898.1 820.8 884.9 821.4 C871.7 822 855.6 821.7 845.4 821.4 C835.2 821.1 827.2 822.7 823.6 819.8 C820 816.9 820 806.8 823.6 803.8 Z" fill="#2F8AE8"/>
<path d="M845.6 811.8 C847.5 810.5 850.9 807.8 859.2 806.8 C867.5 805.8 883.7 805.7 895.6 805.6 C907.5 805.5 922.5 805.8 930.6 806.3 C938.7 806.8 940.3 808 944.1 808.8 C947.9 809.6 953.6 810.1 953.6 811.3 C953.6 812.5 952.1 814.8 944.1 815.8 C936.1 816.8 919.8 817.2 905.6 817.4 C891.5 817.6 868.9 817.2 859.2 816.8 C849.5 816.4 849.9 815.6 847.6 814.8 C845.3 814 843.7 813.1 845.6 811.8 Z" fill="#42ABF6"/>
<path d="M950.6 804.8 C954.8 801.3 974.9 796.1 985.6 793.8 C996.3 791.5 1003.1 791.8 1014.6 790.8 C1026.1 789.8 1041.1 788.3 1054.6 787.8 C1068.1 787.3 1082.1 787.5 1095.6 787.8 C1109.1 788.1 1124.8 788.5 1135.6 789.8 C1146.4 791.1 1154.3 793.5 1160.6 795.8 C1166.9 798.1 1171.1 801.8 1173.6 803.8 C1176.1 805.8 1176.3 806 1175.6 807.8 C1174.9 809.6 1174.6 812.5 1169.6 814.8 C1164.6 817.1 1156.3 820 1145.6 821.8 C1134.9 823.6 1120.8 825 1105.6 825.8 C1090.4 826.6 1069.8 827 1054.6 826.8 C1039.4 826.6 1026.1 825.9 1014.6 824.8 C1003.1 823.7 994.6 821.8 985.6 820.1 C976.6 818.4 966.4 817.3 960.6 814.8 C954.8 812.2 946.4 808.3 950.6 804.8 Z" fill="#3E3EF8"/>
<path d="M952.6 805 C956.8 802.3 975.3 797.9 985.6 795.8 C995.9 793.7 1003.1 793.4 1014.6 792.3 C1026.1 791.2 1041.1 789.8 1054.6 789.3 C1068.1 788.8 1082.4 789 1095.6 789.3 C1108.8 789.6 1123.3 790 1133.6 791.3 C1143.9 792.6 1151.8 795.1 1157.6 797.3 C1163.4 799.5 1166.6 802.5 1168.6 804.3 C1170.6 806 1170.3 806.2 1169.6 807.8 C1168.9 809.4 1169.3 811.7 1164.6 813.8 C1159.9 815.9 1151.4 818.6 1141.6 820.3 C1131.8 822 1120.1 823 1105.6 823.8 C1091.1 824.5 1069.8 825 1054.6 824.8 C1039.4 824.5 1026.1 823.8 1014.6 822.3 C1003.1 820.8 994.6 817.5 985.6 815.8 C976.6 814 966.1 813.6 960.6 811.8 C955.1 810 948.4 807.7 952.6 805 Z" fill="#2F8AE8"/>
<path d="M954.6 805.2 C958.8 803.2 975.6 799.6 985.6 797.8 C995.6 796 1003.1 795.5 1014.6 794.3 C1026.1 793.1 1041.1 791.2 1054.6 790.6 C1068.1 790 1082.6 790.2 1095.6 790.6 C1108.6 791 1122.6 791.4 1132.6 792.8 C1142.6 794.2 1150.8 796.7 1155.6 798.8 C1160.4 800.9 1160.6 803.8 1161.6 805.3 C1162.6 806.8 1162.3 806.5 1161.6 807.8 C1160.9 809 1161.9 810.9 1157.6 812.8 C1153.3 814.7 1145.9 817.7 1135.6 819.3 C1125.3 820.9 1109.1 821.7 1095.6 822.3 C1082.1 822.9 1068.1 823.1 1054.6 822.8 C1041.1 822.5 1026.1 821.9 1014.6 820.3 C1003.1 818.7 994.6 815 985.6 813.3 C976.6 811.5 965.8 811.1 960.6 809.8 C955.4 808.4 950.4 807.2 954.6 805.2 Z" fill="#02EBA3"/>
<path d="M956.6 805.3 C960.3 803.8 975.9 800.7 985.6 799.1 C995.3 797.5 1003.1 797.1 1014.6 795.8 C1026.1 794.5 1041.1 792 1054.6 791.3 C1068.1 790.5 1082.8 790.9 1095.6 791.3 C1108.4 791.7 1121.9 792.4 1131.6 793.8 C1141.3 795.2 1149.4 797.7 1153.6 799.8 C1157.8 801.9 1156.6 804.1 1156.6 806.3 C1156.6 808.5 1157.8 810.5 1153.6 812.8 C1149.4 815 1141.3 818.2 1131.6 819.8 C1121.9 821.4 1108.4 821.9 1095.6 822.3 C1082.8 822.7 1068.1 822.9 1054.6 822.3 C1041.1 821.7 1026.1 820.6 1014.6 818.8 C1003.1 817 994.1 813.3 985.6 811.5 C977.1 809.7 968.4 808.8 963.6 807.8 C958.8 806.8 952.9 806.8 956.6 805.3 Z" fill="#10C84A"/>
<path d="M973.6 805.6 C973.9 803.7 987.8 801.4 995.6 799.8 C1003.4 798.2 1010.8 797.1 1020.6 795.8 C1030.4 794.5 1042.1 792.6 1054.6 792 C1067.1 791.4 1082.9 791.6 1095.6 792 C1108.3 792.4 1121.3 792.9 1130.6 794.3 C1139.9 795.7 1147.6 798.3 1151.6 800.3 C1155.6 802.3 1154.6 804.3 1154.6 806.3 C1154.6 808.3 1155.6 810.2 1151.6 812.3 C1147.6 814.4 1139.9 817.3 1130.6 818.8 C1121.3 820.3 1108.3 820.9 1095.6 821.3 C1082.9 821.7 1067.6 821.8 1054.6 821.3 C1041.6 820.8 1027.8 820 1017.6 818.3 C1007.4 816.6 1000.9 813.4 993.6 811.3 C986.3 809.2 973.3 807.5 973.6 805.6 Z" fill="#24E026"/>
<path d="M988.6 805.8 C989.6 803.7 997.4 801.5 1003.6 799.8 C1009.8 798.1 1017.1 797 1025.6 795.8 C1034.1 794.6 1042.9 793.1 1054.6 792.6 C1066.3 792.1 1083.1 792.2 1095.6 792.6 C1108.1 793 1120.8 793.4 1129.6 794.8 C1138.4 796.2 1144.9 798.9 1148.6 800.8 C1152.3 802.7 1151.6 804.4 1151.6 806.3 C1151.6 808.2 1152.3 810.4 1148.6 812.3 C1144.9 814.2 1138.4 816.4 1129.6 817.8 C1120.8 819.2 1108.1 820.1 1095.6 820.6 C1083.1 821.1 1067.1 821.1 1054.6 820.6 C1042.1 820.1 1030.1 819.2 1020.6 817.8 C1011.1 816.4 1002.9 814.3 997.6 812.3 C992.3 810.3 987.6 807.9 988.6 805.8 Z" fill="#FEC31A"/>
<path d="M993.6 805.8 C994.6 803.7 1001.4 801 1007.6 799.3 C1013.8 797.6 1022.8 796.8 1030.6 795.8 C1038.4 794.8 1043.8 794 1054.6 793.6 C1065.4 793.2 1083.4 793.2 1095.6 793.6 C1107.8 794 1119.3 794.5 1127.6 795.8 C1135.9 797.1 1142.3 799.5 1145.6 801.3 C1148.9 803 1147.6 804.5 1147.6 806.3 C1147.6 808 1148.9 810 1145.6 811.8 C1142.3 813.6 1135.9 816 1127.6 817.3 C1119.3 818.5 1107.8 819 1095.6 819.3 C1083.4 819.6 1066.6 819.7 1054.6 819.3 C1042.6 818.9 1032.4 818 1023.6 816.8 C1014.8 815.5 1006.6 813.6 1001.6 811.8 C996.6 810 992.6 807.9 993.6 805.8 Z" fill="#F58A00"/>
<path d="M998.2 805.8 C999 803.7 1003.7 800.5 1009.6 798.8 C1015.5 797.1 1026.1 796.5 1033.6 795.8 C1041.1 795.1 1044.3 794.8 1054.6 794.6 C1064.9 794.4 1083.8 794.2 1095.6 794.6 C1107.4 795 1117.9 795.6 1125.6 796.8 C1133.3 798 1138.6 800.2 1141.6 801.8 C1144.6 803.4 1143.6 804.8 1143.6 806.3 C1143.6 807.8 1144.6 809.1 1141.6 810.8 C1138.6 812.5 1133.3 815.1 1125.6 816.3 C1117.9 817.5 1107.4 817.5 1095.6 817.8 C1083.8 818 1066.3 818.1 1054.6 817.8 C1042.9 817.5 1033.9 816.9 1025.6 815.8 C1017.3 814.7 1009.2 813 1004.6 811.3 C1000 809.6 997.4 807.9 998.2 805.8 Z" fill="#D4042A"/>
<g filter="url(#blur1_5)"><path d="M1003.6 805.8 C1004.3 804 1006.3 801.3 1011.6 799.8 C1016.9 798.3 1028.4 797.5 1035.6 796.8 C1042.8 796.1 1044.6 796 1054.6 795.8 C1064.6 795.6 1084.1 795.5 1095.6 795.8 C1107.1 796.1 1116.4 796.6 1123.6 797.8 C1130.8 799 1135.8 801.4 1138.6 802.8 C1141.4 804.2 1140.6 805 1140.6 806.3 C1140.6 807.5 1141.4 808.9 1138.6 810.3 C1135.8 811.7 1130.8 813.7 1123.6 814.8 C1116.4 815.9 1107.1 816.5 1095.6 816.8 C1084.1 817.1 1066.1 817.1 1054.6 816.8 C1043.1 816.5 1034.4 815.9 1026.6 814.8 C1018.8 813.7 1011.4 811.8 1007.6 810.3 C1003.8 808.8 1002.9 807.5 1003.6 805.8 Z" fill="#EE6470"/></g>
<path d="M1008.6 805.3 C1008.9 803.5 1009.1 801 1013.6 799.8 C1018.1 798.5 1028.8 798.3 1035.6 797.8 C1042.4 797.3 1044.6 797.1 1054.6 797 C1064.6 796.9 1084.3 796.6 1095.6 797 C1106.9 797.4 1115.8 798.1 1122.6 799.1 C1129.4 800.1 1133.7 802 1136.2 803.2 C1138.7 804.4 1137.6 805.3 1137.6 806.3 C1137.6 807.3 1138.7 808.1 1136.2 809.3 C1133.7 810.5 1129.4 812.4 1122.6 813.4 C1115.8 814.4 1106.9 815.1 1095.6 815.4 C1084.3 815.7 1065.9 815.7 1054.6 815.4 C1043.3 815.1 1034.8 814.6 1027.6 813.8 C1020.4 812.9 1014.8 811.7 1011.6 810.3 C1008.4 808.9 1008.3 807 1008.6 805.3 Z" fill="#F9B48A"/>
<path d="M960.6 785.4 C965.8 785.8 977.1 787.5 991.6 787.8 C1006.1 788.1 1030.3 787.2 1047.6 787.1 C1064.9 787 1087.6 787.3 1095.6 787.3" fill="none" stroke="#fff" stroke-width="1.2"/>
<path d="M1119.6 789.1 C1125.6 788.9 1144.8 788.2 1155.6 787.8 C1166.4 787.4 1175.3 787.2 1184.6 786.8 C1193.8 786.3 1204.9 785.5 1211.1 785.1 C1217.3 784.6 1219.8 784.3 1221.6 784.1" fill="none" stroke="#fff" stroke-width="1.2"/>
<path d="M1325.6 784.3 C1330.6 784.9 1347.3 786.5 1355.6 787.8 C1363.9 789 1372.3 791.1 1375.6 791.8" fill="none" stroke="#fff" stroke-width="1.2"/>
<path d="M885.6 790.8 C889.9 790.7 901.6 790.1 911.6 790.3 C921.6 790.5 935.8 791.2 945.6 791.8 C955.4 792.4 960.6 793.1 970.6 793.8 C980.6 794.5 993.1 795.3 1005.6 795.8 C1018.1 796.3 1028.1 796.1 1045.6 796.8 C1063.1 797.5 1086.4 799.3 1110.6 800.1 C1134.8 800.9 1157.3 801.2 1190.6 801.8 C1223.9 802.4 1282.8 803.1 1310.6 803.8 C1338.4 804.5 1342.1 804.3 1357.6 805.8 C1373.1 807.3 1395.9 811.6 1403.6 812.8" fill="none" stroke="#eee" stroke-width="1.2"/>
<path d="M825.6 807.8 C826.6 807.8 818.1 808.8 831.6 807.6 C845.1 806.4 883.4 802.1 906.6 800.8 C929.8 799.5 947.4 799.8 970.6 799.6 C993.8 799.4 1025.8 799.8 1045.6 799.8 C1065.4 799.8 1078.8 799.5 1089.6 799.8 C1100.4 800.1 1100.4 799.5 1110.6 801.8 C1120.8 804.1 1135.9 811.4 1150.6 813.8 C1165.3 816.2 1184.4 815.9 1198.6 816.2 C1212.8 816.5 1229.4 815.9 1235.6 815.8" fill="none" stroke="#fff" stroke-width="1.2"/>
<path d="M1270.6 815.2 C1277.4 815.7 1297.1 816.8 1311.6 818.2 C1326.1 819.6 1342.3 821 1357.6 823.8 C1372.9 826.6 1395.9 833 1403.6 834.8" fill="none" stroke="#fff" stroke-width="1.2"/>
<path d="M825.6 825.1 C826.6 825.1 821.8 824.9 831.6 825.3 C841.4 825.7 865.9 826.1 884.6 827.3 C903.4 828.5 927.6 831.6 944.1 832.3 C960.6 833 974.7 833 983.6 831.3 C992.5 829.5 994.6 824 997.6 821.8 C1000.6 819.5 1000.9 818.5 1001.6 817.8" fill="none" stroke="#fff" stroke-width="1.3"/>
<path d="M1042.6 817.4 C1043.6 818.4 1049.1 820.8 1048.6 823.4 C1048.1 826 1040.6 829.8 1039.6 832.8 C1038.6 835.8 1035.4 838.7 1042.6 841.1 C1049.8 843.5 1071.3 844.9 1082.6 847.1 C1093.9 849.3 1092.6 852.5 1110.6 854.4 C1128.6 856.3 1170.5 856.7 1190.6 858.4 C1210.7 860.1 1217.7 861.7 1231.2 864.4 C1244.7 867.1 1264.7 872.8 1271.4 874.5" fill="none" stroke="#fff" stroke-width="1.3"/>
<path d="M825.6 841.8 C826.6 842 815.1 839.6 831.6 843.1 C848.1 846.6 900.7 857.6 924.4 862.9 C948.1 868.2 965.4 872.8 973.6 874.8" fill="none" stroke="#fff" stroke-width="1.3"/>
<text transform="translate(872.6 796.8) scale(1.1 1)" class="cw" text-anchor="middle">24</text>
<text transform="translate(1020.6 819.8) scale(1.1 1)" class="cw" text-anchor="middle">26</text>
<text transform="translate(1253.6 820.3) scale(1.1 1)" class="cw" text-anchor="middle">25</text>
<text transform="translate(1127.6 793.8) scale(1.1 1)" class="cw" text-anchor="middle">23</text>
<text transform="translate(1389.6 801.8) scale(1.1 1)" class="cw" text-anchor="middle">23</text>
<path d="M867.6 837.8 C870.6 837 875.9 834.6 885.6 832.8 C895.3 831 912.3 828.8 925.6 826.8 C938.9 824.8 954.6 822.1 965.6 820.8 C976.6 819.5 983.3 818.3 991.6 818.8 C999.9 819.3 1008.3 822.5 1015.6 823.8 C1022.9 825.1 1027.3 826 1035.6 826.8 C1043.9 827.6 1056.6 828.3 1065.6 828.8 C1074.6 829.3 1081.3 830.6 1089.6 829.8 C1097.9 829 1107.1 825.1 1115.6 823.8 C1124.1 822.5 1132.3 822.5 1140.6 821.8 C1148.9 821.1 1158.1 820.8 1165.6 819.8 C1173.1 818.8 1178.9 816.8 1185.6 815.8 C1192.3 814.8 1200.6 813.8 1205.6 813.8 C1210.6 813.8 1213.9 815.5 1215.6 815.8" fill="none" stroke="#111" stroke-width="0.9"/>
<path d="M845.6 844.8 C846.4 846 847.3 849.1 850.6 851.8 C853.9 854.5 856.4 858.8 865.6 860.8 C874.8 862.8 892.3 864 905.6 863.8 C918.9 863.6 932.3 861.8 945.6 859.8 C958.9 857.8 972.3 853.6 985.6 851.8 C998.9 850 1010.6 849.5 1025.6 848.8 C1040.6 848.1 1064.9 848.1 1075.6 847.8 C1086.3 847.5 1081.3 847 1089.6 846.8 C1097.9 846.6 1112.9 846.5 1125.6 846.8 C1138.3 847.1 1153.9 849.1 1165.6 848.8 C1177.3 848.5 1187.3 846.8 1195.6 844.8 C1203.9 842.8 1213.9 839.8 1215.6 836.8 C1217.3 833.8 1212.3 829.3 1205.6 826.8 C1198.9 824.3 1180.6 822.6 1175.6 821.8" fill="none" stroke="#111" stroke-width="0.9"/>
<path d="M935.6 788.8 C937.3 788.3 938.9 786.4 945.6 785.8 C952.3 785.2 965.6 785.2 975.6 785.3 C985.6 785.4 995.6 785.7 1005.6 786.3 C1015.6 786.9 1022.3 788.2 1035.6 788.8 C1048.9 789.4 1072.3 789.3 1085.6 789.8 C1098.9 790.3 1110.6 791.5 1115.6 791.8" fill="none" stroke="#111" stroke-width="0.9"/>
<path d="M1145.6 808.8 C1148.1 808 1155.6 805 1160.6 803.8 C1165.6 802.6 1170.6 801.5 1175.6 801.8 C1180.6 802.1 1185.6 804.8 1190.6 805.8 C1195.6 806.8 1203.1 807.5 1205.6 807.8" fill="none" stroke="#111" stroke-width="0.9"/>
<path d="M1175.6 799.8 C1182.3 799.1 1203.9 797.1 1215.6 795.8 C1227.3 794.5 1238.6 793.1 1245.6 791.8 C1252.6 790.5 1256.8 789.1 1257.6 787.8 C1258.4 786.5 1251.8 784.5 1250.6 783.8" fill="none" stroke="#111" stroke-width="0.9"/>
<path d="M1385.6 786.8 C1386.9 789.3 1390.6 798.5 1393.6 801.8 C1396.6 805.1 1401.9 806 1403.6 806.8" fill="none" stroke="#111" stroke-width="0.9"/>
<path d="M1045.6 805.8 C1048.9 805 1055.6 801.7 1065.6 800.8 C1075.6 799.9 1095.6 799.8 1105.6 800.3 C1115.6 800.8 1122.6 802.2 1125.6 803.8 C1128.6 805.4 1128.6 808.5 1123.6 809.8 C1118.6 811.1 1106.1 811.5 1095.6 811.8 C1085.1 812 1068.9 811.8 1060.6 811.3 C1052.3 810.8 1048.1 809.7 1045.6 808.8 C1043.1 807.9 1045.6 806.3 1045.6 805.8" fill="none" stroke="#111" stroke-width="0.8"/>
<path d="M1011.6 804.8 C1017.3 803.8 1029.9 799.9 1045.6 798.8 C1061.3 797.7 1090.6 797.6 1105.6 798.3 C1120.6 799 1130.3 801 1135.6 802.8 C1140.9 804.5 1142.6 806.9 1137.6 808.8 C1132.6 810.7 1120.9 813.5 1105.6 814.3 C1090.3 815.1 1061.3 814.7 1045.6 813.8 C1029.9 812.9 1017.3 810.3 1011.6 808.8 C1005.9 807.3 1011.6 805.5 1011.6 804.8" fill="none" stroke="#111" stroke-width="0.8"/>
<path d="M1265.6 812.8 C1269.8 812.5 1282.3 810.8 1290.6 810.8 C1298.9 810.8 1310.6 812 1315.6 812.8 C1320.6 813.6 1319.8 815.3 1320.6 815.8" fill="none" stroke="#111" stroke-width="0.8"/>
<text transform="translate(857.6 847.8) scale(1.1 1)" class="cb" text-anchor="middle">0</text>
<text transform="translate(1212.6 812.8) scale(1.1 1)" class="cb" text-anchor="middle">0</text>
<text transform="translate(961.6 811.8) scale(1.1 1)" class="cb" text-anchor="middle">2</text>
<text transform="translate(989.6 811.8) scale(1.1 1)" class="cb" text-anchor="middle">4</text>
<text transform="translate(1032.6 809.8) scale(1.1 1)" class="cb" text-anchor="middle">8</text>
<text transform="translate(1132.6 810.8) scale(1.1 1)" class="cb" text-anchor="middle">6</text>
<text transform="translate(1085.6 807.8) scale(1.1 1)" class="cb" text-anchor="middle">10</text>
<text transform="translate(1294.6 816.3) scale(1.1 1)" class="cb" text-anchor="middle">2</text>
<text transform="translate(1396.6 823.8) scale(1.1 1)" class="cb" text-anchor="middle">0</text>
</g>
<path d="M831.4 1003.5 L855.6 1003.5 L903.6 1033.8 L831.4 1033.8 Z" fill="#3a3a3a"/>
</g>
<path d="M1168.2 1033.8 L1254.4 946 L1377.4 1033.8 Z" fill="#333"/>
<g clip-path="url(#clip5)">
<circle cx="839.8" cy="784.3" r="2.4" fill="#333"/>
<circle cx="839.8" cy="801.3" r="2.4" fill="#333"/>
<circle cx="839.8" cy="813.8" r="2.4" fill="#333"/>
<circle cx="839.8" cy="834.8" r="2.4" fill="#333"/>
<circle cx="839.8" cy="850.8" r="2.4" fill="#333"/>
<circle cx="839.8" cy="867.6" r="2.4" fill="#333"/>
<circle cx="907.2" cy="784.3" r="2.4" fill="#333"/>
<circle cx="907.2" cy="798.3" r="2.4" fill="#333"/>
<circle cx="907.2" cy="813.3" r="2.4" fill="#333"/>
<circle cx="907.2" cy="826.1" r="2.4" fill="#333"/>
<circle cx="907.2" cy="850.8" r="2.4" fill="#333"/>
<circle cx="907.2" cy="859.3" r="2.4" fill="#333"/>
<circle cx="907.2" cy="867.6" r="2.4" fill="#333"/>
<circle cx="991.6" cy="784.3" r="2.4" fill="#333"/>
<circle cx="991.6" cy="792.8" r="2.4" fill="#333"/>
<circle cx="991.6" cy="808.1" r="2.4" fill="#333"/>
<circle cx="991.6" cy="817.5" r="2.4" fill="#333"/>
<circle cx="991.6" cy="850.8" r="2.4" fill="#333"/>
<circle cx="991.6" cy="867.6" r="2.4" fill="#333"/>
<circle cx="1089.7" cy="784.3" r="2.4" fill="#333"/>
<circle cx="1089.7" cy="796.5" r="2.4" fill="#333"/>
<circle cx="1089.7" cy="803.2" r="2.4" fill="#333"/>
<circle cx="1089.7" cy="810.1" r="2.4" fill="#333"/>
<circle cx="1089.7" cy="826.1" r="2.4" fill="#333"/>
<circle cx="1089.7" cy="842.7" r="2.4" fill="#333"/>
<circle cx="1089.7" cy="867.6" r="2.4" fill="#333"/>
<circle cx="1167.6" cy="784.3" r="2.4" fill="#333"/>
<circle cx="1167.6" cy="801" r="2.4" fill="#333"/>
<circle cx="1167.6" cy="809.6" r="2.4" fill="#333"/>
<circle cx="1167.6" cy="817.8" r="2.4" fill="#333"/>
<circle cx="1167.6" cy="834.8" r="2.4" fill="#333"/>
<circle cx="1167.6" cy="850.8" r="2.4" fill="#333"/>
<circle cx="1167.6" cy="867.6" r="2.4" fill="#333"/>
<circle cx="1254.3" cy="784.3" r="2.4" fill="#333"/>
<circle cx="1254.3" cy="797" r="2.4" fill="#333"/>
<circle cx="1254.3" cy="809.6" r="2.4" fill="#333"/>
<circle cx="1254.3" cy="817.8" r="2.4" fill="#333"/>
<circle cx="1254.3" cy="826.1" r="2.4" fill="#333"/>
<circle cx="1254.3" cy="842.7" r="2.4" fill="#333"/>
<circle cx="1254.3" cy="867.6" r="2.4" fill="#333"/>
<circle cx="1378.3" cy="784.3" r="2.4" fill="#333"/>
<circle cx="1378.3" cy="805.2" r="2.4" fill="#333"/>
<circle cx="1378.3" cy="822.2" r="2.4" fill="#333"/>
<circle cx="1378.3" cy="830.6" r="2.4" fill="#333"/>
<circle cx="1378.3" cy="845.9" r="2.4" fill="#333"/>
<circle cx="1378.3" cy="867.6" r="2.4" fill="#333"/>
</g>
<path d="M831.4 1003.5 L855.6 1003.5 L903.6 1033.3 L831.4 1033.3 Z" fill="#3a3a3a"/><rect x="837.6" y="999.8" width="151.2" height="30.7" fill="#000"/><text x="842.3" y="1022.5" class="ttl" style="font-size:20.5px" textLength="143" lengthAdjust="spacingAndGlyphs">Chl-a [mg m<tspan font-size="11.5" dy="-8">–3</tspan><tspan dy="8">]</tspan></text>
<rect x="831.4" y="784.3" width="568" height="249" fill="none" stroke="#111" stroke-width="1.4"/>
<path d="M831.4 784.3 h-6" stroke="#111" stroke-width="1.3"/>
<text transform="translate(817.1 789.6) scale(1.07 1)" class="tk" text-anchor="end">0</text>
<path d="M831.4 825.8 h-6" stroke="#111" stroke-width="1.3"/>
<text transform="translate(817.1 831.1) scale(1.07 1)" class="tk" text-anchor="end">50</text>
<path d="M831.4 867.3 h-6" stroke="#111" stroke-width="1.3"/>
<text transform="translate(817.1 872.6) scale(1.07 1)" class="tk" text-anchor="end">100</text>
<path d="M831.4 908.8 h-6" stroke="#111" stroke-width="1.3"/>
<text transform="translate(817.1 914.1) scale(1.07 1)" class="tk" text-anchor="end">150</text>
<path d="M831.4 950.3 h-6" stroke="#111" stroke-width="1.3"/>
<text transform="translate(817.1 955.6) scale(1.07 1)" class="tk" text-anchor="end">200</text>
<path d="M831.4 991.8 h-6" stroke="#111" stroke-width="1.3"/>
<text transform="translate(817.1 997.1) scale(1.07 1)" class="tk" text-anchor="end">250</text>
<path d="M831.4 1033.3 h-6" stroke="#111" stroke-width="1.3"/>
<text transform="translate(817.1 1038.6) scale(1.07 1)" class="tk" text-anchor="end">300</text>
<path d="M831.4 1033.3 v6" stroke="#111" stroke-width="1.2"/>
<text transform="translate(830.9 1060.1) scale(1.05 1)" class="tk" text-anchor="middle">0</text>
<path d="M901.1 1033.3 v5" stroke="#111" stroke-width="1.2"/>
<path d="M970.8 1033.3 v6" stroke="#111" stroke-width="1.2"/>
<text transform="translate(970.3 1060.1) scale(1.05 1)" class="tk" text-anchor="middle">200</text>
<path d="M1040.5 1033.3 v5" stroke="#111" stroke-width="1.2"/>
<path d="M1110.2 1033.3 v6" stroke="#111" stroke-width="1.2"/>
<text transform="translate(1109.7 1060.1) scale(1.05 1)" class="tk" text-anchor="middle">400</text>
<path d="M1179.9 1033.3 v5" stroke="#111" stroke-width="1.2"/>
<path d="M1249.6 1033.3 v6" stroke="#111" stroke-width="1.2"/>
<text transform="translate(1249.1 1060.1) scale(1.05 1)" class="tk" text-anchor="middle">600</text>
<path d="M1319.3 1033.3 v5" stroke="#111" stroke-width="1.2"/>
<path d="M1389 1033.3 v6" stroke="#111" stroke-width="1.2"/>
<text transform="translate(1388.5 1060.1) scale(1.05 1)" class="tk" text-anchor="middle">800</text>
<text x="836.6" y="779.3" class="st" text-anchor="middle">32</text>
<text x="905.7" y="779.3" class="st" text-anchor="middle">28</text>
<text x="988.7" y="779.3" class="st" text-anchor="middle">27</text>
<text x="1085.8" y="779.3" class="st" text-anchor="middle">26</text>
<text x="1164.7" y="779.3" class="st" text-anchor="middle">25</text>
<text x="1250.6" y="779.3" class="st" text-anchor="middle">24</text>
<text x="1373" y="779.3" class="st" text-anchor="middle">15</text>
<text transform="translate(754 755.4) scale(1 1.08)" class="pl">F</text>
<text transform="translate(771.1 908.8) rotate(-90) scale(1.03 1)" class="ax" text-anchor="middle">Depth [m]</text>
<defs>
<linearGradient id="cbg1_1417_784" x1="0" y1="0" x2="0" y2="1"><stop offset="0" stop-color="#FDB68A"/><stop offset="0.2" stop-color="#FA9E7C"/><stop offset="0.3" stop-color="#F8866F"/><stop offset="0.5" stop-color="#F47266"/><stop offset="0.7" stop-color="#EE5A5E"/><stop offset="0.8" stop-color="#E8404F"/><stop offset="1" stop-color="#E2203F"/></linearGradient>
<linearGradient id="cbg4_1417_784" x1="0" y1="0" x2="0" y2="1"><stop offset="0" stop-color="#FB2A00"/><stop offset="0.1" stop-color="#E84A00"/><stop offset="0.3" stop-color="#DD6600"/><stop offset="0.4" stop-color="#F08000"/><stop offset="0.6" stop-color="#FF9500"/><stop offset="0.7" stop-color="#FFA500"/><stop offset="0.9" stop-color="#FDB515"/><stop offset="1" stop-color="#FEC31A"/></linearGradient>
<linearGradient id="cbg6_1417_784" x1="0" y1="0" x2="0" y2="1"><stop offset="0" stop-color="#6BC853"/><stop offset="1" stop-color="#5CC84A"/></linearGradient>
<linearGradient id="cbg17_1417_784" x1="0" y1="0" x2="0" y2="1"><stop offset="0" stop-color="#DE46D6"/><stop offset="1" stop-color="#EC70EC"/></linearGradient>
</defs>
<rect x="1417.8" y="784.3" width="24.6" height="6.8" fill="#FDB68A"/>
<rect x="1417.8" y="790.5" width="24.6" height="25.5" fill="url(#cbg1_1417_784)"/>
<rect x="1417.8" y="815.4" width="24.6" height="11.1" fill="#D6062A"/>
<rect x="1417.8" y="825.9" width="24.6" height="4.1" fill="#FB2A00"/>
<rect x="1417.8" y="829.4" width="24.6" height="26" fill="url(#cbg4_1417_784)"/>
<rect x="1417.8" y="854.8" width="24.6" height="33.6" fill="#FEC31A"/>
<rect x="1417.8" y="887.8" width="24.6" height="11.6" fill="url(#cbg6_1417_784)"/>
<rect x="1417.8" y="898.8" width="24.6" height="7.8" fill="#40CC3A"/>
<rect x="1417.8" y="906.1" width="24.6" height="14.5" fill="#22E022"/>
<rect x="1417.8" y="920" width="24.6" height="20.5" fill="#0CC84A"/>
<rect x="1417.8" y="939.9" width="24.6" height="19.5" fill="#00EBA3"/>
<rect x="1417.8" y="958.8" width="24.6" height="8.6" fill="#42ABF6"/>
<rect x="1417.8" y="966.8" width="24.6" height="8.6" fill="#3A9AF0"/>
<rect x="1417.8" y="974.8" width="24.6" height="10.8" fill="#2F88E8"/>
<rect x="1417.8" y="985" width="24.6" height="19.5" fill="#5353F2"/>
<rect x="1417.8" y="1003.9" width="24.6" height="17.3" fill="#3E3EF8"/>
<rect x="1417.8" y="1020.6" width="24.6" height="5.8" fill="#9E86EE"/>
<rect x="1417.8" y="1025.8" width="24.6" height="8.1" fill="url(#cbg17_1417_784)"/>
<path d="M1421.3 784.9 L1430.1 780.5 L1438.9 784.9 Z" fill="#FDB68A"/>
<path d="M1421.3 784.5 L1430.1 780.5 L1438.9 784.5" fill="none" stroke="#222" stroke-width="0.8"/>
<path d="M1421.3 1032.7 L1430.1 1037.5 L1438.9 1032.7 Z" fill="#EC78EC"/>
<path d="M1421.3 1033.1 L1430.1 1037.5 L1438.9 1033.1" fill="none" stroke="#222" stroke-width="0.8"/>
<path d="M1417.8 784.3 V1033.3 M1442.4 784.3 V1033.3" fill="none" stroke="#222" stroke-width="0.9"/>
<path d="M1417.4 784.3 h5 M1442.8 784.3 h-5 M1417.4 1033.3 h5 M1442.8 1033.3 h-5" stroke="#111" stroke-width="1.6"/>
<text transform="translate(1448.9 789.5) scale(1.1 1)" class="tl">6</text>
<path d="M1417.8 867.3 h5.5 M1442.4 867.3 h-5.5" stroke="#111" stroke-width="1.5"/>
<text transform="translate(1448.9 872.5) scale(1.1 1)" class="tl">4</text>
<path d="M1417.8 950.3 h5.5 M1442.4 950.3 h-5.5" stroke="#111" stroke-width="1.5"/>
<text transform="translate(1448.9 955.5) scale(1.1 1)" class="tl">2</text>
<text transform="translate(1448.9 1038.5) scale(1.1 1)" class="tl">0</text>
<text transform="translate(1413.9 1030.3) rotate(-90)" class="odv">Ocean Data View / DIVA</text>
<text transform="translate(377.8 1087) scale(1.044 1)" class="ax" text-anchor="middle">Section Distance [km]</text>
<text transform="translate(1123.4 1087) scale(1.044 1)" class="ax" text-anchor="middle">Section Distance [km]</text>
</svg></body></html>
